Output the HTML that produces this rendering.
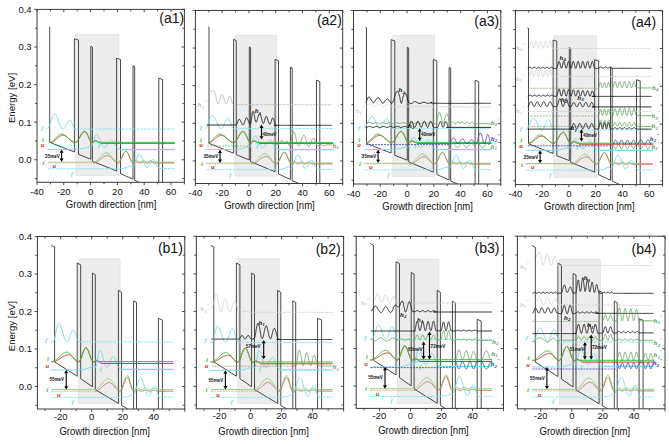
<!DOCTYPE html><html><head><meta charset="utf-8"><style>html,body{margin:0;padding:0;background:#fff;}svg{display:block;} .tk{}</style></head><body><svg width="669" height="446" viewBox="0 0 669 446" font-family='"Liberation Sans", sans-serif'>
<rect width="669" height="446" fill="#fff"/>
<clipPath id="ca1"><rect x="37.0" y="9.4" width="147.40" height="172.90"/></clipPath>
<rect x="75.80" y="34.60" width="43.10" height="140.90" fill="#ededed" stroke="#dcdcdc" stroke-width="0.6"/>
<g clip-path="url(#ca1)">
<g transform="translate(0.00,0.00)">
<path d="M49.2,26.7 49.7,27.2 49.7,142.3 74.4,152.0 74.4,38.7 78.5,40.2 78.5,154.4 90.8,159.2 90.8,46.2 92.4,47.0 92.4,161.2 116.6,171.0 116.6,58.2 120.5,59.5 120.5,173.6 133.0,179.2 133.0,65.8 134.7,66.5 134.7,180.4 158.8,191.0 158.8,78.1 162.6,79.5 162.6,196.0" fill="none" stroke="#363636" stroke-width="0.9" stroke-linejoin="miter"/>
</g>
<g transform="translate(0.00,0.00)">
<path d="M47.0,129.1 47.5,128.9 48.0,128.5 48.5,127.7 49.0,126.7 49.5,125.4 50.1,124.0 50.6,122.5 51.1,120.9 51.6,119.4 52.1,117.9 52.6,116.7 53.1,115.6 53.6,114.8 54.1,114.3 54.6,114.1 55.2,114.2 55.7,114.6 56.2,115.3 56.7,116.2 57.2,117.3 57.7,118.6 58.2,120.0 58.7,121.5 59.2,123.0 59.7,124.4 60.3,125.7 60.8,126.9 61.3,127.8 61.8,128.5 62.3,129.0 62.8,129.1 63.3,129.0 63.8,128.7 64.3,128.1 64.8,127.4 65.3,126.5 65.8,125.6 66.4,124.6 66.9,123.6 67.4,122.6 67.9,121.8 68.4,121.1 68.9,120.5 69.4,120.2 69.9,120.1 70.4,120.3 70.9,121.0 71.4,122.0 72.0,123.2 72.5,124.6 73.0,126.0 73.5,127.3 74.0,128.2 74.5,128.9 75.0,129.1 76.0,129.1" fill="none" stroke="#74dce8" stroke-width="0.9" stroke-linejoin="round"/>
<path d="M75.6,129.1 174.8,129.1" fill="none" stroke="#8fe3ea" stroke-width="0.9" stroke-dasharray="3,0.8" stroke-linejoin="round"/>
<path d="M48.0,149.4 75.0,149.4 80.0,149.0 85.0,148.2 89.5,146.8 90.5,147.6 91.0,147.4 91.5,146.7 92.0,145.7 92.5,144.4 93.0,142.9 93.5,141.2 94.1,139.5 94.6,137.9 95.1,136.5 95.6,135.4 96.1,134.7 96.6,134.4 97.1,134.5 97.6,134.9 98.1,135.5 98.6,136.4 99.1,137.5 99.6,138.8 100.1,140.1 100.6,141.5 101.2,142.9 101.7,144.2 102.2,145.4 102.7,146.3 103.2,147.0 103.7,147.5 104.2,147.6 104.7,147.5 105.2,147.3 105.7,146.9 106.2,146.3 106.7,145.7 107.2,144.9 107.7,144.1 108.2,143.3 108.7,142.5 109.2,141.8 109.7,141.2 110.2,140.7 110.7,140.3 111.2,140.1 111.7,140.0 112.2,140.2 112.7,140.7 113.2,141.4 113.7,142.3 114.2,143.4 114.7,144.4 115.2,145.4 115.7,146.3 116.2,147.0 116.7,147.5 117.2,147.6 119.0,149.1 121.0,149.5 121.5,149.5" fill="none" stroke="#74dce8" stroke-width="0.9" stroke-linejoin="round"/>
<path d="M121.0,149.5 174.8,149.5" fill="none" stroke="#74dce8" stroke-width="1.25" stroke-linejoin="round"/>
<path d="M49.8,142.6 50.3,142.6 50.8,142.5 51.3,142.4 51.8,142.2 52.3,141.9 52.8,141.7 53.4,141.4 53.9,141.0 54.4,140.6 54.9,140.2 55.4,139.8 55.9,139.3 56.4,138.9 56.9,138.5 57.4,138.0 57.9,137.6 58.4,137.2 58.9,136.8 59.5,136.4 60.0,136.1 60.5,135.9 61.0,135.6 61.5,135.4 62.0,135.3 62.5,135.2 63.0,135.2 63.5,135.2 64.0,135.3 64.5,135.5 65.0,135.7 65.5,136.0 66.1,136.3 66.6,136.7 67.1,137.1 67.6,137.5 68.1,137.9 68.6,138.4 69.1,138.9 69.6,139.4 70.1,139.9 70.6,140.3 71.1,140.8 71.6,141.2 72.2,141.5 72.7,141.8 73.2,142.1 73.7,142.3 74.2,142.5 74.7,142.6 75.2,142.6 75.7,142.5 76.2,142.3 76.7,141.9 77.2,141.4 77.7,140.8 78.2,140.0 78.7,139.2 79.2,138.3 79.7,137.4 80.2,136.5 80.7,135.6 81.2,134.7 81.7,133.9 82.2,133.2 82.7,132.5 83.2,132.0 83.8,131.7 84.3,131.5 84.8,131.4 85.3,131.5 85.8,131.9 86.3,132.5 86.8,133.3 87.3,134.3 87.8,135.3 88.3,136.5 88.8,137.6 89.3,138.8 89.8,139.8 90.3,140.8 90.8,141.5 91.3,142.1 91.8,142.5 92.3,142.6 92.8,142.5 93.3,142.3 93.8,141.9 94.4,141.5 94.9,141.2 95.4,141.1 95.9,141.1 96.4,141.2 96.9,141.4 97.4,141.7 97.9,142.0 98.5,142.2 99.0,142.4 99.5,142.6 100.0,142.6 101.0,143.3 174.8,143.3" fill="none" stroke="#cc3b2a" stroke-width="1.0" stroke-linejoin="round"/>
<path d="M49.8,142.3 50.3,142.3 50.8,142.1 51.3,142.0 51.8,141.7 52.3,141.4 52.8,141.0 53.4,140.5 53.9,140.1 54.4,139.5 54.9,139.0 55.4,138.4 55.9,137.9 56.4,137.3 56.9,136.8 57.4,136.3 57.9,135.8 58.4,135.3 58.9,134.9 59.5,134.6 60.0,134.3 60.5,134.2 61.0,134.0 61.5,134.0 62.0,134.0 62.5,134.1 63.0,134.2 63.5,134.4 64.0,134.7 64.5,135.0 65.0,135.3 65.5,135.7 66.1,136.1 66.6,136.5 67.1,137.0 67.6,137.4 68.1,137.9 68.6,138.4 69.1,138.9 69.6,139.3 70.1,139.8 70.6,140.2 71.1,140.6 71.6,141.0 72.2,141.3 72.7,141.6 73.2,141.9 73.7,142.0 74.2,142.2 74.7,142.3 75.2,142.3 75.7,142.2 76.2,142.0 76.7,141.6 77.2,141.1 77.7,140.5 78.2,139.8 78.7,139.0 79.2,138.2 79.7,137.3 80.2,136.4 80.7,135.5 81.2,134.7 81.7,133.9 82.2,133.2 82.7,132.6 83.2,132.1 83.8,131.8 84.3,131.6 84.8,131.5 85.3,131.6 85.8,132.0 86.3,132.6 86.8,133.4 87.3,134.3 87.8,135.3 88.3,136.4 88.8,137.5 89.3,138.6 89.8,139.6 90.3,140.5 90.8,141.3 91.3,141.8 91.8,142.2 92.3,142.3 92.8,142.2 93.3,141.8 93.8,141.4 94.4,140.9 94.9,140.5 95.4,140.3 95.9,140.3 96.4,140.5 96.9,140.8 97.4,141.1 97.9,141.4 98.5,141.8 99.0,142.1 99.5,142.2 100.0,142.3 174.8,142.3" fill="none" stroke="#3cc43c" stroke-width="1.0" stroke-linejoin="round"/>
<g transform="translate(0,0)">
<path d="M48.0,162.2 93.0,162.2" fill="none" stroke="#a9cf8f" stroke-width="1.0" stroke-linejoin="round"/>
<path d="M48.0,162.9 93.0,162.9" fill="none" stroke="#d99a88" stroke-width="0.6" stroke-dasharray="1.5,1.5" stroke-linejoin="round"/>
<path d="M93.0,162.1 93.5,162.1 94.0,162.1 94.5,162.0 95.0,161.8 95.5,161.6 96.0,161.3 96.5,160.9 97.0,160.6 97.5,160.1 98.0,159.6 98.5,159.1 99.0,158.6 99.5,158.1 100.0,157.5 100.5,156.9 101.0,156.4 101.5,155.9 102.0,155.4 102.5,154.9 103.0,154.4 103.5,154.1 104.0,153.7 104.5,153.4 105.0,153.2 105.5,153.0 106.0,152.9 106.5,152.9 107.0,152.9 107.5,153.1 108.0,153.3 108.5,153.6 109.0,153.9 109.5,154.4 110.0,154.8 110.5,155.4 111.0,156.0 111.5,156.6 112.0,157.2 112.5,157.8 113.0,158.4 113.5,159.0 114.0,159.6 114.5,160.2 115.0,160.6 115.5,161.1 116.0,161.4 116.5,161.7 117.0,161.9 117.5,162.1 118.0,162.1 118.5,162.0 119.0,161.7 119.5,161.2 120.0,160.5 120.5,159.7 121.0,158.7 121.5,157.7 122.0,156.7 122.5,155.6 123.0,154.6 123.5,153.6 124.0,152.8 124.5,152.1 125.0,151.6 125.5,151.3 126.0,151.2 126.5,151.3 127.0,151.7 127.5,152.4 128.0,153.3 128.5,154.3 129.0,155.4 129.5,156.7 130.0,157.9 130.5,159.0 131.0,160.0 131.5,160.9 132.0,161.6 132.5,162.0 133.0,162.1 133.5,162.0 134.0,161.9 134.5,161.6 135.0,161.3 135.5,161.0 136.0,160.9 136.5,160.8 137.0,160.9 137.5,161.0 138.0,161.3 138.5,161.6 139.0,161.9 139.5,162.0 140.0,162.1 140.5,162.0 141.0,161.9 141.5,161.6 142.0,161.3 142.5,161.0 143.0,160.9 143.5,160.8 144.0,160.9 144.5,161.0 145.0,161.3 145.5,161.6 146.0,161.9 146.5,162.0 147.0,162.1 147.5,162.0 148.0,161.9 148.5,161.6 149.0,161.3 149.5,161.0 150.0,160.9 150.5,160.8 151.0,160.9 151.5,161.0 152.0,161.3 152.5,161.6 153.0,161.9 153.5,162.0 154.0,162.1 174.3,162.1" fill="none" stroke="#7fcf7a" stroke-width="0.9" stroke-linejoin="round"/>
<path d="M93.0,163.0 93.5,163.0 94.0,163.0 94.5,162.9 95.0,162.8 95.5,162.6 96.0,162.4 96.5,162.2 97.0,161.9 97.5,161.6 98.0,161.3 98.5,160.9 99.0,160.5 99.5,160.1 100.0,159.7 100.5,159.3 101.0,158.9 101.5,158.5 102.0,158.1 102.5,157.7 103.0,157.3 103.5,157.0 104.0,156.7 104.5,156.4 105.0,156.2 105.5,156.0 106.0,155.8 106.5,155.7 107.0,155.6 107.5,155.6 108.0,155.6 108.5,155.8 109.0,156.0 109.5,156.2 110.0,156.6 110.5,157.0 111.0,157.4 111.5,157.9 112.0,158.5 112.5,159.0 113.0,159.6 113.5,160.1 114.0,160.7 114.5,161.2 115.0,161.6 115.5,162.0 116.0,162.4 116.5,162.6 117.0,162.8 117.5,163.0 118.0,163.0 118.5,162.9 119.0,162.6 119.5,162.0 120.0,161.3 120.5,160.4 121.0,159.4 121.5,158.3 122.0,157.2 122.5,156.1 123.0,155.0 123.5,154.0 124.0,153.1 124.5,152.4 125.0,151.8 125.5,151.5 126.0,151.4 126.5,151.5 127.0,152.0 127.5,152.7 128.0,153.6 128.5,154.7 129.0,155.9 129.5,157.2 130.0,158.5 130.5,159.7 131.0,160.8 131.5,161.7 132.0,162.4 132.5,162.9 133.0,163.0 133.5,163.0 134.0,162.8 134.5,162.6 135.0,162.4 135.5,162.2 136.0,162.0 136.5,162.0 137.0,162.0 137.5,162.2 138.0,162.4 138.5,162.6 139.0,162.8 139.5,163.0 140.0,163.0 140.5,163.0 141.0,162.8 141.5,162.6 142.0,162.4 142.5,162.2 143.0,162.0 143.5,162.0 144.0,162.0 144.5,162.2 145.0,162.4 145.5,162.6 146.0,162.8 146.5,163.0 147.0,163.0 147.5,163.0 148.0,162.8 148.5,162.6 149.0,162.4 149.5,162.2 150.0,162.0 150.5,162.0 151.0,162.0 151.5,162.2 152.0,162.4 152.5,162.6 153.0,162.8 153.5,163.0 154.0,163.0 174.3,163.0" fill="none" stroke="#c2704f" stroke-width="0.9" stroke-linejoin="round"/>
<path d="M48.0,168.8 121.3,168.8" fill="none" stroke="#8fe3ea" stroke-width="0.9" stroke-dasharray="3,0.8" stroke-linejoin="round"/>
<path d="M120.8,168.8 121.3,168.8 126.0,167.6 130.5,165.6 132.0,167.6 132.5,167.4 133.0,167.0 133.5,166.3 134.0,165.3 134.5,164.2 135.0,162.8 135.5,161.4 136.0,160.0 136.5,158.6 137.0,157.2 137.5,156.1 138.0,155.1 138.5,154.4 139.0,154.0 139.5,153.8 140.0,154.0 140.5,154.4 141.0,155.1 141.5,156.1 142.0,157.2 142.5,158.6 143.0,160.0 143.5,161.4 144.0,162.8 144.5,164.2 145.0,165.3 145.5,166.3 146.0,167.0 146.5,167.4 147.0,167.6 147.5,167.4 148.0,167.0 148.5,166.3 149.1,165.3 149.6,164.3 150.1,163.1 150.6,162.0 151.1,161.0 151.6,160.1 152.1,159.5 152.6,159.2 153.2,159.2 153.7,159.5 154.2,160.1 154.7,161.0 155.2,162.0 155.7,163.1 156.2,164.3 156.7,165.3 157.3,166.3 157.8,167.0 158.3,167.4 158.8,167.6 159.8,168.6 160.3,168.6" fill="none" stroke="#74dce8" stroke-width="0.9" stroke-linejoin="round"/>
<path d="M160.0,168.6 174.8,168.6" fill="none" stroke="#8fe3ea" stroke-width="0.9" stroke-dasharray="3,0.8" stroke-linejoin="round"/>
</g>
<text x="42.40" y="130.40" font-family='"Liberation Serif", serif' font-size="7" font-style="italic" font-weight="bold" fill="#74dce8" text-anchor="middle">f</text>
<text x="42.70" y="141.60" font-family='"Liberation Serif", serif' font-size="7" font-style="italic" font-weight="bold" fill="#3cc43c" text-anchor="middle">i</text>
<text x="42.60" y="147.20" font-family='"Liberation Serif", serif' font-size="6.5" font-style="italic" font-weight="bold" fill="#cc3b2a" text-anchor="middle">u</text>
<text x="44.20" y="165.40" font-family='"Liberation Serif", serif' font-size="7" font-style="italic" font-weight="bold" fill="#3cc43c" text-anchor="middle">i<tspan font-size='4.5' dy='-2.5'>'</tspan></text>
<text x="55.00" y="168.20" font-family='"Liberation Serif", serif' font-size="6.5" font-style="italic" font-weight="bold" fill="#cc3b2a" text-anchor="middle">u<tspan font-size='4.5' dy='-2.5'>'</tspan></text>
<text x="72.60" y="176.00" font-family='"Liberation Serif", serif' font-size="7" font-style="italic" font-weight="bold" fill="#74dce8" text-anchor="middle">f<tspan font-size='4.5' dy='-2.5'>'</tspan></text>
<text x="99.00" y="148.40" font-family='"Liberation Serif", serif' font-size="7" font-style="italic" font-weight="bold" fill="#74dce8" text-anchor="middle">f</text>
<text x="45.1" y="158.0" font-size="6.1" font-weight="bold" textLength="14.8" lengthAdjust="spacingAndGlyphs" fill="#111">35meV</text>
<path d="M61.60,152.30V159.10" stroke="#000" stroke-width="1.1"/><path d="M61.60,149.40L59.60,152.80L63.60,152.80Z M61.60,162.00L59.60,158.60L63.60,158.60Z" fill="#000"/>
</g>
</g>
<clipPath id="ca2"><rect x="195.4" y="10.45" width="147.30" height="173.05"/></clipPath>
<rect x="235.00" y="35.20" width="41.70" height="140.90" fill="#ededed" stroke="#dcdcdc" stroke-width="0.6"/>
<g clip-path="url(#ca2)">
<g transform="translate(158.40,0.70)">
<path d="M50.0,26.0 50.6,26.5 50.6,142.7 75.2,152.5 75.2,38.6 77.9,40.0 77.9,154.0 90.9,159.3 90.9,46.2 92.2,47.0 92.2,160.9 116.7,171.1 116.7,58.7 120.1,60.0 120.1,173.3 132.0,178.8 132.0,66.5 133.8,67.2 133.8,179.8 158.1,190.7 158.1,79.5 161.4,80.8 161.4,200.0" fill="none" stroke="#363636" stroke-width="0.9" stroke-linejoin="miter"/>
</g>
<g transform="translate(158.40,0.10)">
<path d="M47.0,128.5 47.5,128.3 48.0,127.8 48.5,126.9 49.0,125.8 49.5,124.4 50.0,122.9 50.5,121.4 51.0,119.9 51.5,118.5 52.0,117.3 52.5,116.4 53.0,115.8 53.5,115.5 54.0,115.6 54.5,115.8 55.0,116.2 55.5,116.8 56.0,117.5 56.5,118.3 57.0,119.3 57.5,120.3 58.0,121.3 58.5,122.4 59.0,123.5 59.5,124.5 60.0,125.5 60.5,126.4 61.0,127.1 61.5,127.7 62.0,128.1 62.5,128.4 63.0,128.5 63.5,128.3 64.0,127.9 64.5,127.2 65.0,126.2 65.5,125.1 66.0,123.9 66.5,122.6 67.0,121.3 67.5,120.2 68.0,119.2 68.5,118.4 69.0,117.9 69.5,117.7 70.0,117.8 70.5,118.4 71.0,119.4 71.5,120.7 72.0,122.2 72.5,123.7 73.0,125.2 73.5,126.6 74.0,127.6 74.5,128.3 75.0,128.5 76.0,128.5" fill="none" stroke="#74dce8" stroke-width="0.9" stroke-linejoin="round"/>
<path d="M75.6,128.5 174.8,128.5" fill="none" stroke="#8fe3ea" stroke-width="0.9" stroke-dasharray="3,0.8" stroke-linejoin="round"/>
<path d="M48.0,149.4 75.0,149.4 80.0,149.0 85.0,148.2 89.5,146.8 90.5,147.6 91.0,147.4 91.5,146.8 92.0,145.9 92.5,144.7 93.0,143.3 93.5,141.8 94.1,140.2 94.6,138.8 95.1,137.5 95.6,136.6 96.1,135.9 96.6,135.6 97.1,135.7 97.6,136.0 98.1,136.6 98.6,137.4 99.1,138.4 99.6,139.6 100.1,140.8 100.6,142.1 101.2,143.3 101.7,144.5 102.2,145.6 102.7,146.4 103.2,147.1 103.7,147.5 104.2,147.6 104.7,147.5 105.2,147.3 105.7,146.9 106.2,146.3 106.7,145.7 107.2,144.9 107.7,144.1 108.2,143.3 108.7,142.5 109.2,141.8 109.7,141.2 110.2,140.7 110.7,140.3 111.2,140.1 111.7,140.0 112.2,140.2 112.7,140.7 113.2,141.4 113.7,142.3 114.2,143.4 114.7,144.4 115.2,145.4 115.7,146.3 116.2,147.0 116.7,147.5 117.2,147.6 119.0,149.1 121.0,149.5 121.5,149.5" fill="none" stroke="#74dce8" stroke-width="0.9" stroke-linejoin="round"/>
<path d="M121.0,149.5 174.8,149.5" fill="none" stroke="#74dce8" stroke-width="1.25" stroke-linejoin="round"/>
<path d="M49.8,142.6 50.3,142.6 50.8,142.5 51.3,142.4 51.8,142.2 52.3,141.9 52.8,141.7 53.4,141.4 53.9,141.0 54.4,140.6 54.9,140.2 55.4,139.8 55.9,139.3 56.4,138.9 56.9,138.5 57.4,138.0 57.9,137.6 58.4,137.2 58.9,136.8 59.5,136.4 60.0,136.1 60.5,135.9 61.0,135.6 61.5,135.4 62.0,135.3 62.5,135.2 63.0,135.2 63.5,135.2 64.0,135.3 64.5,135.5 65.0,135.7 65.5,136.0 66.1,136.3 66.6,136.7 67.1,137.1 67.6,137.5 68.1,137.9 68.6,138.4 69.1,138.9 69.6,139.4 70.1,139.9 70.6,140.3 71.1,140.8 71.6,141.2 72.2,141.5 72.7,141.8 73.2,142.1 73.7,142.3 74.2,142.5 74.7,142.6 75.2,142.6 75.7,142.5 76.2,142.3 76.7,141.9 77.2,141.4 77.7,140.8 78.2,140.0 78.7,139.2 79.2,138.3 79.7,137.4 80.2,136.5 80.7,135.6 81.2,134.7 81.7,133.9 82.2,133.2 82.7,132.5 83.2,132.0 83.8,131.7 84.3,131.5 84.8,131.4 85.3,131.5 85.8,131.9 86.3,132.5 86.8,133.3 87.3,134.3 87.8,135.3 88.3,136.5 88.8,137.6 89.3,138.8 89.8,139.8 90.3,140.8 90.8,141.5 91.3,142.1 91.8,142.5 92.3,142.6 92.8,142.5 93.3,142.3 93.8,141.9 94.4,141.5 94.9,141.2 95.4,141.1 95.9,141.1 96.4,141.2 96.9,141.4 97.4,141.7 97.9,142.0 98.5,142.2 99.0,142.4 99.5,142.6 100.0,142.6 101.0,143.3 174.8,143.3" fill="none" stroke="#cc3b2a" stroke-width="1.0" stroke-linejoin="round"/>
<path d="M49.8,142.3 50.3,142.3 50.8,142.1 51.3,142.0 51.8,141.7 52.3,141.4 52.8,141.0 53.4,140.5 53.9,140.1 54.4,139.5 54.9,139.0 55.4,138.4 55.9,137.9 56.4,137.3 56.9,136.8 57.4,136.3 57.9,135.8 58.4,135.3 58.9,134.9 59.5,134.6 60.0,134.3 60.5,134.2 61.0,134.0 61.5,134.0 62.0,134.0 62.5,134.1 63.0,134.2 63.5,134.4 64.0,134.7 64.5,135.0 65.0,135.3 65.5,135.7 66.1,136.1 66.6,136.5 67.1,137.0 67.6,137.4 68.1,137.9 68.6,138.4 69.1,138.9 69.6,139.3 70.1,139.8 70.6,140.2 71.1,140.6 71.6,141.0 72.2,141.3 72.7,141.6 73.2,141.9 73.7,142.0 74.2,142.2 74.7,142.3 75.2,142.3 75.7,142.2 76.2,142.0 76.7,141.6 77.2,141.1 77.7,140.5 78.2,139.8 78.7,139.0 79.2,138.2 79.7,137.3 80.2,136.4 80.7,135.5 81.2,134.7 81.7,133.9 82.2,133.2 82.7,132.6 83.2,132.1 83.8,131.8 84.3,131.6 84.8,131.5 85.3,131.6 85.8,132.0 86.3,132.6 86.8,133.4 87.3,134.3 87.8,135.3 88.3,136.4 88.8,137.5 89.3,138.6 89.8,139.6 90.3,140.5 90.8,141.3 91.3,141.8 91.8,142.2 92.3,142.3 92.8,142.2 93.3,141.8 93.8,141.4 94.4,140.9 94.9,140.5 95.4,140.3 95.9,140.3 96.4,140.5 96.9,140.8 97.4,141.1 97.9,141.4 98.5,141.8 99.0,142.1 99.5,142.2 100.0,142.3 174.8,142.3" fill="none" stroke="#3cc43c" stroke-width="1.0" stroke-linejoin="round"/>
<g transform="translate(0,0.8)">
<path d="M48.0,162.2 93.0,162.2" fill="none" stroke="#a9cf8f" stroke-width="1.0" stroke-linejoin="round"/>
<path d="M48.0,162.9 93.0,162.9" fill="none" stroke="#d99a88" stroke-width="0.6" stroke-dasharray="1.5,1.5" stroke-linejoin="round"/>
<path d="M93.0,162.1 93.5,162.1 94.0,162.1 94.5,162.0 95.0,161.8 95.5,161.6 96.0,161.3 96.5,160.9 97.0,160.6 97.5,160.1 98.0,159.6 98.5,159.1 99.0,158.6 99.5,158.1 100.0,157.5 100.5,156.9 101.0,156.4 101.5,155.9 102.0,155.4 102.5,154.9 103.0,154.4 103.5,154.1 104.0,153.7 104.5,153.4 105.0,153.2 105.5,153.0 106.0,152.9 106.5,152.9 107.0,152.9 107.5,153.1 108.0,153.3 108.5,153.6 109.0,153.9 109.5,154.4 110.0,154.8 110.5,155.4 111.0,156.0 111.5,156.6 112.0,157.2 112.5,157.8 113.0,158.4 113.5,159.0 114.0,159.6 114.5,160.2 115.0,160.6 115.5,161.1 116.0,161.4 116.5,161.7 117.0,161.9 117.5,162.1 118.0,162.1 118.5,162.0 119.0,161.7 119.5,161.2 120.0,160.5 120.5,159.7 121.0,158.7 121.5,157.7 122.0,156.7 122.5,155.6 123.0,154.6 123.5,153.6 124.0,152.8 124.5,152.1 125.0,151.6 125.5,151.3 126.0,151.2 126.5,151.3 127.0,151.7 127.5,152.4 128.0,153.3 128.5,154.3 129.0,155.4 129.5,156.7 130.0,157.9 130.5,159.0 131.0,160.0 131.5,160.9 132.0,161.6 132.5,162.0 133.0,162.1 133.5,162.0 134.0,161.9 134.5,161.6 135.0,161.3 135.5,161.0 136.0,160.9 136.5,160.8 137.0,160.9 137.5,161.0 138.0,161.3 138.5,161.6 139.0,161.9 139.5,162.0 140.0,162.1 140.5,162.0 141.0,161.9 141.5,161.6 142.0,161.3 142.5,161.0 143.0,160.9 143.5,160.8 144.0,160.9 144.5,161.0 145.0,161.3 145.5,161.6 146.0,161.9 146.5,162.0 147.0,162.1 147.5,162.0 148.0,161.9 148.5,161.6 149.0,161.3 149.5,161.0 150.0,160.9 150.5,160.8 151.0,160.9 151.5,161.0 152.0,161.3 152.5,161.6 153.0,161.9 153.5,162.0 154.0,162.1 174.3,162.1" fill="none" stroke="#7fcf7a" stroke-width="0.9" stroke-linejoin="round"/>
<path d="M93.0,163.0 93.5,163.0 94.0,163.0 94.5,162.9 95.0,162.8 95.5,162.6 96.0,162.4 96.5,162.2 97.0,161.9 97.5,161.6 98.0,161.3 98.5,160.9 99.0,160.5 99.5,160.1 100.0,159.7 100.5,159.3 101.0,158.9 101.5,158.5 102.0,158.1 102.5,157.7 103.0,157.3 103.5,157.0 104.0,156.7 104.5,156.4 105.0,156.2 105.5,156.0 106.0,155.8 106.5,155.7 107.0,155.6 107.5,155.6 108.0,155.6 108.5,155.8 109.0,156.0 109.5,156.2 110.0,156.6 110.5,157.0 111.0,157.4 111.5,157.9 112.0,158.5 112.5,159.0 113.0,159.6 113.5,160.1 114.0,160.7 114.5,161.2 115.0,161.6 115.5,162.0 116.0,162.4 116.5,162.6 117.0,162.8 117.5,163.0 118.0,163.0 118.5,162.9 119.0,162.6 119.5,162.0 120.0,161.3 120.5,160.4 121.0,159.4 121.5,158.3 122.0,157.2 122.5,156.1 123.0,155.0 123.5,154.0 124.0,153.1 124.5,152.4 125.0,151.8 125.5,151.5 126.0,151.4 126.5,151.5 127.0,152.0 127.5,152.7 128.0,153.6 128.5,154.7 129.0,155.9 129.5,157.2 130.0,158.5 130.5,159.7 131.0,160.8 131.5,161.7 132.0,162.4 132.5,162.9 133.0,163.0 133.5,163.0 134.0,162.8 134.5,162.6 135.0,162.4 135.5,162.2 136.0,162.0 136.5,162.0 137.0,162.0 137.5,162.2 138.0,162.4 138.5,162.6 139.0,162.8 139.5,163.0 140.0,163.0 140.5,163.0 141.0,162.8 141.5,162.6 142.0,162.4 142.5,162.2 143.0,162.0 143.5,162.0 144.0,162.0 144.5,162.2 145.0,162.4 145.5,162.6 146.0,162.8 146.5,163.0 147.0,163.0 147.5,163.0 148.0,162.8 148.5,162.6 149.0,162.4 149.5,162.2 150.0,162.0 150.5,162.0 151.0,162.0 151.5,162.2 152.0,162.4 152.5,162.6 153.0,162.8 153.5,163.0 154.0,163.0 174.3,163.0" fill="none" stroke="#c2704f" stroke-width="0.9" stroke-linejoin="round"/>
<path d="M48.0,168.8 121.3,168.8" fill="none" stroke="#8fe3ea" stroke-width="0.9" stroke-dasharray="3,0.8" stroke-linejoin="round"/>
<path d="M120.8,168.8 121.3,168.8 126.0,167.6 130.5,165.6 132.0,167.6 132.5,167.4 133.0,167.0 133.5,166.3 134.0,165.3 134.5,164.2 135.0,162.8 135.5,161.4 136.0,160.0 136.5,158.6 137.0,157.2 137.5,156.1 138.0,155.1 138.5,154.4 139.0,154.0 139.5,153.8 140.0,154.0 140.5,154.4 141.0,155.1 141.5,156.1 142.0,157.2 142.5,158.6 143.0,160.0 143.5,161.4 144.0,162.8 144.5,164.2 145.0,165.3 145.5,166.3 146.0,167.0 146.5,167.4 147.0,167.6 147.5,167.4 148.0,167.0 148.5,166.3 149.1,165.3 149.6,164.3 150.1,163.1 150.6,162.0 151.1,161.0 151.6,160.1 152.1,159.5 152.6,159.2 153.2,159.2 153.7,159.5 154.2,160.1 154.7,161.0 155.2,162.0 155.7,163.1 156.2,164.3 156.7,165.3 157.3,166.3 157.8,167.0 158.3,167.4 158.8,167.6 159.8,168.6 160.3,168.6" fill="none" stroke="#74dce8" stroke-width="0.9" stroke-linejoin="round"/>
<path d="M160.0,168.6 174.8,168.6" fill="none" stroke="#8fe3ea" stroke-width="0.9" stroke-dasharray="3,0.8" stroke-linejoin="round"/>
</g>
<text x="42.40" y="130.40" font-family='"Liberation Serif", serif' font-size="7" font-style="italic" font-weight="bold" fill="#74dce8" text-anchor="middle">f</text>
<text x="42.70" y="141.60" font-family='"Liberation Serif", serif' font-size="7" font-style="italic" font-weight="bold" fill="#3cc43c" text-anchor="middle">i</text>
<text x="42.60" y="147.20" font-family='"Liberation Serif", serif' font-size="6.5" font-style="italic" font-weight="bold" fill="#cc3b2a" text-anchor="middle">u</text>
<text x="44.20" y="166.20" font-family='"Liberation Serif", serif' font-size="7" font-style="italic" font-weight="bold" fill="#3cc43c" text-anchor="middle">i<tspan font-size='4.5' dy='-2.5'>'</tspan></text>
<text x="55.00" y="169.00" font-family='"Liberation Serif", serif' font-size="6.5" font-style="italic" font-weight="bold" fill="#cc3b2a" text-anchor="middle">u<tspan font-size='4.5' dy='-2.5'>'</tspan></text>
<text x="72.60" y="176.80" font-family='"Liberation Serif", serif' font-size="7" font-style="italic" font-weight="bold" fill="#74dce8" text-anchor="middle">f<tspan font-size='4.5' dy='-2.5'>'</tspan></text>
<text x="99.00" y="148.40" font-family='"Liberation Serif", serif' font-size="7" font-style="italic" font-weight="bold" fill="#74dce8" text-anchor="middle">f</text>
<text x="45.1" y="158.0" font-size="6.1" font-weight="bold" textLength="14.8" lengthAdjust="spacingAndGlyphs" fill="#111">35meV</text>
<path d="M61.60,152.30V159.90" stroke="#000" stroke-width="1.1"/><path d="M61.60,149.40L59.60,152.80L63.60,152.80Z M61.60,162.80L59.60,159.40L63.60,159.40Z" fill="#000"/>
</g>
</g>
<g clip-path="url(#ca2)">
<path d="M209.5,92.5 210.0,91.9 210.5,91.3 210.9,91.3 211.3,91.2 211.7,91.1 212.2,91.1 212.6,91.0 213.0,90.9 213.4,90.8 213.8,90.8 214.2,91.1 214.5,91.5 214.7,92.1 214.9,92.7 215.1,93.5 215.3,94.1 215.4,94.7 215.6,95.3 215.7,96.0 215.9,96.7 216.0,97.3 216.1,98.0 216.3,98.7 216.4,99.4 216.6,100.0 216.7,100.6 216.9,101.2 217.1,102.0 217.3,102.6 217.5,103.2 217.8,103.6 218.2,103.9 218.6,103.6 218.8,103.3 219.0,102.8 219.2,102.2 219.4,101.6 219.6,100.8 219.8,100.0 219.9,99.5 220.1,98.9 220.2,98.4 220.4,97.6 220.6,96.9 220.8,96.2 221.0,95.6 221.2,95.1 221.4,94.8 221.8,94.5 222.2,94.7 222.5,95.0 222.7,95.4 222.9,95.9 223.1,96.5 223.3,97.1 223.6,97.8 223.8,98.5 224.0,99.2 224.2,100.0 224.4,100.7 224.7,101.4 224.9,102.0 225.1,102.6 225.3,103.1 225.5,103.5 225.8,103.8 226.2,104.0 226.6,103.8 226.8,103.5 227.0,103.1 227.2,102.6 227.4,102.0 227.6,101.3 227.8,100.7 228.0,100.0 228.2,99.2 228.4,98.6 228.6,97.9 228.8,97.3 229.0,96.8 229.2,96.4 229.4,96.1 229.8,95.9 230.2,96.2 230.4,96.6 230.7,97.1 230.9,97.8 231.1,98.5 231.2,99.0 231.4,99.6 231.5,100.2 231.6,100.7 231.8,101.3 231.9,101.8 232.1,102.5 232.4,103.2 232.6,103.7 232.8,104.1 233.2,104.4" fill="none" stroke="#bdbdbd" stroke-width="0.9" stroke-linejoin="round"/>
<path d="M233.2,104.6 332.0,104.8" fill="none" stroke="#bdbdbd" stroke-width="0.8" stroke-dasharray="3,0.8" stroke-linejoin="round"/>
<text x="202.60" y="107.00" font-family='"Liberation Serif", serif' font-size="7.0" font-style="italic" font-weight="bold" fill="#bdbdbd" text-anchor="middle">h<tspan font-size='5' dy='1.6'>1</tspan><tspan font-size='5.5' dy='-4.5'>''</tspan></text>
<path d="M206.9,125.0 236.0,125.0 236.0,125.0 236.4,124.8 236.8,124.2 237.0,123.7 237.2,123.2 237.4,122.7 237.7,122.1 237.9,121.5 238.1,121.0 238.3,120.5 238.5,120.0 238.9,119.4 239.3,119.2 239.7,119.4 240.1,119.9 240.3,120.2 240.5,120.7 240.7,121.1 240.9,121.6 241.2,122.1 241.4,122.6 241.6,123.1 241.8,123.5 242.0,124.0 242.2,124.3 242.6,124.8 243.0,125.0 243.5,124.7 243.7,124.4 243.9,123.9 244.1,123.4 244.4,122.8 244.6,122.1 244.8,121.4 245.0,120.7 245.3,120.0 245.5,119.4 245.7,118.9 245.9,118.4 246.1,118.1 246.6,117.8 247.0,118.0 247.3,118.3 247.5,118.7 247.7,119.2 247.9,119.8 248.2,120.4 248.4,121.0 248.6,121.6 248.8,122.2 249.1,122.8 249.3,123.3 249.5,123.7 249.8,124.0 250.2,124.2 250.6,123.6 250.8,123.1 250.9,122.5 251.0,121.8 251.1,121.2 251.2,120.5 251.3,119.8 251.4,119.1 251.5,118.4 251.7,117.7 251.8,117.0 251.9,116.3 252.0,115.6 252.1,114.9 252.2,114.2 252.3,113.6 252.4,112.9 252.5,112.3 252.7,111.8 253.1,111.2 253.5,111.7 253.7,112.4 253.9,113.3 254.1,113.9 254.2,114.7 254.3,115.4 254.4,116.0 254.6,116.6 254.7,117.3 254.8,117.9 254.9,118.6 255.0,119.4 255.2,120.0 255.4,120.9 255.6,121.6 256.0,122.1 256.4,121.8 256.6,121.5 256.8,121.1 257.0,120.5 257.2,119.9 257.4,119.2 257.6,118.5 257.9,117.8 258.1,117.0 258.3,116.3 258.5,115.6 258.7,115.0 258.9,114.4 259.1,114.0 259.3,113.7 259.7,113.4 260.1,113.7 260.3,114.1 260.5,114.6 260.7,115.2 260.9,115.9 261.0,116.5 261.2,117.0 261.3,117.6 261.4,118.2 261.6,118.8 261.7,119.4 261.8,120.0 262.0,120.5 262.1,121.1 262.3,121.8 262.5,122.4 262.7,122.9 262.9,123.3 263.3,123.6 263.7,123.2 263.9,122.8 264.1,122.2 264.3,121.5 264.5,120.8 264.7,120.2 264.8,119.7 265.0,119.1 265.2,118.4 265.4,117.7 265.6,117.1 265.8,116.7 266.2,116.3 266.6,116.5 266.8,116.8 267.0,117.2 267.2,117.7 267.4,118.3 267.6,118.9 267.8,119.6 268.0,120.3 268.3,121.0 268.5,121.7 268.7,122.3 268.9,122.9 269.1,123.4 269.3,123.8 269.5,124.1 269.9,124.3 270.3,124.0 270.5,123.6 270.7,123.1 270.9,122.5 271.1,121.8 271.3,121.0 271.6,120.3 271.8,119.6 272.0,119.0 272.2,118.5 272.4,118.1 272.8,117.8 273.2,118.2 273.5,118.6 273.7,119.2 273.9,119.9 274.1,120.7 274.3,121.2 274.4,121.8 274.6,122.3 274.8,123.1 275.0,123.8 275.2,124.4 275.5,124.8 275.9,125.2 275.2,125.2 273.9,125.3 274.2,125.3 278.5,125.3 278.9,125.3 279.4,125.3 279.9,125.3 280.4,125.3 281.0,125.3 281.6,125.3 282.2,125.3 282.9,125.3 283.5,125.3 284.2,125.3 285.0,125.3 285.7,125.3 286.5,125.3 287.3,125.3 288.1,125.3 288.9,125.3 289.7,125.3 290.6,125.3 291.5,125.3 292.4,125.3 293.3,125.3 294.2,125.3 295.1,125.3 296.1,125.3 297.0,125.3 298.0,125.3 299.0,125.3 299.9,125.3 300.9,125.3 301.9,125.3 302.9,125.3 303.9,125.3 304.9,125.3 305.9,125.3 306.8,125.3 307.8,125.3 308.8,125.3 309.8,125.3 310.8,125.3 311.8,125.3 312.7,125.3 313.7,125.3 314.6,125.3 315.6,125.3 316.5,125.3 317.4,125.3 318.3,125.3 319.2,125.3 320.0,125.3 320.9,125.3 321.7,125.3 322.6,125.3 323.4,125.3 324.1,125.3 324.9,125.3 325.6,125.3 326.3,125.3 327.0,125.3 327.7,125.3 328.3,125.3 328.9,125.3 329.5,125.3 330.0,125.3 330.6,125.3 331.0,125.3 331.5,125.3 331.9,125.3" fill="none" stroke="#1a1a1a" stroke-width="0.9" stroke-linejoin="round"/>
<text x="258.00" y="113.00" font-family='"Liberation Serif", serif' font-size="7.0" font-style="italic" font-weight="bold" fill="#1a1a1a" text-anchor="middle">h<tspan font-size='5' dy='1.6'>1</tspan></text>
<path d="M261.50,127.50V136.70" stroke="#000" stroke-width="1.1"/><path d="M261.50,124.60L259.50,128.00L263.50,128.00Z M261.50,139.60L259.50,136.20L263.50,136.20Z" fill="#000"/>
<text x="262.60" y="135.60" font-size="6.0" font-weight="bold" textLength="13.8" lengthAdjust="spacingAndGlyphs" fill="#111">40meV</text>
<path d="M207.0,146.0 250.0,146.0" fill="none" stroke="#8a9a50" stroke-width="0.7" stroke-dasharray="2,1" stroke-linejoin="round"/>
<path d="M276.5,144.6 277.1,144.6 277.9,144.6 278.6,144.6 279.0,144.4 279.4,144.0 279.7,143.6 279.9,143.2 280.1,142.8 280.3,142.4 280.5,142.0 280.7,141.6 280.9,141.2 281.1,140.8 281.6,140.4 282.0,140.2 282.5,140.5 282.7,140.9 282.9,141.4 283.1,142.0 283.4,142.6 283.6,143.1 283.8,143.5 284.3,143.8 284.8,143.5 285.0,143.2 285.3,142.8 285.5,142.4 285.7,142.0 286.0,141.6 286.2,141.3 286.7,141.0 287.1,141.2 287.3,141.5 287.5,141.9 287.7,142.4 287.9,142.9 288.1,143.5 288.3,144.1 288.5,144.6 288.7,145.1 288.9,145.5 289.1,145.8 289.5,146.0 289.9,145.6 290.1,145.2 290.3,144.6 290.5,144.2 290.6,143.6 290.8,143.0 290.9,142.4 291.0,141.7 291.2,141.0 291.3,140.3 291.5,139.5 291.6,138.8 291.7,138.1 291.9,137.3 292.0,136.6 292.2,135.9 292.3,135.2 292.4,134.6 292.6,134.0 292.7,133.4 292.9,133.0 293.1,132.4 293.3,132.0 293.7,131.6 294.1,131.9 294.3,132.3 294.6,132.8 294.8,133.4 295.0,134.1 295.1,134.7 295.3,135.3 295.4,135.9 295.6,136.5 295.7,137.2 295.8,137.9 296.0,138.6 296.1,139.2 296.3,139.9 296.4,140.6 296.5,141.3 296.7,141.9 296.8,142.5 297.0,143.1 297.1,143.7 297.3,144.4 297.5,145.0 297.8,145.5 298.0,145.9 298.4,146.2 298.8,146.0 299.2,145.6 299.5,145.2 299.7,144.8 299.9,144.4 300.1,143.8 300.3,143.3 300.5,142.7 300.7,142.1 300.9,141.4 301.1,140.7 301.4,140.1 301.6,139.4 301.8,138.8 302.0,138.2 302.2,137.7 302.4,137.1 302.6,136.7 302.8,136.3 303.1,135.9 303.5,135.5 303.9,135.3 304.3,135.5 304.7,136.1 304.9,136.5 305.1,137.0 305.3,137.5 305.5,138.1 305.7,138.8 305.9,139.5 306.1,140.2 306.4,140.9 306.6,141.7 306.8,142.4 307.0,143.1 307.2,143.8 307.4,144.4 307.6,144.9 307.8,145.4 308.0,145.8 308.4,146.4 308.8,146.6 309.2,146.4 309.6,145.9 309.8,145.5 310.1,145.1 310.3,144.6 310.5,144.1 310.7,143.5 310.9,142.9 311.1,142.2 311.3,141.6 311.5,141.0 311.7,140.4 311.9,139.9 312.1,139.4 312.4,139.0 312.6,138.6 313.0,138.1 313.4,137.9 313.8,138.1 314.2,138.7 314.4,139.1 314.7,139.6 314.9,140.1 315.1,140.7 315.3,141.3 315.5,141.9 315.7,142.6 315.9,143.2 316.1,143.8 316.3,144.3 316.5,144.8 316.8,145.2 317.2,145.8 317.6,146.0 318.0,145.9 318.4,145.7 318.8,145.4 319.3,145.1 319.7,144.8 320.1,144.6 320.5,144.5 320.9,144.6 321.4,144.7 321.8,144.9 322.2,145.2 322.6,145.4 323.1,145.5 323.5,145.6 323.9,145.6 324.4,145.5 324.8,145.4 325.2,145.2 325.7,145.1 326.1,145.0 326.6,144.9 327.0,144.9 327.5,144.9 328.2,144.9 329.1,144.9 330.0,144.9 330.8,144.9 331.5,144.9 332.0,144.9" fill="none" stroke="#5aa25a" stroke-width="0.8" stroke-linejoin="round"/>
<text x="336.50" y="147.60" font-family='"Liberation Serif", serif' font-size="7.0" font-style="italic" font-weight="bold" fill="#5aa25a" text-anchor="middle">h<tspan font-size='5' dy='1.6'>1</tspan><tspan font-size='5.5' dy='-4.5'>'</tspan></text>
</g>
<clipPath id="ca3"><rect x="353.5" y="10.5" width="147.30" height="173.50"/></clipPath>
<rect x="392.80" y="35.20" width="41.80" height="141.50" fill="#ededed" stroke="#dcdcdc" stroke-width="0.6"/>
<g clip-path="url(#ca3)">
<g transform="translate(316.50,1.00)">
<path d="M49.0,26.3 50.0,26.8 50.0,142.4 74.6,152.1 74.6,38.6 78.3,40.0 78.3,154.3 90.8,159.2 90.8,46.2 92.2,47.0 92.2,160.9 116.8,171.1 116.8,58.5 120.3,59.8 120.3,173.5 132.6,179.0 132.6,66.5 134.2,67.2 134.2,180.0 158.6,190.9 158.6,79.3 162.2,80.6 162.2,200.0" fill="none" stroke="#363636" stroke-width="0.9" stroke-linejoin="miter"/>
</g>
<g transform="translate(316.50,0.10)">
<path d="M47.0,128.3 47.5,128.2 48.0,127.9 48.5,127.4 49.0,126.7 49.5,125.9 50.0,124.9 50.5,123.9 51.0,122.8 51.5,121.6 52.0,120.5 52.5,119.5 53.0,118.5 53.5,117.6 54.0,116.9 54.5,116.4 55.0,116.0 55.5,115.9 56.0,116.0 56.5,116.3 57.0,117.0 57.5,117.8 58.0,118.8 58.5,120.0 59.0,121.3 59.5,122.6 60.0,123.9 60.5,125.1 61.0,126.2 61.5,127.1 62.0,127.7 62.5,128.2 63.0,128.3 63.5,128.2 64.0,127.8 64.5,127.3 65.0,126.5 65.5,125.6 66.0,124.6 66.5,123.5 67.0,122.4 67.5,121.4 68.0,120.4 68.5,119.5 69.0,118.8 69.5,118.3 70.0,118.0 70.5,117.9 71.0,118.3 71.5,119.3 72.0,120.7 72.5,122.4 73.0,124.2 73.5,125.8 74.0,127.1 74.5,128.0 75.0,128.3 76.0,128.3" fill="none" stroke="#74dce8" stroke-width="0.9" stroke-linejoin="round"/>
<path d="M75.6,128.3 174.8,128.3" fill="none" stroke="#8fe3ea" stroke-width="0.9" stroke-dasharray="3,0.8" stroke-linejoin="round"/>
<path d="M48.0,149.4 75.0,149.4 80.0,149.0 85.0,148.2 89.5,146.8 90.5,147.6 91.0,147.4 91.5,146.9 92.0,146.1 92.5,145.1 93.0,143.8 93.5,142.5 94.1,141.2 94.6,139.9 95.1,138.8 95.6,137.9 96.1,137.4 96.6,137.1 97.1,137.2 97.6,137.5 98.1,138.0 98.6,138.7 99.1,139.6 99.6,140.6 100.1,141.7 100.6,142.8 101.2,143.9 101.7,144.9 102.2,145.8 102.7,146.6 103.2,147.1 103.7,147.5 104.2,147.6 104.7,147.5 105.2,147.3 105.7,146.9 106.2,146.3 106.7,145.7 107.2,144.9 107.7,144.1 108.2,143.3 108.7,142.5 109.2,141.8 109.7,141.2 110.2,140.7 110.7,140.3 111.2,140.1 111.7,140.0 112.2,140.2 112.7,140.7 113.2,141.4 113.7,142.3 114.2,143.4 114.7,144.4 115.2,145.4 115.7,146.3 116.2,147.0 116.7,147.5 117.2,147.6 119.0,149.1 121.0,149.5 121.5,149.5" fill="none" stroke="#74dce8" stroke-width="0.9" stroke-linejoin="round"/>
<path d="M121.0,149.5 174.8,149.5" fill="none" stroke="#74dce8" stroke-width="1.25" stroke-linejoin="round"/>
<path d="M49.8,142.6 50.3,142.6 50.8,142.5 51.3,142.4 51.8,142.2 52.3,141.9 52.8,141.7 53.4,141.4 53.9,141.0 54.4,140.6 54.9,140.2 55.4,139.8 55.9,139.3 56.4,138.9 56.9,138.5 57.4,138.0 57.9,137.6 58.4,137.2 58.9,136.8 59.5,136.4 60.0,136.1 60.5,135.9 61.0,135.6 61.5,135.4 62.0,135.3 62.5,135.2 63.0,135.2 63.5,135.2 64.0,135.3 64.5,135.5 65.0,135.7 65.5,136.0 66.1,136.3 66.6,136.7 67.1,137.1 67.6,137.5 68.1,137.9 68.6,138.4 69.1,138.9 69.6,139.4 70.1,139.9 70.6,140.3 71.1,140.8 71.6,141.2 72.2,141.5 72.7,141.8 73.2,142.1 73.7,142.3 74.2,142.5 74.7,142.6 75.2,142.6 75.7,142.5 76.2,142.3 76.7,141.9 77.2,141.4 77.7,140.8 78.2,140.0 78.7,139.2 79.2,138.3 79.7,137.4 80.2,136.5 80.7,135.6 81.2,134.7 81.7,133.9 82.2,133.2 82.7,132.5 83.2,132.0 83.8,131.7 84.3,131.5 84.8,131.4 85.3,131.5 85.8,131.9 86.3,132.5 86.8,133.3 87.3,134.3 87.8,135.3 88.3,136.5 88.8,137.6 89.3,138.8 89.8,139.8 90.3,140.8 90.8,141.5 91.3,142.1 91.8,142.5 92.3,142.6 92.8,142.5 93.3,142.3 93.8,141.9 94.4,141.5 94.9,141.2 95.4,141.1 95.9,141.1 96.4,141.2 96.9,141.4 97.4,141.7 97.9,142.0 98.5,142.2 99.0,142.4 99.5,142.6 100.0,142.6 101.0,143.3 174.8,143.3" fill="none" stroke="#cc3b2a" stroke-width="1.0" stroke-linejoin="round"/>
<path d="M49.8,142.3 50.3,142.3 50.8,142.1 51.3,142.0 51.8,141.7 52.3,141.4 52.8,141.0 53.4,140.5 53.9,140.1 54.4,139.5 54.9,139.0 55.4,138.4 55.9,137.9 56.4,137.3 56.9,136.8 57.4,136.3 57.9,135.8 58.4,135.3 58.9,134.9 59.5,134.6 60.0,134.3 60.5,134.2 61.0,134.0 61.5,134.0 62.0,134.0 62.5,134.1 63.0,134.2 63.5,134.4 64.0,134.7 64.5,135.0 65.0,135.3 65.5,135.7 66.1,136.1 66.6,136.5 67.1,137.0 67.6,137.4 68.1,137.9 68.6,138.4 69.1,138.9 69.6,139.3 70.1,139.8 70.6,140.2 71.1,140.6 71.6,141.0 72.2,141.3 72.7,141.6 73.2,141.9 73.7,142.0 74.2,142.2 74.7,142.3 75.2,142.3 75.7,142.2 76.2,142.0 76.7,141.6 77.2,141.1 77.7,140.5 78.2,139.8 78.7,139.0 79.2,138.2 79.7,137.3 80.2,136.4 80.7,135.5 81.2,134.7 81.7,133.9 82.2,133.2 82.7,132.6 83.2,132.1 83.8,131.8 84.3,131.6 84.8,131.5 85.3,131.6 85.8,132.0 86.3,132.6 86.8,133.4 87.3,134.3 87.8,135.3 88.3,136.4 88.8,137.5 89.3,138.6 89.8,139.6 90.3,140.5 90.8,141.3 91.3,141.8 91.8,142.2 92.3,142.3 92.8,142.2 93.3,141.8 93.8,141.4 94.4,140.9 94.9,140.5 95.4,140.3 95.9,140.3 96.4,140.5 96.9,140.8 97.4,141.1 97.9,141.4 98.5,141.8 99.0,142.1 99.5,142.2 100.0,142.3 174.8,142.3" fill="none" stroke="#3cc43c" stroke-width="1.0" stroke-linejoin="round"/>
<g transform="translate(0,1.0)">
<path d="M48.0,162.2 93.0,162.2" fill="none" stroke="#a9cf8f" stroke-width="1.0" stroke-linejoin="round"/>
<path d="M48.0,162.9 93.0,162.9" fill="none" stroke="#d99a88" stroke-width="0.6" stroke-dasharray="1.5,1.5" stroke-linejoin="round"/>
<path d="M93.0,162.1 93.5,162.1 94.0,162.1 94.5,162.0 95.0,161.8 95.5,161.6 96.0,161.3 96.5,160.9 97.0,160.6 97.5,160.1 98.0,159.6 98.5,159.1 99.0,158.6 99.5,158.1 100.0,157.5 100.5,156.9 101.0,156.4 101.5,155.9 102.0,155.4 102.5,154.9 103.0,154.4 103.5,154.1 104.0,153.7 104.5,153.4 105.0,153.2 105.5,153.0 106.0,152.9 106.5,152.9 107.0,152.9 107.5,153.1 108.0,153.3 108.5,153.6 109.0,153.9 109.5,154.4 110.0,154.8 110.5,155.4 111.0,156.0 111.5,156.6 112.0,157.2 112.5,157.8 113.0,158.4 113.5,159.0 114.0,159.6 114.5,160.2 115.0,160.6 115.5,161.1 116.0,161.4 116.5,161.7 117.0,161.9 117.5,162.1 118.0,162.1 118.5,162.0 119.0,161.7 119.5,161.2 120.0,160.5 120.5,159.7 121.0,158.7 121.5,157.7 122.0,156.7 122.5,155.6 123.0,154.6 123.5,153.6 124.0,152.8 124.5,152.1 125.0,151.6 125.5,151.3 126.0,151.2 126.5,151.3 127.0,151.7 127.5,152.4 128.0,153.3 128.5,154.3 129.0,155.4 129.5,156.7 130.0,157.9 130.5,159.0 131.0,160.0 131.5,160.9 132.0,161.6 132.5,162.0 133.0,162.1 133.5,162.0 134.0,161.9 134.5,161.6 135.0,161.3 135.5,161.0 136.0,160.9 136.5,160.8 137.0,160.9 137.5,161.0 138.0,161.3 138.5,161.6 139.0,161.9 139.5,162.0 140.0,162.1 140.5,162.0 141.0,161.9 141.5,161.6 142.0,161.3 142.5,161.0 143.0,160.9 143.5,160.8 144.0,160.9 144.5,161.0 145.0,161.3 145.5,161.6 146.0,161.9 146.5,162.0 147.0,162.1 147.5,162.0 148.0,161.9 148.5,161.6 149.0,161.3 149.5,161.0 150.0,160.9 150.5,160.8 151.0,160.9 151.5,161.0 152.0,161.3 152.5,161.6 153.0,161.9 153.5,162.0 154.0,162.1 174.3,162.1" fill="none" stroke="#7fcf7a" stroke-width="0.9" stroke-linejoin="round"/>
<path d="M93.0,163.0 93.5,163.0 94.0,163.0 94.5,162.9 95.0,162.8 95.5,162.6 96.0,162.4 96.5,162.2 97.0,161.9 97.5,161.6 98.0,161.3 98.5,160.9 99.0,160.5 99.5,160.1 100.0,159.7 100.5,159.3 101.0,158.9 101.5,158.5 102.0,158.1 102.5,157.7 103.0,157.3 103.5,157.0 104.0,156.7 104.5,156.4 105.0,156.2 105.5,156.0 106.0,155.8 106.5,155.7 107.0,155.6 107.5,155.6 108.0,155.6 108.5,155.8 109.0,156.0 109.5,156.2 110.0,156.6 110.5,157.0 111.0,157.4 111.5,157.9 112.0,158.5 112.5,159.0 113.0,159.6 113.5,160.1 114.0,160.7 114.5,161.2 115.0,161.6 115.5,162.0 116.0,162.4 116.5,162.6 117.0,162.8 117.5,163.0 118.0,163.0 118.5,162.9 119.0,162.6 119.5,162.0 120.0,161.3 120.5,160.4 121.0,159.4 121.5,158.3 122.0,157.2 122.5,156.1 123.0,155.0 123.5,154.0 124.0,153.1 124.5,152.4 125.0,151.8 125.5,151.5 126.0,151.4 126.5,151.5 127.0,152.0 127.5,152.7 128.0,153.6 128.5,154.7 129.0,155.9 129.5,157.2 130.0,158.5 130.5,159.7 131.0,160.8 131.5,161.7 132.0,162.4 132.5,162.9 133.0,163.0 133.5,163.0 134.0,162.8 134.5,162.6 135.0,162.4 135.5,162.2 136.0,162.0 136.5,162.0 137.0,162.0 137.5,162.2 138.0,162.4 138.5,162.6 139.0,162.8 139.5,163.0 140.0,163.0 140.5,163.0 141.0,162.8 141.5,162.6 142.0,162.4 142.5,162.2 143.0,162.0 143.5,162.0 144.0,162.0 144.5,162.2 145.0,162.4 145.5,162.6 146.0,162.8 146.5,163.0 147.0,163.0 147.5,163.0 148.0,162.8 148.5,162.6 149.0,162.4 149.5,162.2 150.0,162.0 150.5,162.0 151.0,162.0 151.5,162.2 152.0,162.4 152.5,162.6 153.0,162.8 153.5,163.0 154.0,163.0 174.3,163.0" fill="none" stroke="#c2704f" stroke-width="0.9" stroke-linejoin="round"/>
<path d="M48.0,168.8 121.3,168.8" fill="none" stroke="#8fe3ea" stroke-width="0.9" stroke-dasharray="3,0.8" stroke-linejoin="round"/>
<path d="M120.8,168.8 121.3,168.8 126.0,167.6 130.5,165.6 132.0,167.6 132.5,167.4 133.0,167.0 133.5,166.3 134.0,165.3 134.5,164.2 135.0,162.8 135.5,161.4 136.0,160.0 136.5,158.6 137.0,157.2 137.5,156.1 138.0,155.1 138.5,154.4 139.0,154.0 139.5,153.8 140.0,154.0 140.5,154.4 141.0,155.1 141.5,156.1 142.0,157.2 142.5,158.6 143.0,160.0 143.5,161.4 144.0,162.8 144.5,164.2 145.0,165.3 145.5,166.3 146.0,167.0 146.5,167.4 147.0,167.6 147.5,167.4 148.0,167.0 148.5,166.3 149.1,165.3 149.6,164.3 150.1,163.1 150.6,162.0 151.1,161.0 151.6,160.1 152.1,159.5 152.6,159.2 153.2,159.2 153.7,159.5 154.2,160.1 154.7,161.0 155.2,162.0 155.7,163.1 156.2,164.3 156.7,165.3 157.3,166.3 157.8,167.0 158.3,167.4 158.8,167.6 159.8,168.6 160.3,168.6" fill="none" stroke="#74dce8" stroke-width="0.9" stroke-linejoin="round"/>
<path d="M160.0,168.6 174.8,168.6" fill="none" stroke="#8fe3ea" stroke-width="0.9" stroke-dasharray="3,0.8" stroke-linejoin="round"/>
</g>
<text x="42.40" y="130.40" font-family='"Liberation Serif", serif' font-size="7" font-style="italic" font-weight="bold" fill="#74dce8" text-anchor="middle">f</text>
<text x="42.70" y="141.60" font-family='"Liberation Serif", serif' font-size="7" font-style="italic" font-weight="bold" fill="#3cc43c" text-anchor="middle">i</text>
<text x="42.60" y="147.20" font-family='"Liberation Serif", serif' font-size="6.5" font-style="italic" font-weight="bold" fill="#cc3b2a" text-anchor="middle">u</text>
<text x="44.20" y="166.40" font-family='"Liberation Serif", serif' font-size="7" font-style="italic" font-weight="bold" fill="#3cc43c" text-anchor="middle">i<tspan font-size='4.5' dy='-2.5'>'</tspan></text>
<text x="55.00" y="169.20" font-family='"Liberation Serif", serif' font-size="6.5" font-style="italic" font-weight="bold" fill="#cc3b2a" text-anchor="middle">u<tspan font-size='4.5' dy='-2.5'>'</tspan></text>
<text x="72.60" y="177.00" font-family='"Liberation Serif", serif' font-size="7" font-style="italic" font-weight="bold" fill="#74dce8" text-anchor="middle">f<tspan font-size='4.5' dy='-2.5'>'</tspan></text>
<text x="99.00" y="148.40" font-family='"Liberation Serif", serif' font-size="7" font-style="italic" font-weight="bold" fill="#74dce8" text-anchor="middle">f</text>
<text x="45.1" y="158.0" font-size="6.1" font-weight="bold" textLength="14.8" lengthAdjust="spacingAndGlyphs" fill="#111">35meV</text>
<path d="M61.60,152.30V160.10" stroke="#000" stroke-width="1.1"/><path d="M61.60,149.40L59.60,152.80L63.60,152.80Z M61.60,163.00L59.60,159.60L63.60,159.60Z" fill="#000"/>
</g>
</g>
<g clip-path="url(#ca3)">
<path d="M365.8,106.8 366.3,106.7 366.8,106.5 367.3,106.1 367.8,105.7 368.3,105.3 368.8,104.8 369.3,104.5 369.8,104.3 370.3,104.3 370.8,104.4 371.3,104.7 371.8,105.1 372.4,105.6 372.9,106.0 373.4,106.4 373.9,106.7 374.4,106.8 374.9,106.8 375.4,106.6 375.9,106.3 376.4,105.8 376.9,105.4 377.4,105.0 377.9,104.6 378.4,104.4 378.9,104.3 379.4,104.4 379.9,104.6 380.4,105.0 380.9,105.4 381.4,105.8 381.9,106.3 382.4,106.6 382.9,106.8 383.4,106.8 383.9,106.7 384.4,106.4 384.9,106.0 385.5,105.6 386.0,105.1 386.5,104.7 387.0,104.4 387.5,104.3 388.0,104.3 388.5,104.5 389.0,104.8 389.5,105.3 390.0,105.7 390.5,106.1 391.0,106.5 391.5,106.7 392.0,106.8" fill="none" stroke="#dcdcdc" stroke-width="0.8" stroke-linejoin="round"/>
<path d="M392.0,106.6 491.0,107.0" fill="none" stroke="#d4d4d4" stroke-width="0.8" stroke-linejoin="round"/>
<text x="360.30" y="113.20" font-family='"Liberation Serif", serif' font-size="7.0" font-style="italic" font-weight="bold" fill="#d0d0d0" text-anchor="middle">h<tspan font-size='5' dy='1.6'>1</tspan><tspan font-size='5.5' dy='-4.5'>''</tspan></text>
<path d="M365.8,102.5 366.0,102.0 366.3,101.3 366.7,100.5 367.1,99.7 367.4,99.0 367.8,98.2 368.2,97.4 368.6,96.9 369.0,96.7 369.4,97.0 369.8,97.6 370.3,98.4 370.7,99.3 371.2,100.0 371.7,100.7 372.1,101.5 372.6,102.2 373.0,102.7 373.5,102.9 373.9,102.7 374.3,102.2 374.7,101.5 375.2,100.8 375.6,100.1 376.0,99.5 376.6,98.8 377.2,98.2 377.8,97.7 378.4,97.6 378.9,97.9 379.3,98.4 379.7,99.1 380.2,99.8 380.6,100.5 381.1,101.2 381.5,101.9 382.0,102.7 382.4,103.2 382.9,103.4 383.4,103.2 383.8,102.6 384.3,101.8 384.8,101.1 385.3,100.5 385.9,99.9 386.6,99.4 387.2,99.0 387.8,98.9 388.2,99.2 388.6,99.7 389.0,100.3 389.4,101.0 389.8,101.5 390.3,102.2 390.8,102.9 391.3,103.4 391.8,103.4 392.1,103.1 392.4,102.6 392.7,102.0 393.1,101.3 393.4,100.6 393.7,99.8 394.0,99.0 394.2,98.3 394.5,97.5 394.7,96.7 394.9,95.8 395.1,95.0 395.4,94.2 395.6,93.6 395.8,93.0 396.3,92.1 396.8,91.5 397.2,91.2 397.7,91.3 398.0,91.6 398.2,92.1 398.5,92.7 398.7,93.5 399.0,94.3 399.2,95.1 399.5,96.0 399.7,96.7 399.9,97.5 400.0,98.5 400.2,99.4 400.4,100.4 400.6,101.3 400.8,102.1 400.9,102.8 401.1,103.2 401.3,103.4 401.5,103.3 401.7,102.9 401.9,102.2 402.1,101.4 402.2,100.4 402.4,99.5 402.6,98.5 402.8,97.7 403.0,97.0 403.3,96.1 403.6,95.3 403.9,94.5 404.2,93.8 404.5,93.3 404.8,93.1 405.2,93.2 405.5,93.6 405.9,94.3 406.2,95.1 406.6,96.0 406.8,96.6 407.1,97.3 407.3,98.1 407.5,98.9 407.7,99.7 407.9,100.4 408.2,101.1 408.4,101.6 408.8,102.3 409.3,102.7 409.7,103.0 410.2,103.2 410.8,103.4 411.4,103.5 412.0,103.4 412.6,103.0 413.2,102.5 413.8,102.0 414.4,101.7 415.0,101.6 415.6,101.6 416.1,101.8 416.7,102.2 417.2,102.7 417.8,103.0 418.5,103.3 419.1,103.4 420.0,103.4 420.6,103.3 421.2,103.0 421.9,102.8 422.6,102.5 423.3,102.3 424.0,102.2 424.7,102.3 425.3,102.5 426.0,102.8 426.7,103.1 427.3,103.3 428.0,103.4 428.7,103.3 429.3,103.2 430.0,102.9 430.7,102.7 431.3,102.5 432.0,102.4 432.1,102.5 431.4,102.6 430.8,102.8 430.9,103.0 432.4,103.2 436.0,103.3 436.4,103.3 436.9,103.3 437.4,103.3 438.0,103.3 438.5,103.3 439.1,103.3 439.7,103.3 440.4,103.3 441.1,103.3 441.8,103.3 442.5,103.4 443.2,103.4 444.0,103.4 444.8,103.4 445.6,103.4 446.4,103.4 447.2,103.4 448.1,103.4 449.0,103.4 449.9,103.4 450.8,103.4 451.7,103.4 452.6,103.4 453.5,103.4 454.5,103.4 455.4,103.4 456.4,103.4 457.4,103.4 458.3,103.4 459.3,103.4 460.3,103.4 461.3,103.4 462.3,103.4 463.3,103.4 464.2,103.4 465.2,103.4 466.2,103.4 467.2,103.4 468.2,103.3 469.2,103.3 470.1,103.3 471.1,103.3 472.0,103.3 473.0,103.3 473.9,103.3 474.9,103.3 475.8,103.3 476.7,103.3 477.6,103.3 478.4,103.3 479.3,103.3 480.1,103.3 481.0,103.3 481.8,103.3 482.5,103.3 483.3,103.3 484.1,103.3 484.8,103.3 485.5,103.3 486.2,103.3 486.8,103.3 487.4,103.3 488.0,103.3 488.6,103.3 489.1,103.3 489.7,103.3 490.1,103.3 490.6,103.3 491.0,103.3" fill="none" stroke="#1a1a1a" stroke-width="0.9" stroke-linejoin="round"/>
<text x="401.80" y="92.20" font-family='"Liberation Serif", serif' font-size="7.0" font-style="italic" font-weight="bold" fill="#1a1a1a" text-anchor="middle">h<tspan font-size='5' dy='1.6'>2</tspan></text>
<path d="M365.8,123.7 366.0,123.7 366.5,123.6 367.0,123.5 367.5,123.2 368.0,122.9 368.5,122.7 369.0,122.5 369.5,122.5 370.0,122.6 370.5,122.8 371.0,123.0 371.5,123.3 372.0,123.5 372.5,123.7 373.0,123.7 373.5,123.6 374.0,123.4 374.5,123.1 375.0,122.8 375.5,122.6 376.0,122.5 376.5,122.5 377.0,122.7 377.5,122.9 378.0,123.2 378.5,123.4 379.0,123.6 379.5,123.7 380.0,123.7 380.5,123.5 381.0,123.3 381.5,123.0 382.0,122.7 382.5,122.6 383.0,122.5 383.5,122.6 384.0,122.7 384.5,123.0 385.0,123.3 385.5,123.5 386.0,123.7 386.5,123.7 387.0,123.6 387.5,123.4 388.0,123.2 388.5,122.9 389.0,122.7 389.5,122.5 390.0,122.5 390.5,122.6 391.0,122.8 391.5,123.1 392.0,123.4 392.5,123.6 393.0,123.7 393.5,123.7 394.0,123.5 394.5,123.3 395.0,123.0 395.5,122.8 396.0,122.6 396.5,122.5 397.0,122.5 397.5,122.7 398.0,122.9 398.5,123.2 399.0,123.5 399.5,123.6 400.0,123.7 400.5,123.6 401.0,123.5 401.5,123.2 402.0,122.9 402.5,122.7 403.0,122.5 403.5,122.5 404.0,122.6 404.5,122.8 405.0,123.0 405.5,123.3 406.0,123.5 406.5,123.7 407.0,123.7 407.5,123.6 408.0,123.4 408.5,123.1 409.0,122.8 409.5,122.6 410.0,122.5 410.5,122.5 411.0,122.7 411.5,122.9 412.0,123.2 412.5,123.4 413.0,123.6 413.5,123.7 414.0,123.7 414.5,123.5 415.0,123.3 415.5,123.0 416.0,122.7 416.5,122.6 417.0,122.5 417.5,122.6 418.0,122.7 418.5,123.0 419.0,123.3 419.5,123.5 420.0,123.7 420.5,123.7 421.0,123.6 421.5,123.4 422.0,123.2 422.5,122.9 423.0,122.7 423.5,122.5 424.0,122.5 424.5,122.6 425.0,122.8 425.5,123.1 426.0,123.4 426.5,123.6 427.0,123.7 427.5,123.7 428.0,123.5 428.5,123.3 429.0,123.0 429.5,122.8 430.0,122.6 430.5,122.5 431.0,122.5 431.5,122.7 432.0,122.9 432.5,123.2 433.0,123.5 433.5,123.6 434.0,123.7 434.6,123.9 435.3,124.0 436.0,123.5 436.2,123.0 436.4,122.4 436.6,121.7 436.7,120.9 436.9,120.1 437.1,119.3 437.2,118.4 437.4,117.7 437.6,117.0 437.8,116.2 438.1,115.3 438.3,114.4 438.6,113.6 438.8,112.9 439.0,112.5 439.3,112.3 439.6,112.5 439.8,112.9 440.1,113.5 440.4,114.3 440.6,115.2 440.9,116.1 441.2,117.0 441.4,117.7 441.6,118.5 441.8,119.4 442.0,120.3 442.2,121.3 442.4,122.2 442.6,122.9 442.8,123.6 443.0,124.0 443.2,124.1 443.4,123.9 443.6,123.5 443.8,122.9 444.0,122.1 444.2,121.2 444.4,120.2 444.6,119.3 444.8,118.4 445.0,117.6 445.2,117.0 445.6,116.0 446.0,115.2 446.4,114.5 446.7,114.1 447.1,114.0 447.4,114.2 447.6,114.8 447.9,115.5 448.1,116.3 448.3,117.2 448.6,118.0 448.8,118.7 449.0,119.4 449.3,120.2 449.5,121.0 449.8,121.8 450.0,122.5 450.2,123.1 450.3,123.5 450.5,123.7 451.0,123.5 451.5,123.0 452.0,122.5 452.5,122.0 453.0,121.9 453.5,122.2 454.0,122.7 454.5,123.3 455.0,123.6 455.5,123.7 456.0,123.3 456.5,122.8 457.0,122.3 457.5,121.9 458.0,122.0 458.5,122.3 459.0,122.9 459.5,123.4 460.0,123.7 460.5,123.6 461.0,123.1 461.5,122.6 462.0,122.1 462.5,121.9 463.0,122.1 463.5,122.6 464.0,123.1 464.5,123.6 465.0,123.7 465.5,123.4 466.0,122.9 466.5,122.3 467.0,122.0 467.5,121.9 468.0,122.3 468.5,122.8 469.0,123.3 469.5,123.7 470.0,123.6 470.5,123.2 471.0,122.7 471.5,122.2 472.0,121.9 472.5,122.0 473.0,122.5 473.5,123.0 474.0,123.5 474.5,123.7 475.0,123.7 475.5,123.7 476.2,123.7 476.9,123.7 477.7,123.7 478.5,123.7 479.4,123.7 480.4,123.7 481.3,123.7 482.3,123.7 483.3,123.7 484.2,123.7 485.2,123.7 486.1,123.7 487.0,123.7 487.9,123.7 488.7,123.7 489.4,123.7 490.0,123.7 490.6,123.7 491.0,123.7" fill="none" stroke="#5aa25a" stroke-width="0.8" stroke-linejoin="round"/>
<text x="494.80" y="124.60" font-family='"Liberation Serif", serif' font-size="7.0" font-style="italic" font-weight="bold" fill="#5aa25a" text-anchor="middle">h<tspan font-size='5' dy='1.6'>2</tspan><tspan font-size='5.5' dy='-4.5'>'</tspan></text>
<path d="M365.8,127.3 366.0,127.4 366.5,127.4 367.0,127.2 367.5,127.0 368.0,126.8 368.5,126.6 369.0,126.4 369.5,126.4 370.0,126.4 370.5,126.6 371.0,126.8 371.5,127.0 372.0,127.2 372.5,127.4 373.0,127.4 373.5,127.4 374.0,127.2 374.5,127.0 375.0,126.8 375.5,126.6 376.0,126.4 376.5,126.4 377.0,126.4 377.5,126.6 378.0,126.8 378.5,127.0 379.0,127.2 379.5,127.4 380.0,127.4 380.5,127.4 381.0,127.2 381.5,127.0 382.0,126.8 382.5,126.6 383.0,126.4 383.5,126.4 384.0,126.4 384.5,126.6 385.0,126.8 385.5,127.0 386.0,127.2 386.5,127.4 387.0,127.4 387.5,127.4 388.0,127.2 388.5,127.0 389.0,126.8 389.5,126.6 390.0,126.4 390.5,126.4 391.0,126.4 391.5,126.6 392.0,126.8 392.5,127.0 393.0,127.2 393.5,127.4 394.0,127.4 394.5,127.4 395.0,127.2 395.5,127.0 396.0,126.8 396.5,126.6 397.0,126.4 397.5,126.4 398.0,126.4 398.5,126.6 399.0,126.8 399.5,127.0 400.0,127.2 400.5,127.4 401.0,127.4 401.5,127.4 402.0,127.2 402.5,127.0 403.0,126.8 403.5,126.6 404.0,126.4 404.5,126.4 405.0,126.4 405.5,126.6 406.0,126.8 406.5,127.0 407.0,127.2 407.5,127.4 408.0,127.4 408.3,127.4 408.8,127.0 409.1,126.6 409.3,126.0 409.6,125.3 409.8,124.5 410.1,123.8 410.3,123.0 410.6,122.4 410.8,121.8 411.1,121.4 411.3,121.2 411.8,121.2 412.1,121.6 412.3,122.1 412.6,122.7 412.8,123.4 413.0,123.9 413.2,124.4 413.3,124.9 413.6,125.7 413.8,126.3 414.1,126.8 414.3,127.2 414.9,127.4 415.4,126.8 415.6,126.3 415.9,125.7 416.1,124.9 416.4,124.2 416.6,123.4 416.9,122.7 417.1,122.1 417.4,121.6 417.9,121.1 418.4,121.4 418.6,121.8 418.9,122.4 419.1,123.0 419.4,123.8 419.6,124.3 419.7,124.8 419.9,125.3 420.1,126.0 420.4,126.6 420.6,127.0 420.9,127.3 421.4,127.3 421.7,127.0 421.9,126.6 422.2,126.0 422.4,125.3 422.6,124.8 422.7,124.3 422.9,123.8 423.2,123.0 423.4,122.4 423.7,121.8 423.9,121.4 424.4,121.1 424.9,121.6 425.2,122.1 425.4,122.7 425.7,123.4 425.9,124.2 426.2,124.9 426.4,125.7 426.7,126.3 426.9,126.8 427.4,127.4 428.0,127.2 428.2,126.8 428.5,126.3 428.7,125.7 429.0,124.9 429.1,124.4 429.3,123.9 429.5,123.4 429.7,122.7 430.0,122.1 430.2,121.6 430.5,121.2 431.0,121.2 431.2,121.4 431.5,121.8 431.7,122.4 432.0,123.0 432.2,123.8 432.5,124.5 432.7,125.3 433.0,126.0 433.2,126.6 433.5,127.0 434.0,127.4 434.6,127.4 435.4,127.4 436.2,127.5 437.0,127.4 437.6,127.4 438.1,126.9 438.4,126.4 438.6,125.6 438.8,125.1 438.9,124.5 439.1,124.0 439.3,123.4 439.4,122.9 439.6,122.4 439.9,121.9 440.1,121.5 440.6,121.5 440.9,121.9 441.1,122.4 441.3,122.9 441.4,123.4 441.6,124.0 441.8,124.5 441.9,125.1 442.1,125.6 442.4,126.4 442.6,126.9 443.1,127.4 443.6,126.9 443.9,126.4 444.1,125.6 444.3,125.1 444.4,124.5 444.6,124.0 444.8,123.4 444.9,122.9 445.1,122.4 445.4,121.9 445.6,121.5 446.1,121.5 446.4,121.9 446.6,122.4 446.8,122.9 446.9,123.4 447.1,124.0 447.3,124.5 447.4,125.1 447.6,125.6 447.9,126.4 448.1,126.9 448.6,127.4 446.5,127.4 449.5,127.4 491.0,127.4" fill="none" stroke="#1a1a1a" stroke-width="0.9" stroke-linejoin="round"/>
<text x="411.20" y="127.60" font-family='"Liberation Serif", serif' font-size="7.0" font-style="italic" font-weight="bold" fill="#1a1a1a" text-anchor="middle">h<tspan font-size='5' dy='1.6'>1</tspan></text>
<path d="M419.70,131.10V138.30" stroke="#000" stroke-width="1.1"/><path d="M419.70,128.20L417.70,131.60L421.70,131.60Z M419.70,141.20L417.70,137.80L421.70,137.80Z" fill="#000"/>
<text x="421.00" y="135.60" font-size="6.0" font-weight="bold" textLength="14.2" lengthAdjust="spacingAndGlyphs" fill="#111">40meV</text>
<path d="M366.0,144.6 449.0,144.6" fill="none" stroke="#3a3ab8" stroke-width="0.8" stroke-dasharray="2,1" stroke-linejoin="round"/>
<path d="M449.0,143.6 449.5,143.4 450.0,142.9 450.2,142.6 450.5,142.2 450.8,141.8 451.0,141.3 451.2,140.8 451.5,140.3 451.8,139.8 452.0,139.4 452.2,139.0 452.5,138.7 453.0,138.2 453.5,138.0 454.0,138.2 454.5,138.7 454.8,139.0 455.0,139.4 455.2,139.8 455.5,140.3 455.8,140.8 456.0,141.3 456.2,141.8 456.5,142.2 456.8,142.6 457.0,142.9 457.5,143.4 458.0,143.6 458.5,143.5 459.0,143.1 459.2,142.8 459.5,142.4 459.8,142.1 460.0,141.7 460.2,141.2 460.5,140.8 460.8,140.4 461.0,140.1 461.2,139.7 461.5,139.4 462.0,139.0 462.5,138.9 463.0,139.0 463.5,139.4 463.8,139.7 464.0,140.1 464.2,140.4 464.5,140.8 464.8,141.2 465.0,141.7 465.2,142.1 465.5,142.4 465.8,142.8 466.0,143.1 466.5,143.5 467.0,143.6 467.5,143.5 468.0,143.2 468.5,142.6 469.0,142.0 469.2,141.7 469.5,141.4 470.0,140.7 470.5,140.2 471.0,139.9 471.5,139.8 472.0,139.9 472.5,140.2 473.0,140.8 473.5,141.4 473.8,141.7 474.0,142.0 474.5,142.7 475.0,143.2 475.5,143.5 476.0,143.6 476.5,143.2 476.8,142.8 477.0,142.2 477.2,141.7 477.3,141.2 477.5,140.6 477.7,140.0 477.8,139.4 478.0,138.7 478.2,138.1 478.3,137.4 478.5,136.8 478.7,136.2 478.8,135.6 479.0,135.0 479.2,134.3 479.5,133.7 479.8,133.3 480.0,133.0 480.5,133.0 480.8,133.3 481.0,133.7 481.2,134.3 481.5,135.0 481.7,135.6 481.8,136.2 482.0,136.8 482.2,137.4 482.3,138.1 482.5,138.7 482.7,139.4 482.8,140.0 483.0,140.6 483.2,141.2 483.3,141.7 483.5,142.2 483.8,142.8 484.0,143.2 484.5,143.6 485.0,143.1 485.2,142.4 485.5,141.6 485.7,140.9 485.8,140.2 486.0,139.5 486.2,138.8 486.3,138.0 486.5,137.3 486.7,136.6 486.8,136.0 487.0,135.5 487.2,134.8 487.5,134.4 488.0,134.4 488.2,134.8 488.5,135.5 488.7,136.0 488.8,136.6 489.0,137.3 489.2,138.0 489.3,138.8 489.5,139.5 489.7,140.2 489.8,140.9 490.0,141.6 490.2,142.4 490.5,143.1 491.0,143.6" fill="none" stroke="#3a3ab8" stroke-width="0.8" stroke-linejoin="round"/>
<text x="495.50" y="140.80" font-family='"Liberation Serif", serif' font-size="7.0" font-style="italic" font-weight="bold" fill="#3a3ab8" text-anchor="middle">h<tspan font-size='5' dy='1.6'>2</tspan><tspan font-size='5.5' dy='-4.5'>''</tspan></text>
<path d="M449.0,143.2 449.5,143.4 450.0,144.0 450.5,144.5 451.0,144.7 451.5,144.5 452.0,143.9 452.5,143.4 453.0,143.2 453.5,143.3 454.0,143.7 454.5,144.3 454.8,144.6 455.0,145.0 455.2,145.3 455.5,145.7 455.8,146.1 456.0,146.4 456.5,147.0 457.0,147.4 457.5,147.5 458.0,147.4 458.5,147.0 459.0,146.4 459.2,146.1 459.5,145.7 459.8,145.3 460.0,145.0 460.2,144.6 460.5,144.3 461.0,143.7 461.5,143.3 462.0,143.2 462.5,143.3 463.0,143.7 463.5,144.3 463.8,144.7 464.0,145.1 464.2,145.4 464.5,145.8 464.8,146.2 465.0,146.6 465.5,147.2 466.0,147.6 466.5,147.7 467.0,147.6 467.5,147.2 468.0,146.6 468.2,146.2 468.5,145.8 468.8,145.4 469.0,145.1 469.2,144.7 469.5,144.3 470.0,143.7 470.5,143.3 471.0,143.2 471.5,143.3 472.0,143.6 472.5,144.0 473.0,144.4 473.5,144.8 474.0,145.1 474.5,145.2 475.0,145.1 475.5,144.8 476.0,144.4 476.5,144.0 477.0,143.6 477.5,143.3 478.0,143.2 478.5,143.3 479.0,143.7 479.5,144.3 479.8,144.7 480.0,145.1 480.2,145.4 480.5,145.8 480.8,146.2 481.0,146.6 481.5,147.2 482.0,147.6 482.5,147.7 483.0,147.6 483.5,147.2 484.0,146.6 484.2,146.2 484.5,145.8 484.8,145.4 485.0,145.1 485.2,144.7 485.5,144.3 486.0,143.7 486.5,143.3 487.0,143.2 487.5,143.4 488.0,144.0 488.5,144.5 489.0,144.7 489.5,144.5 490.0,143.9 490.5,143.4 491.0,143.2" fill="none" stroke="#5aa25a" stroke-width="0.8" stroke-linejoin="round"/>
<text x="494.50" y="148.80" font-family='"Liberation Serif", serif' font-size="7.0" font-style="italic" font-weight="bold" fill="#5aa25a" text-anchor="middle">h<tspan font-size='5' dy='1.6'>1</tspan><tspan font-size='5.5' dy='-4.5'>'</tspan></text>
</g>
<clipPath id="ca4"><rect x="515.4" y="10.6" width="147.20" height="174.00"/></clipPath>
<rect x="554.00" y="35.90" width="42.80" height="141.70" fill="#ededed" stroke="#dcdcdc" stroke-width="0.6"/>
<g clip-path="url(#ca4)">
<g transform="translate(478.50,1.40)">
<path d="M49.0,26.3 50.0,26.8 50.0,142.4 74.6,152.1 74.6,38.6 78.3,40.0 78.3,154.3 90.8,159.2 90.8,46.2 92.2,47.0 92.2,160.9 116.2,170.8 116.2,58.3 120.2,59.6 120.2,173.4 132.0,178.8 132.0,66.3 133.7,67.0 133.7,179.7 158.0,190.6 158.0,78.3 161.7,79.6 161.7,200.0" fill="none" stroke="#363636" stroke-width="0.9" stroke-linejoin="miter"/>
</g>
<g transform="translate(478.50,0.90)">
<path d="M47.0,129.1 47.5,129.0 48.0,128.7 48.5,128.1 49.0,127.4 49.5,126.5 50.0,125.5 50.5,124.4 51.0,123.2 51.5,122.1 52.0,121.0 52.5,120.0 53.0,119.1 53.5,118.4 54.0,117.9 54.5,117.6 55.0,117.5 55.6,117.6 56.1,118.0 56.6,118.5 57.1,119.3 57.6,120.1 58.1,121.1 58.6,122.2 59.1,123.4 59.6,124.5 60.1,125.6 60.6,126.6 61.1,127.4 61.6,128.1 62.1,128.7 62.6,129.0 63.1,129.1 63.6,129.0 64.1,128.6 64.7,127.9 65.2,127.0 65.7,126.0 66.2,124.9 66.7,123.7 67.2,122.5 67.8,121.4 68.3,120.4 68.8,119.6 69.3,119.0 69.8,118.7 70.3,118.6 70.9,119.1 71.4,120.1 71.9,121.5 72.4,123.2 72.9,125.0 73.4,126.6 74.0,127.9 74.5,128.8 75.0,129.1 76.0,129.1" fill="none" stroke="#74dce8" stroke-width="0.9" stroke-linejoin="round"/>
<path d="M75.6,129.1 174.8,129.1" fill="none" stroke="#8fe3ea" stroke-width="0.9" stroke-dasharray="3,0.8" stroke-linejoin="round"/>
<path d="M48.0,149.4 75.0,149.4 80.0,149.0 85.0,148.2 89.5,146.8 90.5,147.6 91.0,147.4 91.5,147.0 92.0,146.2 92.5,145.2 93.0,144.0 93.5,142.7 94.1,141.5 94.6,140.3 95.1,139.2 95.6,138.4 96.1,137.8 96.6,137.6 97.1,137.7 97.6,138.0 98.1,138.4 98.6,139.1 99.1,140.0 99.6,140.9 100.1,142.0 100.6,143.0 101.2,144.1 101.7,145.0 102.2,145.9 102.7,146.6 103.2,147.2 103.7,147.5 104.2,147.6 104.7,147.5 105.2,147.3 105.7,146.9 106.2,146.3 106.7,145.7 107.2,144.9 107.7,144.1 108.2,143.3 108.7,142.5 109.2,141.8 109.7,141.2 110.2,140.7 110.7,140.3 111.2,140.1 111.7,140.0 112.2,140.2 112.7,140.7 113.2,141.4 113.7,142.3 114.2,143.4 114.7,144.4 115.2,145.4 115.7,146.3 116.2,147.0 116.7,147.5 117.2,147.6 119.0,149.1 121.0,149.5 121.5,149.5" fill="none" stroke="#74dce8" stroke-width="0.9" stroke-linejoin="round"/>
<path d="M121.0,149.5 174.8,149.5" fill="none" stroke="#74dce8" stroke-width="1.25" stroke-linejoin="round"/>
<path d="M49.8,142.6 50.3,142.6 50.8,142.5 51.3,142.4 51.8,142.2 52.3,141.9 52.8,141.7 53.4,141.4 53.9,141.0 54.4,140.6 54.9,140.2 55.4,139.8 55.9,139.3 56.4,138.9 56.9,138.5 57.4,138.0 57.9,137.6 58.4,137.2 58.9,136.8 59.5,136.4 60.0,136.1 60.5,135.9 61.0,135.6 61.5,135.4 62.0,135.3 62.5,135.2 63.0,135.2 63.5,135.2 64.0,135.3 64.5,135.5 65.0,135.7 65.5,136.0 66.1,136.3 66.6,136.7 67.1,137.1 67.6,137.5 68.1,137.9 68.6,138.4 69.1,138.9 69.6,139.4 70.1,139.9 70.6,140.3 71.1,140.8 71.6,141.2 72.2,141.5 72.7,141.8 73.2,142.1 73.7,142.3 74.2,142.5 74.7,142.6 75.2,142.6 75.7,142.5 76.2,142.3 76.7,141.9 77.2,141.4 77.7,140.8 78.2,140.0 78.7,139.2 79.2,138.3 79.7,137.4 80.2,136.5 80.7,135.6 81.2,134.7 81.7,133.9 82.2,133.2 82.7,132.5 83.2,132.0 83.8,131.7 84.3,131.5 84.8,131.4 85.3,131.5 85.8,131.9 86.3,132.5 86.8,133.3 87.3,134.3 87.8,135.3 88.3,136.5 88.8,137.6 89.3,138.8 89.8,139.8 90.3,140.8 90.8,141.5 91.3,142.1 91.8,142.5 92.3,142.6 92.8,142.5 93.3,142.3 93.8,141.9 94.4,141.5 94.9,141.2 95.4,141.1 95.9,141.1 96.4,141.2 96.9,141.4 97.4,141.7 97.9,142.0 98.5,142.2 99.0,142.4 99.5,142.6 100.0,142.6 101.0,143.3 174.8,143.3" fill="none" stroke="#cc3b2a" stroke-width="1.0" stroke-linejoin="round"/>
<path d="M49.8,142.3 50.3,142.3 50.8,142.1 51.3,142.0 51.8,141.7 52.3,141.4 52.8,141.0 53.4,140.5 53.9,140.1 54.4,139.5 54.9,139.0 55.4,138.4 55.9,137.9 56.4,137.3 56.9,136.8 57.4,136.3 57.9,135.8 58.4,135.3 58.9,134.9 59.5,134.6 60.0,134.3 60.5,134.2 61.0,134.0 61.5,134.0 62.0,134.0 62.5,134.1 63.0,134.2 63.5,134.4 64.0,134.7 64.5,135.0 65.0,135.3 65.5,135.7 66.1,136.1 66.6,136.5 67.1,137.0 67.6,137.4 68.1,137.9 68.6,138.4 69.1,138.9 69.6,139.3 70.1,139.8 70.6,140.2 71.1,140.6 71.6,141.0 72.2,141.3 72.7,141.6 73.2,141.9 73.7,142.0 74.2,142.2 74.7,142.3 75.2,142.3 75.7,142.2 76.2,142.0 76.7,141.6 77.2,141.1 77.7,140.5 78.2,139.8 78.7,139.0 79.2,138.2 79.7,137.3 80.2,136.4 80.7,135.5 81.2,134.7 81.7,133.9 82.2,133.2 82.7,132.6 83.2,132.1 83.8,131.8 84.3,131.6 84.8,131.5 85.3,131.6 85.8,132.0 86.3,132.6 86.8,133.4 87.3,134.3 87.8,135.3 88.3,136.4 88.8,137.5 89.3,138.6 89.8,139.6 90.3,140.5 90.8,141.3 91.3,141.8 91.8,142.2 92.3,142.3 92.8,142.2 93.3,141.8 93.8,141.4 94.4,140.9 94.9,140.5 95.4,140.3 95.9,140.3 96.4,140.5 96.9,140.8 97.4,141.1 97.9,141.4 98.5,141.8 99.0,142.1 99.5,142.2 100.0,142.3 174.8,142.3" fill="none" stroke="#3cc43c" stroke-width="1.0" stroke-linejoin="round"/>
<g transform="translate(0,0.4)">
<path d="M48.0,162.2 93.0,162.2" fill="none" stroke="#a9cf8f" stroke-width="1.0" stroke-linejoin="round"/>
<path d="M48.0,162.9 93.0,162.9" fill="none" stroke="#d99a88" stroke-width="0.6" stroke-dasharray="1.5,1.5" stroke-linejoin="round"/>
<path d="M93.0,162.1 93.5,162.1 94.0,162.1 94.5,162.0 95.0,161.8 95.5,161.6 96.0,161.3 96.5,160.9 97.0,160.6 97.5,160.1 98.0,159.6 98.5,159.1 99.0,158.6 99.5,158.1 100.0,157.5 100.5,156.9 101.0,156.4 101.5,155.9 102.0,155.4 102.5,154.9 103.0,154.4 103.5,154.1 104.0,153.7 104.5,153.4 105.0,153.2 105.5,153.0 106.0,152.9 106.5,152.9 107.0,152.9 107.5,153.1 108.0,153.3 108.5,153.6 109.0,153.9 109.5,154.4 110.0,154.8 110.5,155.4 111.0,156.0 111.5,156.6 112.0,157.2 112.5,157.8 113.0,158.4 113.5,159.0 114.0,159.6 114.5,160.2 115.0,160.6 115.5,161.1 116.0,161.4 116.5,161.7 117.0,161.9 117.5,162.1 118.0,162.1 118.5,162.0 119.0,161.7 119.5,161.2 120.0,160.5 120.5,159.7 121.0,158.7 121.5,157.7 122.0,156.7 122.5,155.6 123.0,154.6 123.5,153.6 124.0,152.8 124.5,152.1 125.0,151.6 125.5,151.3 126.0,151.2 126.5,151.3 127.0,151.7 127.5,152.4 128.0,153.3 128.5,154.3 129.0,155.4 129.5,156.7 130.0,157.9 130.5,159.0 131.0,160.0 131.5,160.9 132.0,161.6 132.5,162.0 133.0,162.1 133.5,162.0 134.0,161.9 134.5,161.6 135.0,161.3 135.5,161.0 136.0,160.9 136.5,160.8 137.0,160.9 137.5,161.0 138.0,161.3 138.5,161.6 139.0,161.9 139.5,162.0 140.0,162.1 140.5,162.0 141.0,161.9 141.5,161.6 142.0,161.3 142.5,161.0 143.0,160.9 143.5,160.8 144.0,160.9 144.5,161.0 145.0,161.3 145.5,161.6 146.0,161.9 146.5,162.0 147.0,162.1 147.5,162.0 148.0,161.9 148.5,161.6 149.0,161.3 149.5,161.0 150.0,160.9 150.5,160.8 151.0,160.9 151.5,161.0 152.0,161.3 152.5,161.6 153.0,161.9 153.5,162.0 154.0,162.1 174.3,162.1" fill="none" stroke="#7fcf7a" stroke-width="0.9" stroke-linejoin="round"/>
<path d="M93.0,163.0 93.5,163.0 94.0,163.0 94.5,162.9 95.0,162.8 95.5,162.6 96.0,162.4 96.5,162.2 97.0,161.9 97.5,161.6 98.0,161.3 98.5,160.9 99.0,160.5 99.5,160.1 100.0,159.7 100.5,159.3 101.0,158.9 101.5,158.5 102.0,158.1 102.5,157.7 103.0,157.3 103.5,157.0 104.0,156.7 104.5,156.4 105.0,156.2 105.5,156.0 106.0,155.8 106.5,155.7 107.0,155.6 107.5,155.6 108.0,155.6 108.5,155.8 109.0,156.0 109.5,156.2 110.0,156.6 110.5,157.0 111.0,157.4 111.5,157.9 112.0,158.5 112.5,159.0 113.0,159.6 113.5,160.1 114.0,160.7 114.5,161.2 115.0,161.6 115.5,162.0 116.0,162.4 116.5,162.6 117.0,162.8 117.5,163.0 118.0,163.0 118.5,162.9 119.0,162.6 119.5,162.0 120.0,161.3 120.5,160.4 121.0,159.4 121.5,158.3 122.0,157.2 122.5,156.1 123.0,155.0 123.5,154.0 124.0,153.1 124.5,152.4 125.0,151.8 125.5,151.5 126.0,151.4 126.5,151.5 127.0,152.0 127.5,152.7 128.0,153.6 128.5,154.7 129.0,155.9 129.5,157.2 130.0,158.5 130.5,159.7 131.0,160.8 131.5,161.7 132.0,162.4 132.5,162.9 133.0,163.0 133.5,163.0 134.0,162.8 134.5,162.6 135.0,162.4 135.5,162.2 136.0,162.0 136.5,162.0 137.0,162.0 137.5,162.2 138.0,162.4 138.5,162.6 139.0,162.8 139.5,163.0 140.0,163.0 140.5,163.0 141.0,162.8 141.5,162.6 142.0,162.4 142.5,162.2 143.0,162.0 143.5,162.0 144.0,162.0 144.5,162.2 145.0,162.4 145.5,162.6 146.0,162.8 146.5,163.0 147.0,163.0 147.5,163.0 148.0,162.8 148.5,162.6 149.0,162.4 149.5,162.2 150.0,162.0 150.5,162.0 151.0,162.0 151.5,162.2 152.0,162.4 152.5,162.6 153.0,162.8 153.5,163.0 154.0,163.0 174.3,163.0" fill="none" stroke="#c2704f" stroke-width="0.9" stroke-linejoin="round"/>
<path d="M48.0,168.8 121.3,168.8" fill="none" stroke="#8fe3ea" stroke-width="0.9" stroke-dasharray="3,0.8" stroke-linejoin="round"/>
<path d="M120.8,168.8 121.3,168.8 126.0,167.6 130.5,165.6 132.0,167.6 132.5,167.4 133.0,167.0 133.5,166.3 134.0,165.3 134.5,164.2 135.0,162.8 135.5,161.4 136.0,160.0 136.5,158.6 137.0,157.2 137.5,156.1 138.0,155.1 138.5,154.4 139.0,154.0 139.5,153.8 140.0,154.0 140.5,154.4 141.0,155.1 141.5,156.1 142.0,157.2 142.5,158.6 143.0,160.0 143.5,161.4 144.0,162.8 144.5,164.2 145.0,165.3 145.5,166.3 146.0,167.0 146.5,167.4 147.0,167.6 147.5,167.4 148.0,167.0 148.5,166.3 149.1,165.3 149.6,164.3 150.1,163.1 150.6,162.0 151.1,161.0 151.6,160.1 152.1,159.5 152.6,159.2 153.2,159.2 153.7,159.5 154.2,160.1 154.7,161.0 155.2,162.0 155.7,163.1 156.2,164.3 156.7,165.3 157.3,166.3 157.8,167.0 158.3,167.4 158.8,167.6 159.8,168.6 160.3,168.6" fill="none" stroke="#74dce8" stroke-width="0.9" stroke-linejoin="round"/>
<path d="M160.0,168.6 174.8,168.6" fill="none" stroke="#8fe3ea" stroke-width="0.9" stroke-dasharray="3,0.8" stroke-linejoin="round"/>
</g>
<text x="42.40" y="130.40" font-family='"Liberation Serif", serif' font-size="7" font-style="italic" font-weight="bold" fill="#74dce8" text-anchor="middle">f</text>
<text x="42.70" y="141.60" font-family='"Liberation Serif", serif' font-size="7" font-style="italic" font-weight="bold" fill="#3cc43c" text-anchor="middle">i</text>
<text x="42.60" y="147.20" font-family='"Liberation Serif", serif' font-size="6.5" font-style="italic" font-weight="bold" fill="#cc3b2a" text-anchor="middle">u</text>
<text x="44.20" y="165.80" font-family='"Liberation Serif", serif' font-size="7" font-style="italic" font-weight="bold" fill="#3cc43c" text-anchor="middle">i<tspan font-size='4.5' dy='-2.5'>'</tspan></text>
<text x="55.00" y="168.60" font-family='"Liberation Serif", serif' font-size="6.5" font-style="italic" font-weight="bold" fill="#cc3b2a" text-anchor="middle">u<tspan font-size='4.5' dy='-2.5'>'</tspan></text>
<text x="72.60" y="176.40" font-family='"Liberation Serif", serif' font-size="7" font-style="italic" font-weight="bold" fill="#74dce8" text-anchor="middle">f<tspan font-size='4.5' dy='-2.5'>'</tspan></text>
<text x="99.00" y="148.40" font-family='"Liberation Serif", serif' font-size="7" font-style="italic" font-weight="bold" fill="#74dce8" text-anchor="middle">f</text>
<text x="45.1" y="158.0" font-size="6.1" font-weight="bold" textLength="14.8" lengthAdjust="spacingAndGlyphs" fill="#111">35meV</text>
<path d="M61.60,152.30V159.50" stroke="#000" stroke-width="1.1"/><path d="M61.60,149.40L59.60,152.80L63.60,152.80Z M61.60,162.40L59.60,159.00L63.60,159.00Z" fill="#000"/>
</g>
</g>
<g clip-path="url(#ca4)">
<path d="M529.0,48.3 529.2,48.0 529.5,47.5 529.7,47.0 529.8,46.3 530.0,45.5 530.1,45.0 530.2,44.3 530.4,43.7 530.5,43.2 530.7,42.5 530.8,41.9 531.0,41.5 531.5,41.2 531.8,41.6 532.0,42.4 532.2,43.0 532.3,43.8 532.5,44.6 532.7,45.4 532.8,46.1 533.0,46.8 533.2,47.7 533.5,48.2 534.0,48.0 534.2,47.6 534.3,47.1 534.5,46.4 534.7,45.7 534.8,44.9 535.0,44.1 535.2,43.3 535.3,42.6 535.5,42.0 535.8,41.4 536.0,41.1 536.5,41.7 536.7,42.3 536.8,42.9 537.0,43.6 537.1,44.2 537.2,44.8 537.4,45.4 537.5,46.0 537.7,46.7 537.8,47.3 538.0,47.8 538.5,48.3 538.8,47.9 539.0,47.2 539.2,46.6 539.3,45.8 539.5,45.1 539.7,44.3 539.8,43.5 540.0,42.8 540.2,41.9 540.5,41.3 541.0,41.3 541.2,41.9 541.5,42.8 541.7,43.5 541.8,44.3 542.0,45.1 542.2,45.8 542.3,46.6 542.5,47.2 542.8,47.9 543.0,48.3 543.5,47.8 543.7,47.3 543.8,46.7 544.0,46.0 544.1,45.4 544.2,44.8 544.4,44.2 544.5,43.6 544.7,42.9 544.8,42.3 545.0,41.7 545.5,41.1 545.8,41.4 546.0,42.0 546.2,42.6 546.3,43.3 546.5,44.1 546.7,44.9 546.8,45.7 547.0,46.4 547.2,47.1 547.3,47.6 547.5,48.0 548.0,48.2 548.2,47.7 548.5,46.8 548.7,46.1 548.8,45.4 549.0,44.6 549.2,43.8 549.3,43.0 549.5,42.4 549.8,41.6 550.0,41.2 550.5,41.5 550.7,41.9 550.8,42.5 551.0,43.2 551.1,43.7 551.2,44.3 551.4,45.0 551.5,45.5 551.7,46.3 551.8,47.0 552.0,47.5 552.3,48.0 552.5,48.3" fill="none" stroke="#d0d0d0" stroke-width="0.8" stroke-linejoin="round"/>
<path d="M552.5,48.5 651.6,48.7" fill="none" stroke="#d0d0d0" stroke-width="0.8" stroke-dasharray="3,0.8" stroke-linejoin="round"/>
<text x="520.40" y="49.80" font-family='"Liberation Serif", serif' font-size="7.0" font-style="italic" font-weight="bold" fill="#d0d0d0" text-anchor="middle">h<tspan font-size='5' dy='1.6'>4</tspan><tspan font-size='5.5' dy='-4.5'>''</tspan></text>
<path d="M529.0,76.6 529.2,76.4 529.5,75.9 529.7,75.4 529.8,74.8 530.0,74.1 530.2,73.4 530.3,72.7 530.5,72.0 530.7,71.4 530.8,70.8 531.0,70.4 531.5,70.2 531.8,70.6 532.0,71.3 532.2,71.8 532.3,72.5 532.5,73.2 532.7,73.9 532.8,74.7 533.0,75.3 533.2,76.0 533.5,76.5 534.0,76.3 534.2,75.7 534.5,74.9 534.7,74.3 534.8,73.5 535.0,72.8 535.2,72.1 535.3,71.5 535.5,70.9 535.8,70.4 536.0,70.1 536.5,70.7 536.7,71.1 536.8,71.7 537.0,72.4 537.2,73.1 537.3,73.8 537.5,74.5 537.7,75.1 537.8,75.7 538.0,76.1 538.5,76.6 538.8,76.2 539.0,75.6 539.2,75.0 539.3,74.4 539.5,73.7 539.7,73.0 539.8,72.2 540.0,71.6 540.2,70.8 540.5,70.3 541.0,70.3 541.2,70.8 541.5,71.6 541.7,72.2 541.8,73.0 542.0,73.7 542.2,74.4 542.3,75.0 542.5,75.6 542.8,76.2 543.0,76.6 543.5,76.1 543.7,75.7 543.8,75.1 544.0,74.5 544.2,73.8 544.3,73.1 544.5,72.4 544.7,71.7 544.8,71.1 545.0,70.7 545.5,70.1 545.8,70.4 546.0,70.9 546.2,71.5 546.3,72.1 546.5,72.8 546.7,73.5 546.8,74.3 547.0,74.9 547.2,75.7 547.5,76.3 548.0,76.5 548.2,76.0 548.5,75.3 548.7,74.7 548.8,73.9 549.0,73.2 549.2,72.5 549.3,71.8 549.5,71.3 549.8,70.6 550.0,70.2 550.5,70.4 550.7,70.8 550.8,71.4 551.0,72.0 551.2,72.7 551.3,73.4 551.5,74.1 551.7,74.8 551.8,75.4 552.0,75.9 552.3,76.4 552.5,76.6" fill="none" stroke="#d0d0d0" stroke-width="0.8" stroke-linejoin="round"/>
<path d="M552.5,76.6 651.6,76.6" fill="none" stroke="#d0d0d0" stroke-width="0.8" stroke-dasharray="3,0.8" stroke-linejoin="round"/>
<text x="520.40" y="80.80" font-family='"Liberation Serif", serif' font-size="7.0" font-style="italic" font-weight="bold" fill="#d0d0d0" text-anchor="middle">h<tspan font-size='5' dy='1.6'>3</tspan><tspan font-size='5.5' dy='-4.5'>''</tspan></text>
<path d="M527.8,111.5 651.6,111.5" fill="none" stroke="#d0d0d0" stroke-width="0.7" stroke-dasharray="3,0.8" stroke-linejoin="round"/>
<text x="520.40" y="113.00" font-family='"Liberation Serif", serif' font-size="7.0" font-style="italic" font-weight="bold" fill="#d0d0d0" text-anchor="middle">h<tspan font-size='5' dy='1.6'>1</tspan><tspan font-size='5.5' dy='-4.5'>''</tspan></text>
<path d="M527.8,68.3 528.0,68.4 528.5,68.2 529.0,67.8 529.5,67.4 530.0,67.2 530.5,67.3 531.0,67.7 531.5,68.1 532.0,68.4 532.6,68.3 533.1,68.0 533.6,67.5 534.1,67.2 534.6,67.2 535.1,67.5 535.6,68.0 536.1,68.3 536.6,68.4 537.1,68.1 537.6,67.7 538.1,67.3 538.6,67.2 539.1,67.4 539.6,67.8 540.1,68.2 540.6,68.4 541.2,68.2 541.7,67.8 542.2,67.4 542.7,67.2 543.2,67.3 543.7,67.7 544.2,68.1 544.7,68.4 545.2,68.3 545.7,68.0 546.2,67.5 546.7,67.2 547.2,67.2 547.7,67.5 548.2,68.0 548.7,68.3 549.3,68.4 549.8,68.1 550.3,67.7 550.8,67.3 551.3,67.2 551.8,67.4 552.3,67.8 552.8,68.2 553.3,68.4 553.8,68.4 554.6,68.4 555.4,68.4 556.2,68.4 556.7,68.3 557.1,68.0 557.2,67.6 557.4,67.0 557.5,66.4 557.7,65.7 557.9,64.9 558.0,64.1 558.2,63.4 558.4,62.7 558.5,62.2 558.7,61.7 559.2,61.3 559.5,61.7 559.7,62.4 559.9,63.0 560.0,63.8 560.2,64.5 560.4,65.3 560.5,66.0 560.7,66.7 561.0,67.6 561.2,68.1 561.7,68.1 562.0,67.6 562.2,66.7 562.4,66.0 562.5,65.3 562.7,64.5 562.9,63.8 563.0,63.0 563.2,62.4 563.5,61.7 563.7,61.3 564.2,61.7 564.4,62.2 564.5,62.7 564.7,63.4 564.9,64.1 565.0,64.9 565.2,65.7 565.4,66.4 565.5,67.0 565.7,67.6 566.0,68.1 566.2,68.3 566.5,68.1 566.7,67.6 566.9,67.0 567.0,66.4 567.2,65.7 567.4,64.9 567.5,64.1 567.7,63.4 567.9,62.7 568.0,62.2 568.2,61.7 568.7,61.3 569.0,61.7 569.2,62.4 569.4,63.0 569.5,63.8 569.7,64.5 569.9,65.3 570.0,66.0 570.2,66.7 570.5,67.6 570.7,68.1 571.2,68.1 571.5,67.6 571.7,66.7 571.9,66.0 572.0,65.3 572.2,64.5 572.4,63.8 572.5,63.0 572.7,62.4 573.0,61.7 573.2,61.3 573.7,61.7 573.9,62.2 574.0,62.7 574.2,63.4 574.4,64.1 574.5,64.9 574.7,65.7 574.9,66.4 575.0,67.0 575.2,67.6 575.5,68.1 575.7,68.3 576.0,68.1 576.2,67.6 576.4,67.0 576.5,66.4 576.7,65.7 576.9,64.9 577.0,64.1 577.2,63.4 577.4,62.7 577.5,62.2 577.7,61.7 578.2,61.3 578.5,61.7 578.7,62.4 578.9,63.0 579.0,63.8 579.2,64.5 579.4,65.3 579.5,66.0 579.7,66.7 580.0,67.6 580.2,68.1 580.7,68.1 581.0,67.6 581.2,66.7 581.4,66.0 581.5,65.3 581.7,64.5 581.9,63.8 582.0,63.0 582.2,62.4 582.5,61.7 582.7,61.3 583.2,61.7 583.4,62.2 583.5,62.7 583.7,63.4 583.9,64.1 584.0,64.9 584.2,65.7 584.4,66.4 584.5,67.0 584.7,67.6 585.0,68.1 585.2,68.3 585.5,68.1 585.7,67.6 585.9,67.0 586.0,66.4 586.2,65.7 586.4,64.9 586.5,64.1 586.7,63.4 586.9,62.7 587.0,62.2 587.2,61.7 587.7,61.3 588.0,61.7 588.2,62.4 588.4,63.0 588.5,63.8 588.7,64.5 588.9,65.3 589.0,66.0 589.2,66.7 589.5,67.6 589.7,68.1 590.2,68.1 590.5,67.6 590.7,66.7 590.9,66.0 591.0,65.3 591.2,64.5 591.4,63.8 591.5,63.0 591.7,62.4 592.0,61.7 592.2,61.3 592.7,61.7 592.9,62.2 593.0,62.7 593.2,63.4 593.4,64.1 593.5,64.9 593.7,65.7 593.9,66.4 594.0,67.0 594.2,67.6 594.4,68.0 594.7,68.3 595.2,68.4 595.8,68.4 596.5,68.4 597.2,68.4 597.9,68.3 598.4,68.3 598.9,68.1 599.4,67.8 599.9,67.3 600.4,67.0 600.9,66.9 601.4,67.2 602.0,67.6 602.5,68.0 603.0,68.3 603.5,68.2 604.0,67.9 604.5,67.4 605.0,67.1 605.5,66.9 606.0,67.1 606.5,67.4 607.0,67.9 607.5,68.2 608.0,68.3 608.5,68.0 609.0,67.6 609.6,67.2 610.1,66.9 610.6,67.0 611.1,67.3 611.6,67.8 612.1,68.1 612.6,68.3 613.0,68.3 613.5,68.3 614.0,68.3 614.6,68.3 615.2,68.3 615.8,68.3 616.5,68.3 617.2,68.3 617.9,68.3 618.7,68.3 619.5,68.3 620.3,68.3 621.2,68.3 622.1,68.3 623.0,68.3 623.9,68.3 624.8,68.3 625.8,68.3 626.7,68.3 627.7,68.3 628.7,68.3 629.7,68.3 630.6,68.3 631.6,68.3 632.6,68.3 633.6,68.3 634.6,68.3 635.6,68.3 636.6,68.3 637.5,68.3 638.5,68.3 639.4,68.3 640.4,68.3 641.3,68.3 642.2,68.3 643.1,68.3 643.9,68.3 644.7,68.3 645.5,68.3 646.3,68.3 647.0,68.3 647.7,68.3 648.4,68.3 649.0,68.3 649.6,68.3 650.2,68.3 650.7,68.3 651.2,68.3 651.6,68.3" fill="none" stroke="#1a1a1a" stroke-width="0.9" stroke-linejoin="round"/>
<text x="562.70" y="59.50" font-family='"Liberation Serif", serif' font-size="7.0" font-style="italic" font-weight="bold" fill="#1a1a1a" text-anchor="middle">h<tspan font-size='5' dy='1.6'>4</tspan></text>
<path d="M527.8,96.2 528.0,96.2 528.5,96.1 529.0,95.7 529.5,95.3 530.0,95.1 530.5,95.2 531.0,95.5 531.5,95.8 532.0,96.1 532.5,96.2 533.0,96.0 533.5,95.6 534.0,95.2 534.5,95.1 535.0,95.2 535.5,95.6 536.0,96.0 536.5,96.2 537.0,96.1 537.5,95.8 538.0,95.5 538.5,95.2 539.0,95.1 539.5,95.3 540.0,95.7 540.5,96.1 541.0,96.2 541.5,96.1 542.0,95.7 542.5,95.3 543.0,95.1 543.5,95.2 544.0,95.5 544.5,95.8 545.0,96.1 545.5,96.2 546.0,96.0 546.5,95.6 547.0,95.2 547.5,95.1 548.0,95.2 548.5,95.6 549.0,96.0 549.5,96.2 550.0,96.1 550.5,95.8 551.0,95.5 551.5,95.2 552.0,95.1 552.5,95.3 553.0,95.7 553.5,96.1 554.0,96.2 554.6,96.2 555.4,96.3 556.1,96.3 556.7,96.2 557.1,95.9 557.2,95.4 557.4,94.9 557.5,94.2 557.7,93.4 557.8,92.9 558.0,92.2 558.1,91.6 558.2,91.1 558.4,90.4 558.5,89.8 558.7,89.4 559.2,89.0 559.5,89.4 559.7,90.1 559.9,90.8 560.0,91.5 560.2,92.3 560.4,93.1 560.5,93.9 560.7,94.6 561.0,95.4 561.2,96.0 561.7,96.0 562.0,95.4 562.2,94.6 562.4,93.9 562.5,93.1 562.7,92.4 562.9,91.7 563.0,90.9 563.2,90.3 563.5,89.6 563.7,89.3 564.2,89.7 564.4,90.1 564.5,90.7 564.7,91.4 564.9,92.1 565.0,92.9 565.2,93.6 565.4,94.3 565.5,95.0 565.7,95.5 566.0,96.0 566.2,96.2 566.5,96.0 566.7,95.5 566.9,95.0 567.0,94.3 567.2,93.6 567.4,92.9 567.5,92.2 567.7,91.5 567.9,90.9 568.0,90.3 568.2,89.9 568.7,89.6 569.0,89.9 569.2,90.6 569.4,91.2 569.5,91.9 569.7,92.6 569.9,93.3 570.0,94.1 570.2,94.7 570.5,95.5 570.7,96.0 571.2,96.0 571.5,95.5 571.7,94.7 571.9,94.1 572.0,93.4 572.2,92.7 572.4,92.0 572.5,91.4 572.7,90.8 573.0,90.2 573.2,89.8 573.7,90.2 573.9,90.6 574.0,91.2 574.2,91.7 574.4,92.4 574.5,93.1 574.7,93.8 574.9,94.5 575.0,95.1 575.2,95.5 575.5,96.0 575.7,96.2 576.0,96.0 576.2,95.5 576.4,95.1 576.5,94.5 576.7,93.9 576.9,93.2 577.0,92.5 577.2,91.9 577.5,91.0 577.7,90.4 578.2,90.1 578.5,90.5 578.7,91.1 578.9,91.6 579.0,92.3 579.2,92.9 579.4,93.6 579.5,94.2 579.7,94.8 580.0,95.6 580.2,96.0 580.7,96.0 581.0,95.6 581.2,94.9 581.4,94.3 581.5,93.6 581.7,93.0 581.9,92.4 582.0,91.8 582.2,91.3 582.5,90.7 582.7,90.4 583.2,90.7 583.5,91.3 583.7,92.1 583.9,92.8 584.0,93.4 584.2,94.0 584.4,94.6 584.5,95.2 584.7,95.6 585.2,96.2 585.7,95.6 585.9,95.2 586.0,94.6 586.2,94.1 586.4,93.5 586.5,92.8 586.7,92.3 587.0,91.5 587.2,91.0 587.7,90.7 588.0,91.0 588.2,91.6 588.4,92.1 588.5,92.6 588.7,93.2 588.9,93.8 589.0,94.4 589.2,95.0 589.5,95.6 589.7,96.1 590.2,96.1 590.5,95.6 590.7,95.0 590.9,94.5 591.0,93.9 591.2,93.3 591.4,92.8 591.5,92.2 591.7,91.8 592.0,91.2 592.2,91.0 592.7,91.3 593.0,91.8 593.2,92.5 593.4,93.1 593.5,93.7 593.7,94.2 594.0,95.0 594.2,95.7 594.7,96.2 593.2,96.3 591.9,96.4 596.5,96.4 596.9,96.4 597.4,96.4 597.9,96.4 598.4,96.4 599.0,96.4 599.5,96.4 600.2,96.4 600.8,96.4 601.5,96.4 602.2,96.4 602.9,96.4 603.6,96.4 604.4,96.4 605.1,96.4 605.9,96.4 606.8,96.4 607.6,96.4 608.5,96.4 609.3,96.4 610.2,96.4 611.1,96.4 612.0,96.4 613.0,96.4 613.9,96.4 614.8,96.4 615.8,96.4 616.8,96.4 617.7,96.4 618.7,96.4 619.7,96.4 620.7,96.4 621.7,96.4 622.7,96.4 623.7,96.4 624.7,96.4 625.7,96.4 626.6,96.4 627.6,96.4 628.6,96.4 629.6,96.4 630.6,96.4 631.5,96.4 632.5,96.4 633.5,96.4 634.4,96.4 635.3,96.4 636.3,96.4 637.2,96.4 638.1,96.4 638.9,96.4 639.8,96.4 640.7,96.4 641.5,96.4 642.3,96.4 643.1,96.4 643.9,96.4 644.6,96.4 645.3,96.4 646.1,96.4 646.7,96.4 647.4,96.4 648.0,96.4 648.6,96.4 649.2,96.4 649.7,96.4 650.3,96.4 650.7,96.4 651.2,96.4 651.6,96.4" fill="none" stroke="#1a1a1a" stroke-width="0.9" stroke-linejoin="round"/>
<text x="580.50" y="99.50" font-family='"Liberation Serif", serif' font-size="7.0" font-style="italic" font-weight="bold" fill="#1a1a1a" text-anchor="middle">h<tspan font-size='5' dy='1.6'>3</tspan></text>
<path d="M527.8,106.6 528.3,106.3 528.5,105.9 528.8,105.5 529.0,104.9 529.3,104.3 529.5,103.7 529.8,103.1 530.0,102.6 530.3,102.2 530.8,101.6 531.3,101.7 531.5,102.0 531.8,102.4 532.0,102.9 532.3,103.4 532.5,104.0 532.8,104.6 533.0,105.2 533.3,105.7 533.5,106.1 533.8,106.4 534.3,106.6 534.8,106.1 535.0,105.7 535.3,105.2 535.5,104.6 535.8,104.0 536.0,103.4 536.3,102.8 536.5,102.4 536.8,102.0 537.3,101.6 537.8,101.8 538.0,102.2 538.3,102.6 538.5,103.1 538.8,103.7 539.0,104.3 539.3,104.9 539.5,105.5 539.8,105.9 540.3,106.5 540.8,106.5 541.3,105.9 541.5,105.5 541.8,104.9 542.0,104.3 542.3,103.7 542.5,103.1 542.8,102.6 543.0,102.2 543.3,101.8 543.8,101.6 544.3,102.0 544.5,102.4 544.8,102.8 545.0,103.4 545.3,104.0 545.5,104.6 545.8,105.2 546.0,105.7 546.3,106.1 546.8,106.6 547.3,106.4 547.5,106.1 547.8,105.7 548.0,105.2 548.3,104.6 548.5,104.0 548.8,103.4 549.0,102.9 549.3,102.4 549.5,102.0 549.8,101.7 550.3,101.6 550.8,102.2 551.0,102.6 551.3,103.1 551.5,103.7 551.8,104.3 552.0,104.9 552.3,105.5 552.5,105.9 552.8,106.3 553.3,106.6 553.8,106.6 554.6,106.6 555.4,106.6 556.2,106.6 556.7,106.6 557.2,106.1 557.5,105.5 557.7,104.7 557.9,104.2 558.1,103.5 558.2,102.9 558.4,102.2 558.6,101.5 558.7,100.9 558.9,100.3 559.1,99.8 559.2,99.4 559.5,98.9 559.7,98.6 560.3,98.9 560.5,99.4 560.8,100.1 560.9,100.6 561.1,101.2 561.3,101.9 561.4,102.5 561.6,103.2 561.8,103.8 561.9,104.4 562.1,105.0 562.3,105.5 562.5,106.1 562.8,106.5 563.3,106.5 563.6,106.1 563.8,105.5 564.0,105.0 564.2,104.4 564.3,103.8 564.5,103.2 564.7,102.5 564.8,101.9 565.0,101.2 565.2,100.6 565.3,100.1 565.6,99.4 565.8,98.9 566.4,98.6 566.6,98.9 566.9,99.4 567.0,99.8 567.2,100.3 567.4,100.9 567.5,101.5 567.7,102.2 567.9,102.9 568.0,103.5 568.2,104.2 568.4,104.7 568.6,105.5 568.9,106.1 569.4,106.6 570.1,106.8 570.8,106.9 571.3,106.6 571.6,106.2 571.8,105.7 572.1,105.2 572.3,104.6 572.6,104.0 572.8,103.4 573.1,103.0 573.3,102.6 573.9,102.4 574.4,102.8 574.6,103.2 574.9,103.7 575.1,104.3 575.4,104.9 575.6,105.5 575.9,106.0 576.1,106.4 576.4,106.7 576.9,106.9 577.4,106.4 577.7,106.0 577.9,105.5 578.2,104.9 578.4,104.3 578.7,103.7 578.9,103.2 579.2,102.8 579.4,102.5 580.0,102.4 580.5,103.0 580.7,103.4 581.0,104.0 581.2,104.6 581.5,105.2 581.7,105.7 582.0,106.2 582.5,106.8 583.0,106.8 583.5,106.2 583.8,105.7 584.0,105.2 584.3,104.6 584.5,104.0 584.8,103.4 585.0,103.0 585.5,102.4 586.1,102.5 586.3,102.8 586.6,103.2 586.8,103.7 587.1,104.3 587.3,104.9 587.6,105.5 587.8,106.0 588.1,106.4 588.6,106.9 589.1,106.7 589.4,106.4 589.6,106.0 589.9,105.5 590.1,104.9 590.4,104.3 590.6,103.7 590.9,103.2 591.1,102.8 591.6,102.4 592.2,102.6 592.4,103.0 592.7,103.4 592.9,104.0 593.2,104.6 593.4,105.2 593.7,105.7 593.9,106.2 594.2,106.6 594.7,106.9 593.2,106.9 591.9,106.9 596.5,106.9 651.6,106.9" fill="none" stroke="#1a1a1a" stroke-width="0.9" stroke-linejoin="round"/>
<text x="564.00" y="101.50" font-family='"Liberation Serif", serif' font-size="7.0" font-style="italic" font-weight="bold" fill="#1a1a1a" text-anchor="middle">h<tspan font-size='5' dy='1.6'>2</tspan></text>
<path d="M527.8,88.3 598.4,88.3" fill="none" stroke="#7aa070" stroke-width="0.7" stroke-dasharray="2,1" stroke-linejoin="round"/>
<path d="M598.4,87.9 598.6,87.6 598.9,87.1 599.1,86.5 599.2,85.8 599.4,85.2 599.6,84.5 599.7,83.8 599.9,83.2 600.2,82.6 600.4,82.4 600.7,82.6 600.9,83.2 601.1,83.8 601.3,84.5 601.4,85.1 601.6,85.8 601.8,86.5 601.9,87.1 602.2,87.7 602.4,87.9 602.7,87.7 602.9,87.1 603.1,86.5 603.3,85.8 603.4,85.2 603.6,84.5 603.8,83.8 603.9,83.2 604.2,82.6 604.5,82.4 604.7,82.6 605.0,83.2 605.1,83.8 605.3,84.5 605.5,85.2 605.6,85.8 605.8,86.5 606.0,87.1 606.2,87.7 606.5,87.9 606.7,87.7 607.0,87.1 607.1,86.5 607.3,85.8 607.5,85.1 607.6,84.5 607.8,83.8 608.0,83.2 608.2,82.6 608.5,82.4 608.7,82.6 609.0,83.2 609.2,83.8 609.3,84.5 609.5,85.2 609.7,85.8 609.8,86.5 610.0,87.1 610.1,87.6 610.5,87.9 611.1,88.0 612.0,88.0 612.6,87.9 613.0,87.7 613.1,87.2 613.3,86.7 613.4,86.0 613.6,85.4 613.8,84.6 614.0,83.9 614.1,83.2 614.3,82.6 614.5,82.1 614.6,81.7 615.1,81.4 615.4,81.8 615.6,82.5 615.8,83.1 616.0,83.8 616.1,84.5 616.3,85.2 616.5,85.9 616.7,86.6 616.9,87.3 617.2,87.8 617.7,87.6 617.9,87.0 618.2,86.2 618.3,85.5 618.5,84.8 618.7,84.1 618.8,83.4 619.0,82.7 619.2,82.2 619.4,81.6 619.7,81.3 620.2,81.9 620.4,82.4 620.5,83.0 620.7,83.6 620.9,84.3 621.0,85.1 621.2,85.8 621.4,86.4 621.5,87.0 621.7,87.4 622.2,87.9 622.5,87.5 622.7,86.9 622.9,86.3 623.1,85.6 623.2,84.9 623.4,84.2 623.6,83.5 623.7,82.8 624.0,82.0 624.2,81.5 624.8,81.5 625.0,82.0 625.3,82.8 625.4,83.5 625.6,84.2 625.8,84.9 625.9,85.6 626.1,86.3 626.3,86.9 626.5,87.5 626.8,87.9 627.3,87.4 627.5,87.0 627.6,86.4 627.8,85.8 628.0,85.1 628.1,84.3 628.3,83.6 628.5,83.0 628.6,82.4 628.8,81.9 629.3,81.3 629.6,81.6 629.8,82.2 630.0,82.7 630.2,83.4 630.3,84.1 630.5,84.8 630.7,85.5 630.8,86.2 631.1,87.0 631.3,87.6 631.8,87.8 632.1,87.3 632.3,86.6 632.5,85.9 632.7,85.2 632.9,84.5 633.0,83.8 633.2,83.1 633.4,82.5 633.6,81.8 633.9,81.4 634.4,81.7 634.5,82.1 634.7,82.6 634.9,83.2 635.0,83.9 635.2,84.6 635.4,85.4 635.6,86.0 635.7,86.7 635.9,87.2 636.1,87.7 636.4,87.9 636.4,88.0 636.5,87.9 638.0,87.9 651.6,87.9" fill="none" stroke="#5aa25a" stroke-width="0.8" stroke-linejoin="round"/>
<text x="656.00" y="89.80" font-family='"Liberation Serif", serif' font-size="7.0" font-style="italic" font-weight="bold" fill="#5aa25a" text-anchor="middle">h<tspan font-size='5' dy='1.6'>4</tspan><tspan font-size='5.5' dy='-4.5'>'</tspan></text>
<path d="M527.8,116.0 598.4,116.0" fill="none" stroke="#7aa070" stroke-width="0.7" stroke-dasharray="2,1" stroke-linejoin="round"/>
<path d="M598.4,115.7 598.6,115.4 598.9,114.7 599.1,114.1 599.2,113.3 599.4,112.5 599.6,111.6 599.7,110.8 599.9,110.2 600.2,109.5 600.4,109.2 600.7,109.5 600.9,110.2 601.1,110.8 601.3,111.6 601.4,112.4 601.6,113.3 601.8,114.1 601.9,114.7 602.2,115.4 602.4,115.7 602.7,115.4 602.9,114.7 603.1,114.1 603.3,113.3 603.4,112.5 603.6,111.6 603.8,110.8 603.9,110.2 604.2,109.5 604.5,109.2 604.7,109.5 605.0,110.2 605.1,110.8 605.3,111.6 605.5,112.5 605.6,113.3 605.8,114.1 606.0,114.7 606.2,115.4 606.5,115.7 606.7,115.4 607.0,114.7 607.1,114.1 607.3,113.3 607.5,112.4 607.6,111.6 607.8,110.8 608.0,110.2 608.2,109.5 608.5,109.2 608.7,109.5 609.0,110.2 609.2,110.8 609.3,111.6 609.5,112.5 609.7,113.3 609.8,114.1 610.0,114.7 610.1,115.4 610.5,115.7 611.1,115.8 612.0,115.8 612.6,115.7 613.0,115.4 613.1,114.9 613.3,114.3 613.4,113.6 613.6,112.9 613.7,112.3 613.9,111.6 614.0,111.0 614.1,110.4 614.3,109.8 614.5,109.1 614.6,108.7 615.1,108.4 615.4,108.8 615.6,109.6 615.8,110.3 616.0,111.1 616.1,111.9 616.3,112.7 616.5,113.5 616.7,114.2 616.9,115.0 617.2,115.6 617.7,115.4 617.8,115.0 618.0,114.4 618.2,113.8 618.3,113.2 618.4,112.6 618.5,112.0 618.7,111.4 618.8,110.6 619.0,109.9 619.2,109.3 619.4,108.6 619.7,108.3 619.9,108.4 620.2,108.9 620.4,109.5 620.5,110.2 620.7,110.9 620.8,111.5 621.0,112.1 621.1,112.8 621.2,113.3 621.4,114.0 621.5,114.7 621.7,115.2 622.2,115.7 622.5,115.3 622.7,114.6 622.9,113.9 623.1,113.2 623.2,112.4 623.4,111.8 623.5,111.1 623.6,110.5 623.7,110.0 624.0,109.1 624.2,108.5 624.8,108.5 625.0,109.1 625.3,110.0 625.4,110.5 625.5,111.1 625.6,111.8 625.8,112.4 625.9,113.2 626.1,113.9 626.3,114.6 626.5,115.3 626.8,115.7 627.3,115.2 627.5,114.7 627.6,114.0 627.8,113.3 627.9,112.8 628.0,112.1 628.2,111.5 628.3,110.9 628.5,110.2 628.6,109.5 628.8,108.9 629.1,108.4 629.3,108.3 629.6,108.6 629.8,109.3 630.0,109.9 630.2,110.6 630.3,111.4 630.5,112.0 630.6,112.6 630.7,113.2 630.8,113.8 631.0,114.4 631.2,115.0 631.3,115.4 631.8,115.6 632.1,115.0 632.3,114.2 632.5,113.5 632.7,112.7 632.9,111.9 633.0,111.1 633.2,110.3 633.4,109.6 633.6,108.8 633.9,108.4 634.4,108.7 634.5,109.1 634.7,109.8 634.9,110.4 635.0,111.0 635.1,111.6 635.3,112.3 635.4,112.9 635.6,113.6 635.7,114.3 635.9,114.9 636.1,115.4 636.4,115.7 636.4,115.8 636.5,115.7 638.0,115.7 651.6,115.7" fill="none" stroke="#5aa25a" stroke-width="0.8" stroke-linejoin="round"/>
<text x="655.50" y="118.00" font-family='"Liberation Serif", serif' font-size="7.0" font-style="italic" font-weight="bold" fill="#5aa25a" text-anchor="middle">h<tspan font-size='5' dy='1.6'>3</tspan><tspan font-size='5.5' dy='-4.5'>'</tspan></text>
<path d="M527.8,126.4 598.4,126.4" fill="none" stroke="#7aa070" stroke-width="0.7" stroke-dasharray="2,1" stroke-linejoin="round"/>
<path d="M598.4,126.4 598.6,126.1 598.9,125.4 599.1,124.8 599.2,124.0 599.4,123.2 599.6,122.3 599.7,121.5 599.9,120.9 600.2,120.2 600.4,119.9 600.7,120.2 600.9,120.9 601.1,121.5 601.3,122.3 601.4,123.1 601.6,124.0 601.8,124.8 601.9,125.4 602.2,126.1 602.4,126.4 602.7,126.1 602.9,125.4 603.1,124.8 603.3,124.0 603.4,123.2 603.6,122.3 603.8,121.5 603.9,120.9 604.2,120.2 604.5,119.9 604.7,120.2 605.0,120.9 605.1,121.5 605.3,122.3 605.5,123.2 605.6,124.0 605.8,124.8 606.0,125.4 606.2,126.1 606.5,126.4 606.7,126.1 607.0,125.4 607.1,124.8 607.3,124.0 607.5,123.1 607.6,122.3 607.8,121.5 608.0,120.9 608.2,120.2 608.5,119.9 608.7,120.2 609.0,120.9 609.2,121.5 609.3,122.3 609.5,123.2 609.7,124.0 609.8,124.8 610.0,125.4 610.1,126.1 610.5,126.4 611.1,126.5 612.0,126.5 612.6,126.4 613.1,126.0 613.4,125.5 613.6,124.9 613.9,124.2 614.1,123.6 614.4,123.0 614.6,122.6 615.1,122.4 615.4,122.7 615.6,123.1 615.9,123.7 616.1,124.3 616.4,125.0 616.7,125.6 616.9,126.0 617.2,126.3 617.7,126.2 617.9,125.9 618.2,125.4 618.4,124.7 618.7,124.1 618.9,123.4 619.2,122.9 619.7,122.4 620.2,122.8 620.4,123.2 620.7,123.8 621.0,124.5 621.2,125.1 621.5,125.7 621.7,126.1 622.2,126.4 622.7,125.8 623.0,125.2 623.2,124.6 623.5,123.9 623.7,123.3 624.0,122.8 624.2,122.5 624.8,122.5 625.0,122.8 625.3,123.3 625.5,123.9 625.8,124.6 626.0,125.2 626.3,125.8 626.8,126.4 627.3,126.1 627.5,125.7 627.8,125.1 628.0,124.5 628.3,123.8 628.6,123.2 628.8,122.8 629.3,122.4 629.8,122.9 630.1,123.4 630.3,124.1 630.6,124.7 630.8,125.4 631.1,125.9 631.3,126.2 631.8,126.3 632.1,126.0 632.3,125.6 632.6,125.0 632.9,124.3 633.1,123.7 633.4,123.1 633.6,122.7 633.9,122.4 634.4,122.6 634.6,123.0 634.9,123.6 635.1,124.2 635.4,124.9 635.6,125.5 635.9,126.0 636.4,126.4 636.4,126.4 636.5,126.4 638.0,126.4 651.6,126.4" fill="none" stroke="#5aa25a" stroke-width="0.8" stroke-linejoin="round"/>
<text x="655.50" y="128.00" font-family='"Liberation Serif", serif' font-size="7.0" font-style="italic" font-weight="bold" fill="#5aa25a" text-anchor="middle">h<tspan font-size='5' dy='1.6'>2</tspan><tspan font-size='5.5' dy='-4.5'>'</tspan></text>
<path d="M527.8,129.1 528.2,129.1 528.7,129.1 529.2,129.1 529.7,129.1 530.3,129.1 530.9,129.1 531.6,129.1 532.2,129.1 533.0,129.1 533.7,129.1 534.5,129.1 535.3,129.1 536.1,129.1 536.9,129.1 537.8,129.1 538.7,129.1 539.6,129.1 540.5,129.1 541.4,129.1 542.4,129.1 543.3,129.1 544.3,129.1 545.2,129.1 546.2,129.1 547.2,129.1 548.2,129.1 549.2,129.1 550.1,129.1 551.1,129.1 552.1,129.1 553.0,129.1 554.0,129.1 555.0,129.1 555.9,129.1 556.8,129.1 557.7,129.1 558.6,129.1 559.5,129.1 560.3,129.1 561.2,129.1 562.0,129.1 562.7,129.1 563.5,129.1 564.2,129.1 564.9,129.1 565.6,129.1 566.2,129.1 566.8,129.1 567.4,129.1 567.9,129.1 568.4,129.1 568.8,129.1 572.4,129.1 571.7,129.0 570.8,128.9 571.3,128.5 571.6,128.0 571.8,127.4 572.1,126.7 572.3,126.0 572.6,125.3 572.8,124.6 573.1,124.0 573.3,123.6 573.9,123.3 574.4,123.8 574.6,124.3 574.9,124.9 575.1,125.6 575.4,126.4 575.6,127.1 575.9,127.8 576.1,128.3 576.4,128.7 576.9,128.9 577.4,128.3 577.7,127.8 577.9,127.1 578.2,126.4 578.4,125.6 578.7,124.9 578.9,124.3 579.2,123.8 579.4,123.5 580.0,123.4 580.2,123.6 580.5,124.0 580.7,124.6 581.0,125.3 581.2,126.0 581.5,126.7 581.7,127.4 582.0,128.0 582.2,128.5 582.5,128.8 583.0,128.8 583.3,128.5 583.5,128.0 583.8,127.4 584.0,126.7 584.3,126.0 584.5,125.3 584.8,124.6 585.0,124.0 585.3,123.6 585.5,123.4 586.1,123.5 586.3,123.8 586.6,124.3 586.8,124.9 587.1,125.6 587.3,126.4 587.6,127.1 587.8,127.8 588.1,128.3 588.6,128.9 589.1,128.7 589.4,128.3 589.6,127.8 589.9,127.1 590.1,126.4 590.4,125.6 590.6,124.9 590.9,124.3 591.1,123.8 591.6,123.3 592.2,123.6 592.4,124.0 592.7,124.6 592.9,125.3 593.2,126.0 593.4,126.7 593.7,127.4 593.9,128.0 594.2,128.5 594.7,128.9 595.3,129.0 596.1,129.0 597.0,129.1 597.8,129.1 598.4,129.1 598.9,128.8 598.9,128.1 599.1,127.5 599.2,126.7 599.4,125.8 599.6,125.0 599.7,124.2 599.9,123.6 600.2,122.9 600.4,122.6 600.7,122.9 600.9,123.6 601.1,124.2 601.3,125.0 601.4,125.8 601.6,126.7 601.8,127.5 601.9,128.1 602.2,128.8 602.4,129.1 602.7,128.8 602.9,128.1 603.1,127.5 603.3,126.7 603.4,125.9 603.6,125.0 603.8,124.2 603.9,123.6 604.2,122.9 604.5,122.6 604.7,122.9 605.0,123.6 605.1,124.2 605.3,125.0 605.5,125.9 605.6,126.7 605.8,127.5 606.0,128.1 606.2,128.8 606.5,129.1 606.7,128.8 607.0,128.1 607.1,127.5 607.3,126.7 607.5,125.8 607.6,125.0 607.8,124.2 608.0,123.6 608.2,122.9 608.5,122.6 608.7,122.9 609.0,123.6 609.2,124.2 609.3,125.0 609.5,125.9 609.7,126.7 609.8,127.5 610.0,128.1 610.1,128.8 610.5,129.1 611.1,129.2 612.0,129.1 612.6,129.1 613.1,128.9 613.6,128.5 614.1,128.0 614.6,127.7 615.1,127.6 615.6,127.9 616.1,128.3 616.7,128.8 617.2,129.1 617.7,129.0 618.2,128.7 618.7,128.2 619.2,127.8 619.7,127.6 620.2,127.7 620.7,128.1 621.2,128.6 621.7,129.0 622.2,129.1 622.7,128.9 623.2,128.4 623.7,127.9 624.2,127.6 624.8,127.6 625.3,127.9 625.8,128.4 626.3,128.9 626.8,129.1 627.3,129.0 627.8,128.6 628.3,128.1 628.8,127.7 629.3,127.6 629.8,127.8 630.3,128.2 630.8,128.7 631.3,129.0 631.8,129.1 632.3,128.8 632.9,128.3 633.4,127.9 633.9,127.6 634.4,127.7 634.9,128.0 635.4,128.5 635.9,128.9 636.4,129.1 636.8,129.1 637.4,129.1 638.0,129.1 638.7,129.1 639.5,129.1 640.4,129.1 641.2,129.1 642.2,129.1 643.1,129.1 644.0,129.1 645.0,129.1 645.9,129.1 646.8,129.1 647.7,129.1 648.5,129.1 649.3,129.1 650.0,129.1 650.6,129.1 651.2,129.1 651.6,129.1" fill="none" stroke="#1a1a1a" stroke-width="0.9" stroke-linejoin="round"/>
<text x="573.80" y="130.20" font-family='"Liberation Serif", serif' font-size="7.0" font-style="italic" font-weight="bold" fill="#1a1a1a" text-anchor="middle">h<tspan font-size='5' dy='1.6'>1</tspan></text>
<path d="M581.40,132.20V138.70" stroke="#000" stroke-width="1.1"/><path d="M581.40,129.30L579.40,132.70L583.40,132.70Z M581.40,141.60L579.40,138.20L583.40,138.20Z" fill="#000"/>
<text x="583.00" y="136.50" font-size="6.0" font-weight="bold" textLength="14.0" lengthAdjust="spacingAndGlyphs" fill="#111">40meV</text>
<path d="M527.8,145.8 612.0,145.8" fill="none" stroke="#3a3ab8" stroke-width="0.8" stroke-dasharray="2,1" stroke-linejoin="round"/>
<path d="M612.6,144.6 613.1,144.3 613.4,143.9 613.6,143.4 613.9,142.8 614.1,142.2 614.4,141.6 614.6,141.1 614.9,140.6 615.1,140.2 615.6,140.0 616.1,140.4 616.4,140.8 616.7,141.3 616.9,141.9 617.2,142.5 617.4,143.1 617.7,143.7 617.9,144.1 618.2,144.4 618.7,144.6 619.2,144.1 619.4,143.7 619.7,143.1 619.9,142.5 620.2,141.9 620.4,141.3 620.7,140.8 621.0,140.4 621.2,140.1 621.7,140.0 622.2,140.6 622.5,141.1 622.7,141.6 623.0,142.2 623.2,142.8 623.5,143.4 623.7,143.9 624.0,144.3 624.2,144.5 624.8,144.5 625.0,144.3 625.3,143.9 625.5,143.4 625.8,142.8 626.0,142.2 626.3,141.6 626.5,141.1 626.8,140.6 627.3,140.0 627.8,140.1 628.0,140.4 628.3,140.8 628.6,141.3 628.8,141.9 629.1,142.5 629.3,143.1 629.6,143.7 629.8,144.1 630.3,144.6 630.8,144.4 631.1,144.1 631.3,143.7 631.6,143.1 631.8,142.5 632.1,141.9 632.3,141.3 632.6,140.8 632.9,140.4 633.4,140.0 633.9,140.2 634.1,140.6 634.4,141.1 634.6,141.6 634.9,142.2 635.1,142.8 635.4,143.4 635.6,143.9 635.9,144.3 636.4,144.6 636.8,144.6 637.2,144.6 637.7,144.4 638.0,144.1 638.2,143.7 638.5,143.2 638.7,142.7 639.0,142.2 639.3,141.7 639.5,141.2 639.8,140.7 640.0,140.3 640.3,140.0 640.8,139.8 641.3,140.0 641.6,140.3 641.8,140.7 642.1,141.2 642.3,141.7 642.6,142.2 642.9,142.7 643.1,143.2 643.4,143.7 643.6,144.1 643.9,144.4 644.4,144.6 644.9,144.4 645.2,144.1 645.4,143.7 645.7,143.2 645.9,142.7 646.2,142.2 646.5,141.7 646.7,141.2 647.0,140.7 647.2,140.3 647.5,140.0 648.0,139.8 648.5,140.0 648.8,140.3 649.0,140.7 649.3,141.2 649.5,141.7 649.8,142.2 650.1,142.7 650.3,143.2 650.6,143.7 650.8,144.1 651.1,144.4 651.6,144.6" fill="none" stroke="#3a3ab8" stroke-width="0.8" stroke-linejoin="round"/>
<text x="654.60" y="140.80" font-family='"Liberation Serif", serif' font-size="7.0" font-style="italic" font-weight="bold" fill="#3a3ab8" text-anchor="middle">h<tspan font-size='5' dy='1.6'>2</tspan><tspan font-size='5.5' dy='-4.5'>''</tspan></text>
<path d="M612.6,144.2 613.1,144.5 613.4,144.9 613.6,145.4 613.9,146.0 614.1,146.6 614.4,147.2 614.6,147.7 614.9,148.2 615.1,148.6 615.6,148.8 616.1,148.4 616.4,148.0 616.7,147.5 616.9,146.9 617.2,146.3 617.4,145.7 617.7,145.1 617.9,144.7 618.2,144.4 618.7,144.2 619.2,144.7 619.4,145.1 619.7,145.7 619.9,146.3 620.2,146.9 620.4,147.5 620.7,148.0 621.0,148.4 621.2,148.7 621.7,148.8 622.2,148.2 622.5,147.7 622.7,147.2 623.0,146.6 623.2,146.0 623.5,145.4 623.7,144.9 624.0,144.5 624.2,144.3 624.8,144.3 625.0,144.5 625.3,144.9 625.5,145.4 625.8,146.0 626.0,146.6 626.3,147.2 626.5,147.7 626.8,148.2 627.3,148.8 627.8,148.7 628.0,148.4 628.3,148.0 628.6,147.5 628.8,146.9 629.1,146.3 629.3,145.7 629.6,145.1 629.8,144.7 630.3,144.2 630.8,144.4 631.1,144.7 631.3,145.1 631.6,145.7 631.8,146.3 632.1,146.9 632.3,147.5 632.6,148.0 632.9,148.4 633.4,148.8 633.9,148.6 634.1,148.2 634.4,147.7 634.6,147.2 634.9,146.6 635.1,146.0 635.4,145.4 635.6,144.9 635.9,144.5 636.4,144.2 636.8,144.2 637.2,144.2 637.7,144.4 638.0,144.7 638.2,145.1 638.5,145.5 638.7,146.0 639.0,146.5 639.3,147.0 639.5,147.5 639.8,147.9 640.0,148.3 640.3,148.6 640.8,148.8 641.3,148.6 641.6,148.3 641.8,147.9 642.1,147.5 642.3,147.0 642.6,146.5 642.9,146.0 643.1,145.5 643.4,145.1 643.6,144.7 643.9,144.4 644.4,144.2 644.9,144.4 645.2,144.7 645.4,145.1 645.7,145.5 645.9,146.0 646.2,146.5 646.5,147.0 646.7,147.5 647.0,147.9 647.2,148.3 647.5,148.6 648.0,148.8 648.5,148.6 648.8,148.3 649.0,147.9 649.3,147.5 649.5,147.0 649.8,146.5 650.1,146.0 650.3,145.5 650.6,145.1 650.8,144.7 651.1,144.4 651.6,144.2" fill="none" stroke="#5aa25a" stroke-width="0.8" stroke-linejoin="round"/>
<text x="655.40" y="148.60" font-family='"Liberation Serif", serif' font-size="7.0" font-style="italic" font-weight="bold" fill="#5aa25a" text-anchor="middle">h<tspan font-size='5' dy='1.6'>1</tspan><tspan font-size='5.5' dy='-4.5'>'</tspan></text>
</g>
<clipPath id="cb1"><rect x="37.4" y="236.5" width="147.40" height="172.50"/></clipPath>
<rect x="78.30" y="258.90" width="41.80" height="144.70" fill="#ededed" stroke="#dcdcdc" stroke-width="0.6"/>
<g clip-path="url(#cb1)">
<g transform="translate(0.00,0.00)">
<path d="M51.4,245.3 54.6,247.0 54.6,361.9 77.2,376.2 77.2,263.0 80.7,264.8 80.7,378.7 92.4,386.7 92.4,273.2 95.3,274.7 95.3,389.6 118.4,403.4 118.4,290.4 121.6,292.4 121.6,405.4 133.6,412.6 133.6,300.9 136.5,302.5 136.5,415.0 158.4,430.0 158.4,318.3 162.4,320.0 162.4,440.0" fill="none" stroke="#363636" stroke-width="0.9" stroke-linejoin="miter"/>
</g>
<g transform="translate(0.00,0.00)">
<path d="M51.0,341.6 53.0,341.6 53.5,341.2 54.0,340.1 54.5,338.4 55.1,336.1 55.6,333.6 56.1,331.0 56.6,328.5 57.1,326.3 57.6,324.6 58.1,323.6 58.7,323.3 59.2,323.5 59.7,324.1 60.2,324.9 60.7,326.1 61.2,327.5 61.8,329.1 62.3,330.8 62.8,332.6 63.3,334.3 63.8,336.0 64.3,337.6 64.8,339.0 65.4,340.1 65.9,340.9 66.4,341.4 66.9,341.6 67.4,341.4 67.9,340.9 68.4,340.0 68.9,338.9 69.4,337.6 70.0,336.1 70.5,334.7 71.0,333.3 71.5,332.1 72.0,331.1 72.5,330.5 73.0,330.1 73.5,330.2 74.0,330.7 74.5,331.7 75.0,333.1 75.5,334.7 76.1,336.4 76.6,338.0 77.1,339.5 77.6,340.6 78.1,341.4 78.6,341.6 79.2,341.6" fill="none" stroke="#74dce8" stroke-width="0.9" stroke-linejoin="round"/>
<path d="M78.8,341.8 173.3,342.0" fill="none" stroke="#8fe3ea" stroke-width="0.9" stroke-dasharray="3,0.8" stroke-linejoin="round"/>
<g transform="translate(0,0)">
<path d="M50.8,369.9 80.0,369.9 85.0,369.2 90.0,367.6 94.0,365.5 95.3,367.6 95.8,367.1 96.3,365.6 96.8,363.2 97.3,360.4 97.8,357.3 98.3,354.5 98.8,352.1 99.3,350.6 99.8,350.1 100.3,350.3 100.8,351.0 101.3,352.0 101.8,353.4 102.3,355.1 102.8,356.9 103.3,358.9 103.8,360.8 104.3,362.6 104.8,364.3 105.3,365.7 105.8,366.7 106.3,367.4 106.8,367.6 107.3,367.4 107.8,366.9 108.3,366.0 108.9,364.9 109.4,363.6 109.9,362.2 110.4,360.8 110.9,359.5 111.5,358.4 112.0,357.5 112.5,356.9 113.0,356.6 113.5,356.7 114.0,357.2 114.5,358.1 115.1,359.2 115.6,360.5 116.1,362.0 116.6,363.4 117.1,364.8 117.7,365.9 118.2,366.8 118.7,367.4 119.2,367.6 120.3,369.4 120.8,369.4" fill="none" stroke="#74dce8" stroke-width="0.9" stroke-linejoin="round"/>
<path d="M120.3,369.4 173.3,369.4" fill="none" stroke="#74dce8" stroke-width="1.25" stroke-linejoin="round"/>
</g>
<path d="M51.6,362.0 52.1,362.0 52.6,361.9 53.1,361.9 53.6,361.8 54.1,361.6 54.7,361.5 55.2,361.3 55.7,361.1 56.2,360.8 56.7,360.6 57.2,360.3 57.7,360.0 58.2,359.7 58.7,359.4 59.2,359.1 59.8,358.8 60.3,358.4 60.8,358.1 61.3,357.8 61.8,357.4 62.3,357.1 62.8,356.8 63.3,356.5 63.8,356.3 64.3,356.0 64.8,355.8 65.4,355.6 65.9,355.4 66.4,355.2 66.9,355.1 67.4,355.0 67.9,354.9 68.4,354.8 68.9,354.8 69.4,354.8 69.9,355.0 70.4,355.2 71.0,355.5 71.5,355.9 72.0,356.4 72.5,356.9 73.0,357.5 73.5,358.1 74.0,358.7 74.5,359.2 75.0,359.8 75.5,360.3 76.1,360.8 76.6,361.2 77.1,361.6 77.6,361.8 78.1,362.0 78.6,362.0 79.1,361.8 79.6,361.3 80.1,360.5 80.7,359.5 81.2,358.2 81.7,356.7 82.2,355.2 82.7,353.7 83.2,352.2 83.7,350.8 84.3,349.7 84.8,348.8 85.3,348.1 85.8,347.8 86.3,347.9 86.8,348.2 87.3,348.9 87.8,349.8 88.4,351.0 88.9,352.4 89.4,353.8 89.9,355.4 90.4,356.9 90.9,358.3 91.4,359.5 92.0,360.6 92.5,361.4 93.0,361.8 93.5,362.0 94.0,361.9 94.5,361.6 95.0,361.2 95.5,360.9 96.0,360.8 96.5,360.8 97.0,361.0 97.5,361.2 98.0,361.4 98.5,361.6 99.0,361.8 99.5,362.0 100.0,362.0 101.0,363.4 173.3,363.4" fill="none" stroke="#cc3b2a" stroke-width="1.0" stroke-linejoin="round"/>
<path d="M51.6,361.6 52.1,361.6 52.6,361.5 53.1,361.4 53.6,361.2 54.1,361.0 54.7,360.7 55.2,360.4 55.7,360.1 56.2,359.7 56.7,359.3 57.2,358.8 57.7,358.4 58.2,357.9 58.7,357.4 59.2,357.0 59.8,356.5 60.3,356.0 60.8,355.5 61.3,355.1 61.8,354.6 62.3,354.2 62.8,353.8 63.3,353.5 63.8,353.2 64.3,352.9 64.8,352.6 65.4,352.5 65.9,352.3 66.4,352.2 66.9,352.2 67.4,352.2 67.9,352.3 68.4,352.5 68.9,352.8 69.4,353.2 69.9,353.6 70.4,354.1 71.0,354.7 71.5,355.2 72.0,355.9 72.5,356.5 73.0,357.1 73.5,357.8 74.0,358.4 74.5,359.0 75.0,359.6 75.5,360.1 76.1,360.5 76.6,360.9 77.1,361.2 77.6,361.4 78.1,361.6 78.6,361.6 79.1,361.4 79.6,361.0 80.1,360.2 80.7,359.1 81.2,357.9 81.7,356.5 82.2,355.0 82.7,353.5 83.2,352.1 83.7,350.7 84.3,349.6 84.8,348.7 85.3,348.1 85.8,347.8 86.3,347.9 86.8,348.2 87.3,348.9 87.8,349.8 88.4,350.9 88.9,352.2 89.4,353.7 89.9,355.1 90.4,356.6 90.9,358.0 91.4,359.2 92.0,360.2 92.5,361.0 93.0,361.4 93.5,361.6 94.0,361.5 94.5,361.1 95.0,360.6 95.5,360.2 96.0,360.1 96.5,360.2 97.0,360.3 97.5,360.6 98.0,360.9 98.5,361.1 99.0,361.4 99.5,361.5 100.0,361.6 173.3,361.6" fill="none" stroke="#3cc43c" stroke-width="1.0" stroke-linejoin="round"/>
<g transform="translate(0,0)">
<path d="M51.6,389.6 95.0,389.6" fill="none" stroke="#9ad58a" stroke-width="1.0" stroke-linejoin="round"/>
<path d="M51.6,391.2 95.0,391.2" fill="none" stroke="#d99a88" stroke-width="0.8" stroke-dasharray="2,1" stroke-linejoin="round"/>
<path d="M95.0,389.6 95.5,389.6 96.0,389.4 96.5,389.2 97.0,389.0 97.5,388.6 98.0,388.2 98.5,387.8 99.0,387.2 99.6,386.7 100.1,386.1 100.6,385.4 101.1,384.8 101.6,384.1 102.1,383.5 102.6,382.8 103.1,382.2 103.6,381.6 104.1,381.0 104.6,380.5 105.1,380.0 105.6,379.6 106.1,379.3 106.6,379.0 107.1,378.8 107.7,378.6 108.2,378.6 108.7,378.6 109.2,378.8 109.7,379.0 110.2,379.3 110.7,379.7 111.2,380.2 111.7,380.7 112.2,381.3 112.7,382.0 113.2,382.6 113.7,383.3 114.2,384.1 114.7,384.8 115.2,385.5 115.7,386.2 116.3,386.8 116.8,387.4 117.3,388.0 117.8,388.5 118.3,388.9 118.8,389.2 119.3,389.4 119.8,389.6 120.3,389.6 120.8,389.4 121.3,388.9 121.8,388.1 122.3,386.9 122.8,385.6 123.3,384.1 123.8,382.5 124.3,380.9 124.8,379.5 125.3,378.1 125.8,377.0 126.3,376.2 126.9,375.7 127.4,375.6 127.9,375.9 128.4,376.6 128.9,377.8 129.4,379.2 129.9,380.9 130.4,382.7 130.9,384.5 131.4,386.2 131.9,387.6 132.4,388.7 132.9,389.4 133.4,389.6 133.9,389.6 134.4,389.4 134.9,389.2 135.4,389.0 135.9,388.7 136.4,388.5 136.9,388.4 137.4,388.3 137.9,388.3 138.4,388.5 138.9,388.6 139.4,388.9 139.9,389.1 140.4,389.4 140.9,389.5 141.4,389.6 141.9,389.6 142.4,389.5 142.9,389.3 143.4,389.1 143.9,388.8 144.4,388.6 144.9,388.4 145.4,388.3 146.0,388.3 146.5,388.4 147.0,388.6 147.5,388.8 148.0,389.1 148.5,389.3 149.0,389.5 149.5,389.6 150.0,389.6 150.5,389.5 151.0,389.4 151.5,389.1 152.0,388.9 152.5,388.6 153.0,388.5 153.5,388.3 154.0,388.3 154.5,388.4 155.0,388.5 155.5,388.7 156.0,389.0 156.5,389.2 157.0,389.4 157.5,389.6 158.0,389.6 173.3,389.6" fill="none" stroke="#7fcf7a" stroke-width="0.9" stroke-linejoin="round"/>
<path d="M95.0,391.2 95.5,391.2 96.0,391.1 96.5,391.0 97.0,390.8 97.5,390.5 98.0,390.3 98.5,389.9 99.0,389.6 99.6,389.2 100.1,388.8 100.6,388.3 101.1,387.9 101.6,387.4 102.1,386.9 102.6,386.4 103.1,386.0 103.6,385.5 104.1,385.1 104.6,384.6 105.1,384.2 105.6,383.9 106.1,383.6 106.6,383.3 107.1,383.0 107.7,382.9 108.2,382.7 108.7,382.6 109.2,382.6 109.7,382.6 110.2,382.8 110.7,383.0 111.2,383.3 111.7,383.6 112.2,384.1 112.7,384.6 113.2,385.1 113.7,385.7 114.2,386.3 114.7,386.9 115.2,387.5 115.7,388.1 116.3,388.7 116.8,389.2 117.3,389.7 117.8,390.1 118.3,390.5 118.8,390.8 119.3,391.0 119.8,391.2 120.3,391.2 120.8,391.0 121.3,390.5 121.8,389.7 122.3,388.6 122.8,387.3 123.3,385.8 123.8,384.3 124.3,382.8 124.8,381.4 125.3,380.1 125.8,379.0 126.3,378.2 126.9,377.7 127.4,377.6 127.9,377.9 128.4,378.6 128.9,379.7 129.4,381.1 129.9,382.7 130.4,384.5 130.9,386.2 131.4,387.9 131.9,389.2 132.4,390.3 132.9,391.0 133.4,391.2 133.9,391.2 134.4,391.1 134.9,390.9 135.4,390.7 135.9,390.5 136.4,390.4 136.9,390.2 137.4,390.2 137.9,390.2 138.4,390.3 138.9,390.5 139.4,390.7 139.9,390.8 140.4,391.0 140.9,391.1 141.4,391.2 141.9,391.2 142.4,391.1 142.9,391.0 143.4,390.8 143.9,390.6 144.4,390.4 144.9,390.3 145.4,390.2 146.0,390.2 146.5,390.3 147.0,390.4 147.5,390.6 148.0,390.8 148.5,391.0 149.0,391.1 149.5,391.2 150.0,391.2 150.5,391.1 151.0,391.0 151.5,390.8 152.0,390.7 152.5,390.5 153.0,390.3 153.5,390.2 154.0,390.2 154.5,390.2 155.0,390.4 155.5,390.5 156.0,390.7 156.5,390.9 157.0,391.1 157.5,391.2 158.0,391.2 173.3,391.2" fill="none" stroke="#c2704f" stroke-width="0.9" stroke-linejoin="round"/>
<path d="M51.6,397.4 120.0,397.4" fill="none" stroke="#8fe3ea" stroke-width="0.9" stroke-dasharray="3,0.8" stroke-linejoin="round"/>
<path d="M119.5,397.4 119.9,397.4 120.3,397.4 120.8,397.4 121.2,397.3 121.6,397.3 122.0,397.2 122.4,397.2 122.8,397.2 123.2,397.1 123.7,397.0 124.1,397.0 124.5,396.9 124.9,396.9 125.3,396.9 125.8,396.8 126.2,396.8 126.6,396.8 127.0,396.8 127.4,396.8 127.8,396.7 128.2,396.6 128.6,396.5 129.0,396.3 129.4,396.1 129.8,395.9 130.2,395.7 130.6,395.5 131.0,395.3 131.4,395.1 131.8,394.9 132.2,394.8 132.6,394.7 133.0,394.6 133.4,394.6 133.8,394.5 134.2,394.0 134.7,393.3 135.1,392.4 135.5,391.2 135.9,389.9 136.4,388.5 136.8,386.9 137.2,385.4 137.6,383.8 138.1,382.4 138.5,381.1 138.9,379.9 139.3,379.0 139.8,378.3 140.2,377.8 140.6,377.7 141.0,377.8 141.4,378.2 141.8,378.8 142.3,379.7 142.7,380.7 143.1,382.0 143.5,383.4 143.9,384.8 144.3,386.4 144.8,387.9 145.2,389.5 145.6,390.9 146.0,392.3 146.4,393.6 146.8,394.6 147.3,395.5 147.7,396.1 148.1,396.5 148.5,396.6 148.9,396.5 149.3,396.1 149.7,395.5 150.2,394.8 150.6,393.8 151.0,392.8 151.4,391.6 151.8,390.5 152.2,389.3 152.6,388.3 153.0,387.3 153.5,386.6 153.9,386.0 154.3,385.6 154.7,385.5 155.1,385.7 155.5,386.3 155.9,387.2 156.3,388.4 156.7,389.8 157.1,391.3 157.5,392.9 157.9,394.3 158.3,395.5 158.7,396.4 159.1,397.0 159.5,397.2 159.8,397.2 160.0,397.2" fill="none" stroke="#74dce8" stroke-width="0.9" stroke-linejoin="round"/>
<path d="M159.7,397.2 173.3,397.2" fill="none" stroke="#8fe3ea" stroke-width="0.9" stroke-dasharray="3,0.8" stroke-linejoin="round"/>
</g>
<text x="46.30" y="341.60" font-family='"Liberation Serif", serif' font-size="7" font-style="italic" font-weight="bold" fill="#74dce8" text-anchor="middle">f</text>
<text x="47.90" y="361.40" font-family='"Liberation Serif", serif' font-size="7" font-style="italic" font-weight="bold" fill="#3cc43c" text-anchor="middle">i</text>
<text x="47.30" y="368.00" font-family='"Liberation Serif", serif' font-size="6.5" font-style="italic" font-weight="bold" fill="#cc3b2a" text-anchor="middle">u</text>
<text x="47.90" y="392.20" font-family='"Liberation Serif", serif' font-size="7" font-style="italic" font-weight="bold" fill="#3cc43c" text-anchor="middle">i<tspan font-size='4.5' dy='-2.5'>'</tspan></text>
<text x="59.50" y="397.00" font-family='"Liberation Serif", serif' font-size="6.5" font-style="italic" font-weight="bold" fill="#cc3b2a" text-anchor="middle">u<tspan font-size='4.5' dy='-2.5'>'</tspan></text>
<text x="73.20" y="403.80" font-family='"Liberation Serif", serif' font-size="7" font-style="italic" font-weight="bold" fill="#74dce8" text-anchor="middle">f<tspan font-size='4.5' dy='-2.5'>'</tspan></text>
<text x="101.00" y="370.80" font-family='"Liberation Serif", serif' font-size="7" font-style="italic" font-weight="bold" fill="#74dce8" text-anchor="middle">f</text>
<text x="49.4" y="381.3" font-size="6.1" font-weight="bold" textLength="14.6" lengthAdjust="spacingAndGlyphs" fill="#111">55meV</text>
<path d="M66.20,372.80V386.70" stroke="#000" stroke-width="1.1"/><path d="M66.20,369.90L64.20,373.30L68.20,373.30Z M66.20,389.60L64.20,386.20L68.20,386.20Z" fill="#000"/>
</g>
</g>
<clipPath id="cb2"><rect x="196.3" y="236.4" width="147.30" height="172.40"/></clipPath>
<rect x="237.80" y="258.80" width="41.30" height="144.90" fill="#ededed" stroke="#dcdcdc" stroke-width="0.6"/>
<g clip-path="url(#cb2)">
<g transform="translate(159.20,0.00)">
<path d="M51.4,245.3 54.6,247.0 54.6,361.9 77.2,376.2 77.2,263.0 80.7,264.8 80.7,378.7 92.4,386.7 92.4,273.2 95.3,274.7 95.3,389.6 118.4,403.4 118.4,290.4 121.6,292.4 121.6,405.4 133.6,412.6 133.6,300.9 136.5,302.5 136.5,415.0 158.4,430.0 158.4,318.3 162.4,320.0 162.4,440.0" fill="none" stroke="#363636" stroke-width="0.9" stroke-linejoin="miter"/>
</g>
<g transform="translate(159.20,0.40)">
<path d="M51.0,341.8 53.0,341.8 53.5,341.4 54.0,340.4 54.5,338.8 55.0,336.7 55.5,334.4 56.0,332.0 56.6,329.8 57.1,327.8 57.6,326.4 58.1,325.6 58.6,325.5 59.1,325.8 59.6,326.4 60.1,327.4 60.6,328.5 61.1,329.9 61.6,331.5 62.1,333.1 62.6,334.8 63.2,336.4 63.7,337.9 64.2,339.2 64.7,340.3 65.2,341.1 65.7,341.6 66.2,341.8 66.7,341.6 67.2,341.1 67.8,340.4 68.3,339.3 68.8,338.0 69.3,336.6 69.8,335.1 70.3,333.6 70.8,332.2 71.4,330.9 71.9,329.8 72.4,328.9 72.9,328.3 73.4,328.0 74.0,328.2 74.5,329.0 75.0,330.4 75.5,332.4 76.0,334.5 76.5,336.8 77.0,338.8 77.6,340.4 78.1,341.4 78.6,341.8 79.2,341.8" fill="none" stroke="#74dce8" stroke-width="0.9" stroke-linejoin="round"/>
<path d="M78.8,342.0 173.3,342.2" fill="none" stroke="#8fe3ea" stroke-width="0.9" stroke-dasharray="3,0.8" stroke-linejoin="round"/>
<g transform="translate(0,0)">
<path d="M50.8,369.9 80.0,369.9 85.0,369.2 90.0,367.6 94.0,365.5 95.3,367.6 95.8,367.1 96.3,365.6 96.8,363.2 97.3,360.4 97.8,357.3 98.3,354.5 98.8,352.1 99.3,350.6 99.8,350.1 100.3,350.3 100.8,351.0 101.3,352.0 101.8,353.4 102.3,355.1 102.8,356.9 103.3,358.9 103.8,360.8 104.3,362.6 104.8,364.3 105.3,365.7 105.8,366.7 106.3,367.4 106.8,367.6 107.3,367.4 107.8,366.9 108.3,366.0 108.9,364.9 109.4,363.6 109.9,362.2 110.4,360.8 110.9,359.5 111.5,358.4 112.0,357.5 112.5,356.9 113.0,356.6 113.5,356.7 114.0,357.2 114.5,358.1 115.1,359.2 115.6,360.5 116.1,362.0 116.6,363.4 117.1,364.8 117.7,365.9 118.2,366.8 118.7,367.4 119.2,367.6 120.3,369.4 120.8,369.4" fill="none" stroke="#74dce8" stroke-width="0.9" stroke-linejoin="round"/>
<path d="M120.3,369.4 173.3,369.4" fill="none" stroke="#74dce8" stroke-width="1.25" stroke-linejoin="round"/>
</g>
<path d="M51.6,362.0 52.1,362.0 52.6,361.9 53.1,361.9 53.6,361.8 54.1,361.6 54.7,361.5 55.2,361.3 55.7,361.1 56.2,360.8 56.7,360.6 57.2,360.3 57.7,360.0 58.2,359.7 58.7,359.4 59.2,359.1 59.8,358.8 60.3,358.4 60.8,358.1 61.3,357.8 61.8,357.4 62.3,357.1 62.8,356.8 63.3,356.5 63.8,356.3 64.3,356.0 64.8,355.8 65.4,355.6 65.9,355.4 66.4,355.2 66.9,355.1 67.4,355.0 67.9,354.9 68.4,354.8 68.9,354.8 69.4,354.8 69.9,355.0 70.4,355.2 71.0,355.5 71.5,355.9 72.0,356.4 72.5,356.9 73.0,357.5 73.5,358.1 74.0,358.7 74.5,359.2 75.0,359.8 75.5,360.3 76.1,360.8 76.6,361.2 77.1,361.6 77.6,361.8 78.1,362.0 78.6,362.0 79.1,361.8 79.6,361.3 80.1,360.5 80.7,359.5 81.2,358.2 81.7,356.7 82.2,355.2 82.7,353.7 83.2,352.2 83.7,350.8 84.3,349.7 84.8,348.8 85.3,348.1 85.8,347.8 86.3,347.9 86.8,348.2 87.3,348.9 87.8,349.8 88.4,351.0 88.9,352.4 89.4,353.8 89.9,355.4 90.4,356.9 90.9,358.3 91.4,359.5 92.0,360.6 92.5,361.4 93.0,361.8 93.5,362.0 94.0,361.9 94.5,361.6 95.0,361.2 95.5,360.9 96.0,360.8 96.5,360.8 97.0,361.0 97.5,361.2 98.0,361.4 98.5,361.6 99.0,361.8 99.5,362.0 100.0,362.0 101.0,363.4 173.3,363.4" fill="none" stroke="#cc3b2a" stroke-width="1.0" stroke-linejoin="round"/>
<path d="M51.6,361.6 52.1,361.6 52.6,361.5 53.1,361.4 53.6,361.2 54.1,361.0 54.7,360.7 55.2,360.4 55.7,360.1 56.2,359.7 56.7,359.3 57.2,358.8 57.7,358.4 58.2,357.9 58.7,357.4 59.2,357.0 59.8,356.5 60.3,356.0 60.8,355.5 61.3,355.1 61.8,354.6 62.3,354.2 62.8,353.8 63.3,353.5 63.8,353.2 64.3,352.9 64.8,352.6 65.4,352.5 65.9,352.3 66.4,352.2 66.9,352.2 67.4,352.2 67.9,352.3 68.4,352.5 68.9,352.8 69.4,353.2 69.9,353.6 70.4,354.1 71.0,354.7 71.5,355.2 72.0,355.9 72.5,356.5 73.0,357.1 73.5,357.8 74.0,358.4 74.5,359.0 75.0,359.6 75.5,360.1 76.1,360.5 76.6,360.9 77.1,361.2 77.6,361.4 78.1,361.6 78.6,361.6 79.1,361.4 79.6,361.0 80.1,360.2 80.7,359.1 81.2,357.9 81.7,356.5 82.2,355.0 82.7,353.5 83.2,352.1 83.7,350.7 84.3,349.6 84.8,348.7 85.3,348.1 85.8,347.8 86.3,347.9 86.8,348.2 87.3,348.9 87.8,349.8 88.4,350.9 88.9,352.2 89.4,353.7 89.9,355.1 90.4,356.6 90.9,358.0 91.4,359.2 92.0,360.2 92.5,361.0 93.0,361.4 93.5,361.6 94.0,361.5 94.5,361.1 95.0,360.6 95.5,360.2 96.0,360.1 96.5,360.2 97.0,360.3 97.5,360.6 98.0,360.9 98.5,361.1 99.0,361.4 99.5,361.5 100.0,361.6 173.3,361.6" fill="none" stroke="#3cc43c" stroke-width="1.0" stroke-linejoin="round"/>
<g transform="translate(0,-0.5)">
<path d="M51.6,389.6 95.0,389.6" fill="none" stroke="#9ad58a" stroke-width="1.0" stroke-linejoin="round"/>
<path d="M51.6,391.2 95.0,391.2" fill="none" stroke="#d99a88" stroke-width="0.8" stroke-dasharray="2,1" stroke-linejoin="round"/>
<path d="M95.0,389.6 95.5,389.6 96.0,389.4 96.5,389.2 97.0,389.0 97.5,388.6 98.0,388.2 98.5,387.8 99.0,387.2 99.6,386.7 100.1,386.1 100.6,385.4 101.1,384.8 101.6,384.1 102.1,383.5 102.6,382.8 103.1,382.2 103.6,381.6 104.1,381.0 104.6,380.5 105.1,380.0 105.6,379.6 106.1,379.3 106.6,379.0 107.1,378.8 107.7,378.6 108.2,378.6 108.7,378.6 109.2,378.8 109.7,379.0 110.2,379.3 110.7,379.7 111.2,380.2 111.7,380.7 112.2,381.3 112.7,382.0 113.2,382.6 113.7,383.3 114.2,384.1 114.7,384.8 115.2,385.5 115.7,386.2 116.3,386.8 116.8,387.4 117.3,388.0 117.8,388.5 118.3,388.9 118.8,389.2 119.3,389.4 119.8,389.6 120.3,389.6 120.8,389.4 121.3,388.9 121.8,388.1 122.3,386.9 122.8,385.6 123.3,384.1 123.8,382.5 124.3,380.9 124.8,379.5 125.3,378.1 125.8,377.0 126.3,376.2 126.9,375.7 127.4,375.6 127.9,375.9 128.4,376.6 128.9,377.8 129.4,379.2 129.9,380.9 130.4,382.7 130.9,384.5 131.4,386.2 131.9,387.6 132.4,388.7 132.9,389.4 133.4,389.6 133.9,389.6 134.4,389.4 134.9,389.2 135.4,389.0 135.9,388.7 136.4,388.5 136.9,388.4 137.4,388.3 137.9,388.3 138.4,388.5 138.9,388.6 139.4,388.9 139.9,389.1 140.4,389.4 140.9,389.5 141.4,389.6 141.9,389.6 142.4,389.5 142.9,389.3 143.4,389.1 143.9,388.8 144.4,388.6 144.9,388.4 145.4,388.3 146.0,388.3 146.5,388.4 147.0,388.6 147.5,388.8 148.0,389.1 148.5,389.3 149.0,389.5 149.5,389.6 150.0,389.6 150.5,389.5 151.0,389.4 151.5,389.1 152.0,388.9 152.5,388.6 153.0,388.5 153.5,388.3 154.0,388.3 154.5,388.4 155.0,388.5 155.5,388.7 156.0,389.0 156.5,389.2 157.0,389.4 157.5,389.6 158.0,389.6 173.3,389.6" fill="none" stroke="#7fcf7a" stroke-width="0.9" stroke-linejoin="round"/>
<path d="M95.0,391.2 95.5,391.2 96.0,391.1 96.5,391.0 97.0,390.8 97.5,390.5 98.0,390.3 98.5,389.9 99.0,389.6 99.6,389.2 100.1,388.8 100.6,388.3 101.1,387.9 101.6,387.4 102.1,386.9 102.6,386.4 103.1,386.0 103.6,385.5 104.1,385.1 104.6,384.6 105.1,384.2 105.6,383.9 106.1,383.6 106.6,383.3 107.1,383.0 107.7,382.9 108.2,382.7 108.7,382.6 109.2,382.6 109.7,382.6 110.2,382.8 110.7,383.0 111.2,383.3 111.7,383.6 112.2,384.1 112.7,384.6 113.2,385.1 113.7,385.7 114.2,386.3 114.7,386.9 115.2,387.5 115.7,388.1 116.3,388.7 116.8,389.2 117.3,389.7 117.8,390.1 118.3,390.5 118.8,390.8 119.3,391.0 119.8,391.2 120.3,391.2 120.8,391.0 121.3,390.5 121.8,389.7 122.3,388.6 122.8,387.3 123.3,385.8 123.8,384.3 124.3,382.8 124.8,381.4 125.3,380.1 125.8,379.0 126.3,378.2 126.9,377.7 127.4,377.6 127.9,377.9 128.4,378.6 128.9,379.7 129.4,381.1 129.9,382.7 130.4,384.5 130.9,386.2 131.4,387.9 131.9,389.2 132.4,390.3 132.9,391.0 133.4,391.2 133.9,391.2 134.4,391.1 134.9,390.9 135.4,390.7 135.9,390.5 136.4,390.4 136.9,390.2 137.4,390.2 137.9,390.2 138.4,390.3 138.9,390.5 139.4,390.7 139.9,390.8 140.4,391.0 140.9,391.1 141.4,391.2 141.9,391.2 142.4,391.1 142.9,391.0 143.4,390.8 143.9,390.6 144.4,390.4 144.9,390.3 145.4,390.2 146.0,390.2 146.5,390.3 147.0,390.4 147.5,390.6 148.0,390.8 148.5,391.0 149.0,391.1 149.5,391.2 150.0,391.2 150.5,391.1 151.0,391.0 151.5,390.8 152.0,390.7 152.5,390.5 153.0,390.3 153.5,390.2 154.0,390.2 154.5,390.2 155.0,390.4 155.5,390.5 156.0,390.7 156.5,390.9 157.0,391.1 157.5,391.2 158.0,391.2 173.3,391.2" fill="none" stroke="#c2704f" stroke-width="0.9" stroke-linejoin="round"/>
<path d="M51.6,397.4 120.0,397.4" fill="none" stroke="#8fe3ea" stroke-width="0.9" stroke-dasharray="3,0.8" stroke-linejoin="round"/>
<path d="M119.5,397.4 119.9,397.4 120.3,397.4 120.8,397.4 121.2,397.3 121.6,397.3 122.0,397.2 122.4,397.2 122.8,397.2 123.2,397.1 123.7,397.0 124.1,397.0 124.5,396.9 124.9,396.9 125.3,396.9 125.8,396.8 126.2,396.8 126.6,396.8 127.0,396.8 127.4,396.8 127.8,396.7 128.2,396.6 128.6,396.5 129.0,396.3 129.4,396.1 129.8,395.9 130.2,395.7 130.6,395.5 131.0,395.3 131.4,395.1 131.8,394.9 132.2,394.8 132.6,394.7 133.0,394.6 133.4,394.6 133.8,394.5 134.2,394.0 134.7,393.3 135.1,392.4 135.5,391.2 135.9,389.9 136.4,388.5 136.8,386.9 137.2,385.4 137.6,383.8 138.1,382.4 138.5,381.1 138.9,379.9 139.3,379.0 139.8,378.3 140.2,377.8 140.6,377.7 141.0,377.8 141.4,378.2 141.8,378.8 142.3,379.7 142.7,380.7 143.1,382.0 143.5,383.4 143.9,384.8 144.3,386.4 144.8,387.9 145.2,389.5 145.6,390.9 146.0,392.3 146.4,393.6 146.8,394.6 147.3,395.5 147.7,396.1 148.1,396.5 148.5,396.6 148.9,396.5 149.3,396.1 149.7,395.5 150.2,394.8 150.6,393.8 151.0,392.8 151.4,391.6 151.8,390.5 152.2,389.3 152.6,388.3 153.0,387.3 153.5,386.6 153.9,386.0 154.3,385.6 154.7,385.5 155.1,385.7 155.5,386.3 155.9,387.2 156.3,388.4 156.7,389.8 157.1,391.3 157.5,392.9 157.9,394.3 158.3,395.5 158.7,396.4 159.1,397.0 159.5,397.2 159.8,397.2 160.0,397.2" fill="none" stroke="#74dce8" stroke-width="0.9" stroke-linejoin="round"/>
<path d="M159.7,397.2 173.3,397.2" fill="none" stroke="#8fe3ea" stroke-width="0.9" stroke-dasharray="3,0.8" stroke-linejoin="round"/>
</g>
<text x="46.30" y="341.60" font-family='"Liberation Serif", serif' font-size="7" font-style="italic" font-weight="bold" fill="#74dce8" text-anchor="middle">f</text>
<text x="47.90" y="361.40" font-family='"Liberation Serif", serif' font-size="7" font-style="italic" font-weight="bold" fill="#3cc43c" text-anchor="middle">i</text>
<text x="47.30" y="368.00" font-family='"Liberation Serif", serif' font-size="6.5" font-style="italic" font-weight="bold" fill="#cc3b2a" text-anchor="middle">u</text>
<text x="47.90" y="391.70" font-family='"Liberation Serif", serif' font-size="7" font-style="italic" font-weight="bold" fill="#3cc43c" text-anchor="middle">i<tspan font-size='4.5' dy='-2.5'>'</tspan></text>
<text x="59.50" y="396.50" font-family='"Liberation Serif", serif' font-size="6.5" font-style="italic" font-weight="bold" fill="#cc3b2a" text-anchor="middle">u<tspan font-size='4.5' dy='-2.5'>'</tspan></text>
<text x="73.20" y="403.30" font-family='"Liberation Serif", serif' font-size="7" font-style="italic" font-weight="bold" fill="#74dce8" text-anchor="middle">f<tspan font-size='4.5' dy='-2.5'>'</tspan></text>
<text x="101.00" y="370.80" font-family='"Liberation Serif", serif' font-size="7" font-style="italic" font-weight="bold" fill="#74dce8" text-anchor="middle">f</text>
<text x="49.4" y="381.3" font-size="6.1" font-weight="bold" textLength="14.6" lengthAdjust="spacingAndGlyphs" fill="#111">55meV</text>
<path d="M66.20,372.80V386.20" stroke="#000" stroke-width="1.1"/><path d="M66.20,369.90L64.20,373.30L68.20,373.30Z M66.20,389.10L64.20,385.70L68.20,385.70Z" fill="#000"/>
</g>
</g>
<g clip-path="url(#cb2)">
<path d="M211.5,308.3 211.9,308.1 212.1,307.8 212.3,307.4 212.5,306.9 212.7,306.3 212.9,305.6 213.1,304.8 213.3,304.3 213.4,303.7 213.5,303.1 213.7,302.6 213.8,302.0 214.0,301.4 214.1,300.7 214.2,300.1 214.4,299.6 214.5,299.0 214.6,298.4 214.8,297.9 215.0,297.1 215.2,296.4 215.4,295.8 215.6,295.3 215.8,294.9 216.0,294.6 216.4,294.4 216.8,294.8 217.0,295.2 217.2,295.8 217.4,296.3 217.5,296.8 217.6,297.4 217.8,298.1 217.9,298.8 218.0,299.5 218.1,300.1 218.2,300.7 218.3,301.3 218.4,301.9 218.5,302.5 218.7,303.1 218.8,303.8 218.9,304.4 219.0,305.0 219.1,305.6 219.2,306.2 219.3,306.8 219.4,307.5 219.5,308.2 219.7,308.9 219.8,309.5 219.9,310.0 220.1,310.5 220.3,311.1 220.5,311.5 220.9,311.9 221.3,311.6 221.5,311.2 221.7,310.6 221.9,309.9 222.1,309.1 222.2,308.6 222.4,307.9 222.5,307.3 222.6,306.6 222.8,305.9 222.9,305.2 223.0,304.5 223.2,303.8 223.3,303.1 223.4,302.5 223.6,301.8 223.7,301.3 223.9,300.5 224.1,299.8 224.3,299.2 224.5,298.8 224.9,298.5 225.3,298.7 225.7,299.4 225.9,299.9 226.1,300.5 226.3,301.1 226.5,301.8 226.7,302.4 226.8,302.9 226.9,303.5 227.1,304.0 227.2,304.6 227.4,305.2 227.5,305.8 227.6,306.4 227.8,306.9 227.9,307.5 228.0,308.0 228.2,308.5 228.4,309.3 228.6,309.9 228.8,310.5 229.0,311.0 229.4,311.7 229.8,311.9 230.2,311.7 230.6,311.2 230.8,310.8 231.1,310.3 231.3,309.8 231.5,309.2 231.7,308.6 231.9,307.9 232.1,307.2 232.3,306.5 232.5,305.8 232.7,305.1 232.9,304.4 233.1,303.8 233.3,303.2 233.6,302.7 233.8,302.2 234.0,301.8 234.4,301.3 234.8,301.1 235.2,301.4 235.4,301.7 235.6,302.1 235.8,302.7 236.0,303.3 236.2,304.0 236.4,304.8 236.7,305.6 236.9,306.3 237.1,307.1 237.3,307.8 237.5,308.4 237.7,309.0 237.9,309.4 238.1,309.7 238.5,310.0 238.9,310.0 239.4,310.2 239.8,310.4 240.2,310.6 240.7,310.9 241.1,311.2 241.5,311.4 241.9,311.6 242.4,311.8 242.8,311.8 243.3,311.8 243.7,311.7 244.2,311.6 244.6,311.4 245.1,311.3 245.5,311.2 246.0,311.2 246.4,311.2 246.9,311.4 247.3,311.6 247.7,311.8 248.1,312.0 248.6,312.2 249.0,312.2" fill="none" stroke="#d0d0d0" stroke-width="0.8" stroke-linejoin="round"/>
<path d="M249.0,312.2 333.2,312.4" fill="none" stroke="#d0d0d0" stroke-width="0.8" stroke-dasharray="3,0.8" stroke-linejoin="round"/>
<text x="205.00" y="311.00" font-family='"Liberation Serif", serif' font-size="7.0" font-style="italic" font-weight="bold" fill="#d0d0d0" text-anchor="middle">h<tspan font-size='5' dy='1.6'>1</tspan><tspan font-size='5.5' dy='-4.5'>''</tspan></text>
<path d="M211.2,339.1 211.6,339.1 212.1,339.1 212.7,339.1 213.3,339.1 213.9,339.1 214.6,339.1 215.3,339.1 216.1,339.1 216.9,339.1 217.8,339.1 218.7,339.1 219.6,339.1 220.5,339.1 221.4,339.1 222.4,339.1 223.4,339.1 224.3,339.1 225.3,339.1 226.3,339.1 227.2,339.1 228.2,339.1 229.1,339.1 230.1,339.1 231.0,339.1 231.9,339.1 232.7,339.1 233.5,339.1 234.3,339.1 235.1,339.1 235.8,339.1 236.4,339.1 237.0,339.1 237.6,339.1 238.1,339.1 238.5,339.1 239.0,339.0 239.5,338.8 239.8,338.5 240.0,338.1 240.3,337.7 240.5,337.2 240.8,336.8 241.0,336.4 241.3,336.0 241.5,335.7 242.1,335.5 242.6,335.7 242.8,336.0 243.1,336.4 243.3,336.8 243.6,337.3 243.8,337.7 244.1,338.1 244.3,338.5 244.6,338.8 245.1,339.0 245.6,338.8 245.9,338.5 246.1,338.1 246.4,337.7 246.6,337.2 246.9,336.8 247.1,336.4 247.4,336.0 247.6,335.7 248.1,335.5 248.7,335.7 248.9,336.0 249.2,336.4 249.4,336.8 249.7,337.3 249.9,337.7 250.2,338.1 250.4,338.5 250.7,338.8 251.2,339.0 251.8,339.0 252.6,339.0 253.4,338.9 254.0,338.8 254.5,338.2 254.7,337.7 254.8,337.1 255.0,336.5 255.1,335.9 255.2,335.2 255.4,334.6 255.5,333.9 255.6,333.2 255.8,332.4 255.9,331.6 256.0,330.9 256.1,330.1 256.2,329.4 256.4,328.6 256.5,327.9 256.6,327.2 256.8,326.6 256.9,325.9 257.0,325.4 257.2,324.7 257.3,324.2 257.5,323.7 258.0,323.1 258.5,323.6 258.7,324.1 258.8,324.6 259.0,325.2 259.1,325.8 259.2,326.4 259.4,327.0 259.5,327.7 259.6,328.3 259.8,329.1 259.9,329.8 260.0,330.5 260.1,331.3 260.2,332.0 260.4,332.8 260.5,333.5 260.6,334.1 260.8,334.8 260.9,335.4 261.0,336.0 261.2,336.7 261.3,337.3 261.5,337.9 261.8,338.4 262.0,338.7 262.5,338.6 262.8,338.1 263.0,337.4 263.2,336.8 263.3,336.2 263.5,335.4 263.6,334.9 263.8,334.3 263.9,333.6 264.0,333.0 264.1,332.4 264.2,331.7 264.4,331.1 264.5,330.5 264.7,329.7 264.8,328.9 265.0,328.2 265.2,327.6 265.3,327.0 265.5,326.6 265.8,326.0 266.0,325.8 266.5,325.9 266.8,326.4 267.0,327.0 267.2,327.5 267.3,328.2 267.5,328.8 267.7,329.6 267.8,330.3 268.0,331.1 268.1,331.8 268.2,332.4 268.4,333.0 268.5,333.6 268.7,334.4 268.8,335.2 269.0,335.9 269.2,336.5 269.3,337.1 269.5,337.6 269.8,338.2 270.0,338.6 270.5,338.8 270.8,338.5 271.0,338.1 271.2,337.4 271.5,336.7 271.7,336.1 271.8,335.4 272.0,334.8 272.2,334.1 272.3,333.4 272.5,332.7 272.7,332.1 272.8,331.4 273.0,330.8 273.2,330.0 273.5,329.3 273.8,328.8 274.0,328.5 274.5,328.4 274.8,328.6 275.0,329.0 275.2,329.6 275.5,330.3 275.7,330.9 275.8,331.5 276.0,332.1 276.2,332.7 276.3,333.4 276.5,334.1 276.7,334.7 276.8,335.3 277.0,335.9 277.2,336.5 277.3,337.0 277.5,337.5 277.8,338.0 278.0,338.5 278.5,338.8 277.8,339.0 276.6,339.2 276.9,339.4 281.0,339.5 281.4,339.5 281.9,339.5 282.4,339.5 282.9,339.5 283.5,339.5 284.1,339.5 284.7,339.5 285.4,339.5 286.0,339.5 286.7,339.5 287.5,339.5 288.2,339.5 289.0,339.5 289.8,339.5 290.6,339.5 291.4,339.5 292.3,339.5 293.1,339.6 294.0,339.6 294.9,339.6 295.8,339.6 296.8,339.6 297.7,339.6 298.6,339.6 299.6,339.6 300.5,339.6 301.5,339.5 302.5,339.5 303.5,339.5 304.4,339.5 305.4,339.5 306.4,339.5 307.4,339.5 308.4,339.5 309.4,339.5 310.3,339.5 311.3,339.5 312.3,339.5 313.3,339.5 314.2,339.5 315.2,339.5 316.1,339.5 317.0,339.5 317.9,339.5 318.8,339.5 319.7,339.5 320.6,339.5 321.5,339.5 322.3,339.5 323.1,339.5 323.9,339.5 324.7,339.5 325.5,339.5 326.2,339.5 326.9,339.5 327.6,339.5 328.3,339.5 328.9,339.5 329.5,339.5 330.1,339.5 330.6,339.5 331.2,339.5 331.6,339.5 332.1,339.5 332.5,339.5" fill="none" stroke="#1a1a1a" stroke-width="0.9" stroke-linejoin="round"/>
<text x="261.60" y="324.60" font-family='"Liberation Serif", serif' font-size="7.0" font-style="italic" font-weight="bold" fill="#1a1a1a" text-anchor="middle">h<tspan font-size='5' dy='1.6'>1</tspan></text>
<path d="M263.70,342.80V356.40" stroke="#000" stroke-width="1.1"/><path d="M263.70,339.90L261.70,343.30L265.70,343.30Z M263.70,359.30L261.70,355.90L265.70,355.90Z" fill="#000"/>
<text x="246.00" y="348.40" font-size="6.0" font-weight="bold" textLength="14.4" lengthAdjust="spacingAndGlyphs" fill="#111">57meV</text>
<path d="M211.5,366.2 292.0,366.2" fill="none" stroke="#8a9a50" stroke-width="0.7" stroke-dasharray="2,1" stroke-linejoin="round"/>
<path d="M292.0,366.0 292.6,366.0 293.4,366.0 294.3,365.9 295.1,365.9 295.7,365.8 296.2,365.5 296.2,365.0 296.4,364.5 296.5,363.8 296.7,362.9 296.8,362.2 297.0,361.5 297.1,360.7 297.2,359.9 297.3,359.2 297.4,358.5 297.5,357.8 297.6,357.2 297.7,356.5 297.9,355.7 298.0,354.9 298.1,354.1 298.2,353.4 298.4,352.5 298.6,351.8 298.7,351.1 299.0,350.5 299.2,350.1 299.8,350.5 299.9,351.0 300.1,351.6 300.3,352.3 300.4,352.9 300.5,353.6 300.6,354.3 300.8,355.0 300.9,355.6 301.0,356.3 301.1,357.0 301.2,357.6 301.3,358.3 301.4,358.9 301.5,359.6 301.6,360.2 301.7,360.9 301.8,361.5 301.9,362.2 302.0,362.8 302.2,363.5 302.3,364.0 302.5,364.9 302.8,365.5 303.3,365.7 303.6,365.3 303.8,364.7 304.0,364.1 304.1,363.4 304.3,362.6 304.4,362.0 304.6,361.3 304.7,360.6 304.8,359.9 304.9,359.2 305.1,358.5 305.2,357.7 305.3,357.1 305.5,356.4 305.6,355.8 305.7,355.2 305.8,354.7 306.0,354.0 306.2,353.5 306.3,353.1 306.9,352.7 307.1,352.9 307.4,353.5 307.5,354.0 307.7,354.6 307.9,355.3 308.0,355.8 308.1,356.4 308.2,357.1 308.4,357.7 308.5,358.4 308.6,359.1 308.8,359.8 308.9,360.5 309.0,361.1 309.1,361.8 309.3,362.4 309.4,363.0 309.6,363.7 309.7,364.3 309.9,364.8 310.1,365.4 310.4,365.7 310.9,365.6 311.2,365.1 311.4,364.4 311.6,363.8 311.7,363.2 311.9,362.5 312.1,361.8 312.3,361.0 312.4,360.2 312.6,359.5 312.8,358.7 312.9,358.0 313.1,357.4 313.3,356.8 313.4,356.3 313.7,355.8 313.9,355.4 314.5,355.4 314.7,355.8 315.0,356.4 315.1,356.8 315.3,357.4 315.5,358.0 315.6,358.7 315.8,359.4 316.0,360.1 316.1,360.9 316.3,361.6 316.5,362.3 316.6,363.0 316.8,363.6 317.0,364.2 317.2,364.9 317.5,365.4 318.0,365.8 318.4,365.8 318.8,365.9 319.4,365.9 320.1,366.0 320.9,366.0 322.0,366.0 322.6,366.0 323.3,366.0 324.0,366.0 324.8,366.0 325.7,366.0 326.6,366.0 327.5,366.0 328.4,366.0 329.3,366.0 330.1,366.0 330.8,366.0 331.5,366.0 332.1,366.0 332.5,366.0" fill="none" stroke="#5aa25a" stroke-width="0.8" stroke-linejoin="round"/>
<text x="336.50" y="369.00" font-family='"Liberation Serif", serif' font-size="7.0" font-style="italic" font-weight="bold" fill="#5aa25a" text-anchor="middle">h<tspan font-size='5' dy='1.6'>1</tspan><tspan font-size='5.5' dy='-4.5'>'</tspan></text>
</g>
<clipPath id="cb3"><rect x="356.2" y="236.4" width="147.30" height="172.00"/></clipPath>
<rect x="397.60" y="259.10" width="41.40" height="144.60" fill="#ededed" stroke="#dcdcdc" stroke-width="0.6"/>
<g clip-path="url(#cb3)">
<g transform="matrix(1,0.027,0,1,318.80,-3.270)">
<path d="M51.4,245.3 54.6,247.0 54.6,361.9 77.2,376.2 77.2,263.0 80.7,264.8 80.7,378.7 92.4,386.7 92.4,273.2 95.3,274.7 95.3,389.6 118.4,403.4 118.4,290.4 121.6,292.4 121.6,405.4 133.6,412.6 133.6,300.9 136.5,302.5 136.5,415.0 158.4,430.0 158.4,318.3 162.4,320.0 162.4,440.0" fill="none" stroke="#363636" stroke-width="0.9" stroke-linejoin="miter"/>
</g>
<g transform="translate(318.80,-1.90)">
<path d="M51.0,341.0 53.0,341.0 53.5,340.8 54.0,340.2 54.5,339.3 55.1,338.0 55.6,336.6 56.1,335.0 56.6,333.3 57.1,331.7 57.6,330.1 58.1,328.9 58.7,327.9 59.2,327.2 59.7,326.9 60.2,327.0 60.7,327.5 61.2,328.3 61.8,329.4 62.3,330.7 62.8,332.2 63.3,333.8 63.8,335.4 64.3,336.9 64.8,338.3 65.4,339.4 65.9,340.3 66.4,340.8 66.9,341.0 67.4,340.8 67.9,340.3 68.4,339.4 68.9,338.3 69.4,337.0 70.0,335.5 70.5,334.0 71.0,332.5 71.5,331.2 72.0,330.1 72.5,329.2 73.0,328.7 73.5,328.5 74.0,328.8 74.5,329.7 75.0,331.1 75.5,332.8 76.1,334.8 76.6,336.7 77.1,338.4 77.6,339.8 78.1,340.7 78.6,341.0 79.2,341.0" fill="none" stroke="#74dce8" stroke-width="0.9" stroke-linejoin="round"/>
<path d="M78.8,341.2 173.3,341.4" fill="none" stroke="#8fe3ea" stroke-width="0.9" stroke-dasharray="3,0.8" stroke-linejoin="round"/>
<g transform="translate(0,-1.1)">
<path d="M50.8,369.9 80.0,369.9 85.0,369.2 90.0,367.6 94.0,365.5 95.3,367.6 95.8,367.1 96.3,365.6 96.8,363.2 97.3,360.4 97.8,357.3 98.3,354.5 98.8,352.1 99.3,350.6 99.8,350.1 100.3,350.3 100.8,351.0 101.3,352.0 101.8,353.4 102.3,355.1 102.8,356.9 103.3,358.9 103.8,360.8 104.3,362.6 104.8,364.3 105.3,365.7 105.8,366.7 106.3,367.4 106.8,367.6 107.3,367.4 107.8,366.9 108.3,366.0 108.9,364.9 109.4,363.6 109.9,362.2 110.4,360.8 110.9,359.5 111.5,358.4 112.0,357.5 112.5,356.9 113.0,356.6 113.5,356.7 114.0,357.2 114.5,358.1 115.1,359.2 115.6,360.5 116.1,362.0 116.6,363.4 117.1,364.8 117.7,365.9 118.2,366.8 118.7,367.4 119.2,367.6 120.3,369.4 120.8,369.4" fill="none" stroke="#74dce8" stroke-width="0.9" stroke-linejoin="round"/>
<path d="M120.3,369.4 173.3,369.4" fill="none" stroke="#74dce8" stroke-width="1.25" stroke-linejoin="round"/>
</g>
<path d="M51.6,362.0 52.1,362.0 52.6,361.9 53.1,361.9 53.6,361.8 54.1,361.6 54.7,361.5 55.2,361.3 55.7,361.1 56.2,360.8 56.7,360.6 57.2,360.3 57.7,360.0 58.2,359.7 58.7,359.4 59.2,359.1 59.8,358.8 60.3,358.4 60.8,358.1 61.3,357.8 61.8,357.4 62.3,357.1 62.8,356.8 63.3,356.5 63.8,356.3 64.3,356.0 64.8,355.8 65.4,355.6 65.9,355.4 66.4,355.2 66.9,355.1 67.4,355.0 67.9,354.9 68.4,354.8 68.9,354.8 69.4,354.8 69.9,355.0 70.4,355.2 71.0,355.5 71.5,355.9 72.0,356.4 72.5,356.9 73.0,357.5 73.5,358.1 74.0,358.7 74.5,359.2 75.0,359.8 75.5,360.3 76.1,360.8 76.6,361.2 77.1,361.6 77.6,361.8 78.1,362.0 78.6,362.0 79.1,361.8 79.6,361.3 80.1,360.5 80.7,359.5 81.2,358.2 81.7,356.7 82.2,355.2 82.7,353.7 83.2,352.2 83.7,350.8 84.3,349.7 84.8,348.8 85.3,348.1 85.8,347.8 86.3,347.9 86.8,348.2 87.3,348.9 87.8,349.8 88.4,351.0 88.9,352.4 89.4,353.8 89.9,355.4 90.4,356.9 90.9,358.3 91.4,359.5 92.0,360.6 92.5,361.4 93.0,361.8 93.5,362.0 94.0,361.9 94.5,361.6 95.0,361.2 95.5,360.9 96.0,360.8 96.5,360.8 97.0,361.0 97.5,361.2 98.0,361.4 98.5,361.6 99.0,361.8 99.5,362.0 100.0,362.0 101.0,363.4 173.3,363.4" fill="none" stroke="#cc3b2a" stroke-width="1.0" stroke-linejoin="round"/>
<path d="M51.6,361.6 52.1,361.6 52.6,361.5 53.1,361.4 53.6,361.2 54.1,361.0 54.7,360.7 55.2,360.4 55.7,360.1 56.2,359.7 56.7,359.3 57.2,358.8 57.7,358.4 58.2,357.9 58.7,357.4 59.2,357.0 59.8,356.5 60.3,356.0 60.8,355.5 61.3,355.1 61.8,354.6 62.3,354.2 62.8,353.8 63.3,353.5 63.8,353.2 64.3,352.9 64.8,352.6 65.4,352.5 65.9,352.3 66.4,352.2 66.9,352.2 67.4,352.2 67.9,352.3 68.4,352.5 68.9,352.8 69.4,353.2 69.9,353.6 70.4,354.1 71.0,354.7 71.5,355.2 72.0,355.9 72.5,356.5 73.0,357.1 73.5,357.8 74.0,358.4 74.5,359.0 75.0,359.6 75.5,360.1 76.1,360.5 76.6,360.9 77.1,361.2 77.6,361.4 78.1,361.6 78.6,361.6 79.1,361.4 79.6,361.0 80.1,360.2 80.7,359.1 81.2,357.9 81.7,356.5 82.2,355.0 82.7,353.5 83.2,352.1 83.7,350.7 84.3,349.6 84.8,348.7 85.3,348.1 85.8,347.8 86.3,347.9 86.8,348.2 87.3,348.9 87.8,349.8 88.4,350.9 88.9,352.2 89.4,353.7 89.9,355.1 90.4,356.6 90.9,358.0 91.4,359.2 92.0,360.2 92.5,361.0 93.0,361.4 93.5,361.6 94.0,361.5 94.5,361.1 95.0,360.6 95.5,360.2 96.0,360.1 96.5,360.2 97.0,360.3 97.5,360.6 98.0,360.9 98.5,361.1 99.0,361.4 99.5,361.5 100.0,361.6 173.3,361.6" fill="none" stroke="#3cc43c" stroke-width="1.0" stroke-linejoin="round"/>
<g transform="translate(0,1.0)">
<path d="M51.6,389.6 95.0,389.6" fill="none" stroke="#9ad58a" stroke-width="1.0" stroke-linejoin="round"/>
<path d="M51.6,391.2 95.0,391.2" fill="none" stroke="#d99a88" stroke-width="0.8" stroke-dasharray="2,1" stroke-linejoin="round"/>
<path d="M95.0,389.6 95.5,389.6 96.0,389.4 96.5,389.2 97.0,389.0 97.5,388.6 98.0,388.2 98.5,387.8 99.0,387.2 99.6,386.7 100.1,386.1 100.6,385.4 101.1,384.8 101.6,384.1 102.1,383.5 102.6,382.8 103.1,382.2 103.6,381.6 104.1,381.0 104.6,380.5 105.1,380.0 105.6,379.6 106.1,379.3 106.6,379.0 107.1,378.8 107.7,378.6 108.2,378.6 108.7,378.6 109.2,378.8 109.7,379.0 110.2,379.3 110.7,379.7 111.2,380.2 111.7,380.7 112.2,381.3 112.7,382.0 113.2,382.6 113.7,383.3 114.2,384.1 114.7,384.8 115.2,385.5 115.7,386.2 116.3,386.8 116.8,387.4 117.3,388.0 117.8,388.5 118.3,388.9 118.8,389.2 119.3,389.4 119.8,389.6 120.3,389.6 120.8,389.4 121.3,388.9 121.8,388.1 122.3,386.9 122.8,385.6 123.3,384.1 123.8,382.5 124.3,380.9 124.8,379.5 125.3,378.1 125.8,377.0 126.3,376.2 126.9,375.7 127.4,375.6 127.9,375.9 128.4,376.6 128.9,377.8 129.4,379.2 129.9,380.9 130.4,382.7 130.9,384.5 131.4,386.2 131.9,387.6 132.4,388.7 132.9,389.4 133.4,389.6 133.9,389.6 134.4,389.4 134.9,389.2 135.4,389.0 135.9,388.7 136.4,388.5 136.9,388.4 137.4,388.3 137.9,388.3 138.4,388.5 138.9,388.6 139.4,388.9 139.9,389.1 140.4,389.4 140.9,389.5 141.4,389.6 141.9,389.6 142.4,389.5 142.9,389.3 143.4,389.1 143.9,388.8 144.4,388.6 144.9,388.4 145.4,388.3 146.0,388.3 146.5,388.4 147.0,388.6 147.5,388.8 148.0,389.1 148.5,389.3 149.0,389.5 149.5,389.6 150.0,389.6 150.5,389.5 151.0,389.4 151.5,389.1 152.0,388.9 152.5,388.6 153.0,388.5 153.5,388.3 154.0,388.3 154.5,388.4 155.0,388.5 155.5,388.7 156.0,389.0 156.5,389.2 157.0,389.4 157.5,389.6 158.0,389.6 173.3,389.6" fill="none" stroke="#7fcf7a" stroke-width="0.9" stroke-linejoin="round"/>
<path d="M95.0,391.2 95.5,391.2 96.0,391.1 96.5,391.0 97.0,390.8 97.5,390.5 98.0,390.3 98.5,389.9 99.0,389.6 99.6,389.2 100.1,388.8 100.6,388.3 101.1,387.9 101.6,387.4 102.1,386.9 102.6,386.4 103.1,386.0 103.6,385.5 104.1,385.1 104.6,384.6 105.1,384.2 105.6,383.9 106.1,383.6 106.6,383.3 107.1,383.0 107.7,382.9 108.2,382.7 108.7,382.6 109.2,382.6 109.7,382.6 110.2,382.8 110.7,383.0 111.2,383.3 111.7,383.6 112.2,384.1 112.7,384.6 113.2,385.1 113.7,385.7 114.2,386.3 114.7,386.9 115.2,387.5 115.7,388.1 116.3,388.7 116.8,389.2 117.3,389.7 117.8,390.1 118.3,390.5 118.8,390.8 119.3,391.0 119.8,391.2 120.3,391.2 120.8,391.0 121.3,390.5 121.8,389.7 122.3,388.6 122.8,387.3 123.3,385.8 123.8,384.3 124.3,382.8 124.8,381.4 125.3,380.1 125.8,379.0 126.3,378.2 126.9,377.7 127.4,377.6 127.9,377.9 128.4,378.6 128.9,379.7 129.4,381.1 129.9,382.7 130.4,384.5 130.9,386.2 131.4,387.9 131.9,389.2 132.4,390.3 132.9,391.0 133.4,391.2 133.9,391.2 134.4,391.1 134.9,390.9 135.4,390.7 135.9,390.5 136.4,390.4 136.9,390.2 137.4,390.2 137.9,390.2 138.4,390.3 138.9,390.5 139.4,390.7 139.9,390.8 140.4,391.0 140.9,391.1 141.4,391.2 141.9,391.2 142.4,391.1 142.9,391.0 143.4,390.8 143.9,390.6 144.4,390.4 144.9,390.3 145.4,390.2 146.0,390.2 146.5,390.3 147.0,390.4 147.5,390.6 148.0,390.8 148.5,391.0 149.0,391.1 149.5,391.2 150.0,391.2 150.5,391.1 151.0,391.0 151.5,390.8 152.0,390.7 152.5,390.5 153.0,390.3 153.5,390.2 154.0,390.2 154.5,390.2 155.0,390.4 155.5,390.5 156.0,390.7 156.5,390.9 157.0,391.1 157.5,391.2 158.0,391.2 173.3,391.2" fill="none" stroke="#c2704f" stroke-width="0.9" stroke-linejoin="round"/>
<path d="M51.6,397.4 120.0,397.4" fill="none" stroke="#8fe3ea" stroke-width="0.9" stroke-dasharray="3,0.8" stroke-linejoin="round"/>
<path d="M119.5,397.4 119.9,397.4 120.3,397.4 120.8,397.4 121.2,397.3 121.6,397.3 122.0,397.2 122.4,397.2 122.8,397.2 123.2,397.1 123.7,397.0 124.1,397.0 124.5,396.9 124.9,396.9 125.3,396.9 125.8,396.8 126.2,396.8 126.6,396.8 127.0,396.8 127.4,396.8 127.8,396.7 128.2,396.6 128.6,396.5 129.0,396.3 129.4,396.1 129.8,395.9 130.2,395.7 130.6,395.5 131.0,395.3 131.4,395.1 131.8,394.9 132.2,394.8 132.6,394.7 133.0,394.6 133.4,394.6 133.8,394.5 134.2,394.0 134.7,393.3 135.1,392.4 135.5,391.2 135.9,389.9 136.4,388.5 136.8,386.9 137.2,385.4 137.6,383.8 138.1,382.4 138.5,381.1 138.9,379.9 139.3,379.0 139.8,378.3 140.2,377.8 140.6,377.7 141.0,377.8 141.4,378.2 141.8,378.8 142.3,379.7 142.7,380.7 143.1,382.0 143.5,383.4 143.9,384.8 144.3,386.4 144.8,387.9 145.2,389.5 145.6,390.9 146.0,392.3 146.4,393.6 146.8,394.6 147.3,395.5 147.7,396.1 148.1,396.5 148.5,396.6 148.9,396.5 149.3,396.1 149.7,395.5 150.2,394.8 150.6,393.8 151.0,392.8 151.4,391.6 151.8,390.5 152.2,389.3 152.6,388.3 153.0,387.3 153.5,386.6 153.9,386.0 154.3,385.6 154.7,385.5 155.1,385.7 155.5,386.3 155.9,387.2 156.3,388.4 156.7,389.8 157.1,391.3 157.5,392.9 157.9,394.3 158.3,395.5 158.7,396.4 159.1,397.0 159.5,397.2 159.8,397.2 160.0,397.2" fill="none" stroke="#74dce8" stroke-width="0.9" stroke-linejoin="round"/>
<path d="M159.7,397.2 173.3,397.2" fill="none" stroke="#8fe3ea" stroke-width="0.9" stroke-dasharray="3,0.8" stroke-linejoin="round"/>
</g>
<text x="46.30" y="341.60" font-family='"Liberation Serif", serif' font-size="7" font-style="italic" font-weight="bold" fill="#74dce8" text-anchor="middle">f</text>
<text x="47.90" y="361.40" font-family='"Liberation Serif", serif' font-size="7" font-style="italic" font-weight="bold" fill="#3cc43c" text-anchor="middle">i</text>
<text x="47.30" y="368.00" font-family='"Liberation Serif", serif' font-size="6.5" font-style="italic" font-weight="bold" fill="#cc3b2a" text-anchor="middle">u</text>
<text x="47.90" y="393.20" font-family='"Liberation Serif", serif' font-size="7" font-style="italic" font-weight="bold" fill="#3cc43c" text-anchor="middle">i<tspan font-size='4.5' dy='-2.5'>'</tspan></text>
<text x="59.50" y="398.00" font-family='"Liberation Serif", serif' font-size="6.5" font-style="italic" font-weight="bold" fill="#cc3b2a" text-anchor="middle">u<tspan font-size='4.5' dy='-2.5'>'</tspan></text>
<text x="73.20" y="404.80" font-family='"Liberation Serif", serif' font-size="7" font-style="italic" font-weight="bold" fill="#74dce8" text-anchor="middle">f<tspan font-size='4.5' dy='-2.5'>'</tspan></text>
<text x="101.00" y="370.80" font-family='"Liberation Serif", serif' font-size="7" font-style="italic" font-weight="bold" fill="#74dce8" text-anchor="middle">f</text>
<text x="49.4" y="381.3" font-size="6.1" font-weight="bold" textLength="14.6" lengthAdjust="spacingAndGlyphs" fill="#111">55meV</text>
<path d="M66.20,371.70V387.70" stroke="#000" stroke-width="1.1"/><path d="M66.20,368.80L64.20,372.20L68.20,372.20Z M66.20,390.60L64.20,387.20L68.20,387.20Z" fill="#000"/>
</g>
</g>
<g clip-path="url(#cb3)">
<path d="M374.0,300.5 374.4,300.2 374.7,299.9 374.9,299.5 375.1,298.9 375.3,298.3 375.5,297.7 375.8,297.0 376.0,296.3 376.2,295.7 376.4,295.1 376.6,294.5 376.8,294.1 377.1,293.8 377.5,293.5 377.9,293.7 378.3,294.4 378.5,294.8 378.7,295.4 378.9,296.0 379.1,296.6 379.3,297.3 379.5,298.0 379.7,298.7 379.9,299.4 380.1,300.0 380.3,300.6 380.5,301.2 380.7,301.6 381.1,302.3 381.5,302.5 381.9,302.3 382.3,301.7 382.5,301.3 382.7,300.9 382.9,300.3 383.1,299.7 383.3,299.1 383.5,298.5 383.7,297.9 383.9,297.3 384.1,296.7 384.3,296.1 384.5,295.7 384.7,295.3 385.1,294.7 385.5,294.5 385.9,294.7 386.3,295.3 386.5,295.7 386.7,296.2 386.9,296.8 387.1,297.4 387.3,298.0 387.5,298.6 387.7,299.3 387.9,299.9 388.1,300.5 388.3,301.1 388.5,301.6 388.7,302.0 389.1,302.6 389.5,302.8 389.9,302.6 390.3,302.2 390.5,301.9 390.7,301.5 390.9,301.1 391.1,300.6 391.3,300.1 391.5,299.6 391.7,299.2 391.9,298.7 392.1,298.2 392.3,297.8 392.5,297.4 392.7,297.1 393.1,296.7 393.5,296.5 393.9,296.7 394.2,297.0 394.4,297.5 394.6,297.9 394.8,298.5 395.0,299.1 395.2,299.7 395.5,300.4 395.7,301.0 395.9,301.6 396.1,302.0 396.3,302.5 396.6,302.8 397.0,303.0" fill="none" stroke="#d0d0d0" stroke-width="0.8" stroke-linejoin="round"/>
<path d="M396.4,302.8 492.0,303.1" fill="none" stroke="#d0d0d0" stroke-width="0.8" stroke-dasharray="3,0.8" stroke-linejoin="round"/>
<text x="365.40" y="304.50" font-family='"Liberation Serif", serif' font-size="7.0" font-style="italic" font-weight="bold" fill="#d0d0d0" text-anchor="middle">h<tspan font-size='5' dy='1.6'>1</tspan><tspan font-size='5.5' dy='-4.5'>''</tspan></text>
<path d="M371.1,311.1 371.5,311.0 371.9,310.6 372.3,310.0 372.5,309.7 372.7,309.3 372.9,308.9 373.1,308.5 373.3,308.2 373.5,307.8 373.7,307.4 373.9,307.1 374.3,306.5 374.7,306.1 375.1,306.0 375.5,306.1 375.9,306.3 376.3,306.6 376.7,307.1 377.1,307.6 377.5,308.3 377.9,309.0 378.1,309.3 378.4,309.6 378.8,310.3 379.2,310.9 379.6,311.5 380.0,312.0 380.4,312.3 380.8,312.5 381.2,312.6 381.6,312.5 382.0,312.1 382.4,311.6 382.6,311.2 382.8,310.8 383.0,310.4 383.2,310.0 383.4,309.6 383.7,309.2 383.9,308.8 384.1,308.4 384.3,308.0 384.5,307.6 384.9,307.1 385.3,306.7 385.7,306.6 386.1,306.7 386.5,307.0 386.9,307.5 387.4,308.1 387.6,308.5 387.8,308.8 388.0,309.2 388.2,309.6 388.4,310.0 388.6,310.4 388.8,310.7 389.0,311.1 389.4,311.7 389.9,312.2 390.3,312.5 390.7,312.6 391.1,312.4 391.5,312.0 391.7,311.7 392.0,311.3 392.2,310.9 392.4,310.4 392.6,309.9 392.8,309.3 393.0,308.8 393.2,308.3 393.4,307.7 393.6,307.2 393.8,306.7 394.0,306.3 394.3,305.9 394.5,305.6 394.9,305.2 395.3,305.0 395.8,305.1 396.2,305.4 396.7,305.8 397.1,306.2 397.6,306.6 398.0,306.9 398.5,307.0 398.5,307.0 398.9,306.8 399.3,306.3 399.6,305.9 399.8,305.5 400.0,305.0 400.2,304.5 400.4,304.0 400.6,303.5 400.8,303.0 401.0,302.5 401.2,302.1 401.5,301.7 401.9,301.2 402.3,301.0 402.7,301.4 402.9,301.9 403.1,302.6 403.3,303.1 403.4,303.8 403.5,304.4 403.7,305.1 403.8,305.8 404.0,306.5 404.1,307.2 404.2,307.9 404.4,308.6 404.5,309.2 404.6,309.9 404.8,310.4 405.0,311.1 405.2,311.6 405.6,312.0 406.0,311.7 406.2,311.3 406.4,310.8 406.7,310.1 406.9,309.4 407.0,308.8 407.1,308.3 407.3,307.7 407.4,307.1 407.6,306.4 407.7,305.8 407.9,305.2 408.0,304.7 408.1,304.1 408.3,303.4 408.6,302.7 408.8,302.2 409.0,301.8 409.4,301.5 409.8,301.9 410.0,302.3 410.2,303.0 410.3,303.5 410.5,304.0 410.6,304.6 410.7,305.2 410.9,305.9 411.0,306.5 411.1,307.1 411.3,307.8 411.4,308.4 411.5,309.0 411.7,309.5 411.8,310.0 412.0,310.7 412.2,311.1 412.6,311.5 413.2,311.6 413.9,311.7 414.5,311.8 415.0,311.7 415.5,311.4 416.0,311.1 416.5,310.8 417.0,310.6 417.5,310.6 418.0,310.9 418.5,311.2 419.0,311.5 419.5,311.7 420.1,311.8 420.6,311.6 421.1,311.4 421.6,311.0 422.1,310.7 422.6,310.6 423.1,310.7 423.6,310.9 424.1,311.3 424.6,311.6 425.1,311.8 425.6,311.8 426.1,311.6 426.6,311.3 427.1,310.9 427.6,310.7 428.1,310.6 428.6,310.7 429.1,311.0 429.6,311.4 430.1,311.6 430.6,311.8 431.2,311.7 431.7,311.5 432.2,311.2 432.7,310.9 433.2,310.6 433.7,310.6 434.2,310.8 434.7,311.1 435.2,311.4 435.7,311.7 436.2,311.8 434.8,311.9 433.5,311.9 438.0,312.0 438.4,312.0 438.9,312.0 439.4,312.0 439.9,312.0 440.5,312.0 441.0,312.0 441.7,312.0 442.3,312.0 443.0,312.0 443.6,312.0 444.4,312.0 445.1,312.0 445.9,312.0 446.6,312.0 447.4,312.0 448.3,312.0 449.1,312.0 449.9,312.0 450.8,312.0 451.7,312.0 452.6,312.0 453.5,312.0 454.4,312.0 455.4,312.0 456.3,312.0 457.3,312.0 458.2,312.0 459.2,312.0 460.2,312.0 461.2,312.0 462.1,312.0 463.1,312.0 464.1,312.0 465.1,312.0 466.1,312.0 467.1,312.0 468.1,312.0 469.1,312.0 470.0,312.0 471.0,312.0 472.0,312.0 472.9,312.0 473.9,312.0 474.8,312.0 475.8,312.0 476.7,312.0 477.6,312.0 478.5,312.0 479.4,312.0 480.2,312.0 481.1,312.0 481.9,312.0 482.7,312.0 483.5,312.0 484.3,312.0 485.0,312.0 485.8,312.0 486.5,312.0 487.1,312.0 487.8,312.0 488.4,312.0 489.0,312.0 489.6,312.0 490.1,312.0 490.7,312.0 491.1,312.0 491.6,312.0 492.0,312.0" fill="none" stroke="#1a1a1a" stroke-width="0.9" stroke-linejoin="round"/>
<text x="403.20" y="316.80" font-family='"Liberation Serif", serif' font-size="7.0" font-style="italic" font-weight="bold" fill="#1a1a1a" text-anchor="middle">h<tspan font-size='5' dy='1.6'>2</tspan></text>
<path d="M370.8,339.6 371.2,339.6 371.7,339.7 372.1,339.9 372.5,340.1 373.0,340.3 373.4,340.5 373.8,340.7 374.2,340.9 374.7,341.0 375.1,341.0 375.5,340.9 375.9,340.8 376.4,340.5 376.8,340.2 377.2,339.7 377.7,339.3 378.1,338.9 378.5,338.5 378.9,338.1 379.4,337.8 379.8,337.7 380.2,337.6 380.6,337.6 381.0,337.7 381.4,337.9 381.8,338.2 382.2,338.5 382.6,338.8 383.0,339.1 383.4,339.5 383.8,339.8 384.2,340.1 384.6,340.4 385.0,340.7 385.4,340.9 385.8,341.0 386.2,341.0 386.6,341.0 387.0,340.9 387.5,340.8 387.9,340.6 388.3,340.4 388.7,340.2 389.1,339.9 389.5,339.6 390.0,339.4 390.4,339.1 390.8,338.8 391.2,338.6 391.6,338.4 392.0,338.2 392.5,338.1 392.9,338.0 393.3,338.0 393.7,338.1 394.1,338.2 394.5,338.5 394.9,338.8 395.4,339.2 395.8,339.5 396.2,339.8 396.6,339.9 397.0,340.0 397.4,340.0 397.8,339.9 398.2,339.8 398.6,339.7 399.0,339.5 399.4,339.3 399.8,339.2 400.2,339.1 400.6,339.0 401.0,339.0 401.4,339.0 401.8,339.1 402.2,339.2 402.6,339.4 403.0,339.6 403.4,339.8 403.8,340.0 404.2,340.1 404.6,340.2 405.0,340.2 405.4,340.2 405.8,340.1 406.2,340.0 406.6,339.9 407.0,339.7 407.4,339.5 407.8,339.4 408.2,339.3 408.6,339.2 409.0,339.2 409.4,339.2 409.9,339.4 410.3,339.5 410.7,339.7 411.1,339.8 411.6,340.0 412.0,340.0 412.5,340.0 413.2,339.9 414.0,339.9 414.5,339.8 415.0,339.4 415.3,338.9 415.5,338.3 415.8,337.6 416.0,336.8 416.3,336.2 416.5,335.6 416.8,335.1 417.0,334.9 417.5,335.0 417.8,335.3 418.0,335.8 418.3,336.5 418.5,337.2 418.8,337.9 419.0,338.6 419.3,339.2 419.5,339.6 420.1,339.8 420.6,339.2 420.8,338.6 421.1,337.9 421.3,337.2 421.6,336.5 421.8,335.8 422.1,335.3 422.6,334.8 423.1,335.1 423.3,335.6 423.6,336.2 423.8,336.8 424.1,337.6 424.3,338.3 424.6,338.9 424.8,339.4 425.1,339.7 425.6,339.7 425.9,339.4 426.1,338.9 426.4,338.3 426.6,337.6 426.9,336.8 427.1,336.2 427.4,335.6 427.6,335.1 428.1,334.8 428.6,335.3 428.9,335.8 429.1,336.5 429.4,337.2 429.6,337.9 429.9,338.6 430.1,339.2 430.6,339.8 431.2,339.6 431.4,339.2 431.7,338.6 431.9,337.9 432.2,337.2 432.4,336.5 432.7,335.8 432.9,335.3 433.2,335.0 433.7,334.9 433.9,335.1 434.2,335.6 434.4,336.2 434.7,336.8 434.9,337.6 435.2,338.3 435.4,338.9 435.7,339.4 436.2,339.8 436.8,339.8 437.6,339.9 438.5,339.9 439.5,339.9 440.3,339.9 440.9,339.8 441.4,339.5 441.4,338.9 441.5,338.4 441.7,337.8 441.8,337.2 441.9,336.5 442.1,335.8 442.2,335.1 442.3,334.3 442.4,333.6 442.6,332.9 442.7,332.3 442.8,331.7 443.0,331.2 443.2,330.5 443.5,330.3 443.7,330.5 444.0,331.2 444.1,331.7 444.2,332.3 444.4,332.9 444.5,333.6 444.6,334.3 444.8,335.1 444.9,335.8 445.0,336.5 445.1,337.2 445.3,337.8 445.4,338.4 445.5,338.9 445.8,339.6 446.1,339.8 446.3,339.6 446.6,338.9 446.7,338.4 446.8,337.8 447.0,337.2 447.1,336.5 447.2,335.8 447.3,335.1 447.5,334.3 447.6,333.6 447.7,332.9 447.9,332.3 448.0,331.7 448.1,331.2 448.4,330.5 448.6,330.3 448.9,330.5 449.1,331.2 449.3,331.7 449.4,332.3 449.5,332.9 449.7,333.6 449.8,334.3 449.9,335.0 450.0,335.8 450.2,336.5 450.3,337.2 450.4,337.8 450.6,338.4 450.7,338.9 450.7,339.5 451.2,339.8 451.7,339.9 452.4,340.0 453.3,340.1 454.1,340.2 454.8,340.3 455.3,340.3 455.8,340.2 456.3,339.9 456.8,339.6 457.3,339.3 457.8,339.1 458.4,339.1 458.9,339.4 459.4,339.7 459.9,340.0 460.4,340.2 460.9,340.3 461.4,340.1 461.9,339.9 462.4,339.5 462.9,339.2 463.4,339.1 464.0,339.2 464.5,339.4 465.0,339.8 465.5,340.1 466.0,340.3 466.5,340.3 467.0,340.1 467.5,339.8 468.0,339.4 468.5,339.2 469.1,339.1 469.6,339.2 470.1,339.5 470.6,339.9 471.1,340.1 471.6,340.3 472.1,340.2 472.6,340.0 473.1,339.7 473.6,339.4 474.1,339.1 474.7,339.1 475.2,339.3 475.7,339.6 476.2,339.9 476.7,340.2 477.2,340.3 477.7,340.3 478.2,340.3 478.9,340.3 479.6,340.3 480.5,340.4 481.3,340.4 482.2,340.4 483.2,340.4 484.1,340.4 485.1,340.4 486.1,340.4 487.0,340.4 487.9,340.4 488.8,340.5 489.6,340.5 490.3,340.5 491.0,340.5 491.6,340.5 492.0,340.5" fill="none" stroke="#5aa25a" stroke-width="0.8" stroke-linejoin="round"/>
<text x="496.00" y="343.60" font-family='"Liberation Serif", serif' font-size="7.0" font-style="italic" font-weight="bold" fill="#5aa25a" text-anchor="middle">h<tspan font-size='5' dy='1.6'>2</tspan><tspan font-size='5.5' dy='-4.5'>'</tspan></text>
<path d="M370.8,331.0 371.2,331.0 371.7,331.0 372.2,331.0 372.7,331.0 373.3,331.0 373.9,331.0 374.6,331.0 375.3,331.0 376.0,331.0 376.7,331.0 377.5,331.0 378.3,331.0 379.1,331.0 380.0,331.0 380.9,331.0 381.7,331.0 382.6,331.0 383.6,331.0 384.5,331.0 385.5,331.0 386.4,331.0 387.4,331.0 388.3,331.0 389.3,331.0 390.3,331.0 391.3,331.0 392.3,331.0 393.2,331.0 394.2,331.0 395.2,331.0 396.2,331.0 397.1,331.0 398.1,331.0 399.0,331.0 399.9,331.0 400.8,331.0 401.7,331.0 402.5,331.0 403.4,331.0 404.2,331.0 405.0,331.0 405.8,331.0 406.5,331.0 407.2,331.0 407.9,331.0 408.5,331.0 409.2,331.0 409.7,331.0 410.3,331.0 410.7,331.0 411.2,331.0 414.3,331.0 415.3,330.9 415.2,330.9 414.6,330.8 414.5,330.7 414.9,330.4 415.0,329.9 415.2,329.3 415.3,328.6 415.5,327.8 415.6,327.2 415.8,326.5 415.9,325.8 416.0,325.1 416.1,324.4 416.3,323.8 416.4,323.2 416.5,322.7 416.8,321.8 417.0,321.3 417.5,321.5 417.7,321.9 417.9,322.5 418.0,323.2 418.2,323.8 418.3,324.4 418.4,325.1 418.5,325.8 418.7,326.5 418.8,327.1 418.9,327.8 419.0,328.4 419.2,329.1 419.4,329.8 419.5,330.3 420.1,330.6 420.3,330.2 420.6,329.5 420.7,328.8 420.9,328.0 421.1,327.2 421.2,326.5 421.3,325.8 421.4,325.1 421.6,324.4 421.7,323.6 421.9,322.8 422.1,322.2 422.3,321.5 422.6,321.2 423.1,321.8 423.2,322.3 423.4,323.0 423.6,323.8 423.7,324.4 423.8,325.1 424.0,325.8 424.1,326.5 424.2,327.1 424.3,327.8 424.5,328.4 424.6,329.0 424.8,329.9 425.1,330.5 425.6,330.5 425.9,329.9 426.1,329.0 426.2,328.4 426.4,327.8 426.5,327.1 426.6,326.5 426.7,325.8 426.9,325.1 427.0,324.4 427.1,323.8 427.3,323.0 427.5,322.3 427.6,321.8 428.1,321.2 428.4,321.5 428.6,322.2 428.8,322.8 429.0,323.6 429.1,324.4 429.3,325.1 429.4,325.8 429.5,326.5 429.6,327.2 429.8,328.0 430.0,328.8 430.1,329.5 430.4,330.2 430.6,330.6 431.2,330.3 431.3,329.8 431.5,329.1 431.7,328.4 431.8,327.8 431.9,327.1 432.0,326.5 432.2,325.8 432.3,325.1 432.4,324.4 432.5,323.8 432.7,323.2 432.8,322.5 433.0,321.9 433.2,321.5 433.7,321.3 433.9,321.8 434.2,322.7 434.3,323.2 434.4,323.8 434.6,324.4 434.7,325.1 434.8,325.8 434.9,326.5 435.1,327.2 435.2,327.8 435.4,328.6 435.5,329.3 435.7,329.9 435.7,330.4 436.2,330.7 436.8,330.8 437.6,330.8 438.5,330.9 439.5,330.9 440.3,330.8 440.9,330.8 441.4,330.5 441.4,329.9 441.6,329.3 441.8,328.5 441.9,327.7 442.1,327.0 442.2,326.3 442.3,325.6 442.4,324.9 442.6,324.1 442.8,323.3 443.0,322.7 443.2,322.0 443.5,321.8 443.7,322.0 444.0,322.7 444.2,323.3 444.3,324.1 444.5,324.9 444.6,325.6 444.8,326.3 444.9,327.0 445.0,327.7 445.2,328.5 445.4,329.3 445.5,329.9 445.8,330.6 446.1,330.8 446.3,330.6 446.6,329.9 446.7,329.3 446.9,328.5 447.1,327.7 447.2,327.0 447.3,326.3 447.5,325.6 447.6,324.9 447.8,324.1 447.9,323.3 448.1,322.7 448.4,322.0 448.6,321.8 448.9,322.0 449.1,322.7 449.3,323.3 449.5,324.1 449.7,324.9 449.8,325.6 449.9,326.3 450.0,327.0 450.2,327.7 450.3,328.5 450.5,329.3 450.7,329.9 450.7,330.5 451.2,330.8 451.7,330.9 452.4,330.9 453.3,331.0 454.1,331.0 454.8,331.0 455.3,331.0 455.8,330.9 456.3,330.8 456.8,330.5 457.3,330.3 457.8,330.2 458.4,330.2 458.9,330.4 459.4,330.6 459.9,330.8 460.4,331.0 460.9,331.0 461.4,330.9 461.9,330.7 462.4,330.5 462.9,330.3 463.4,330.2 464.0,330.3 464.5,330.4 465.0,330.6 465.5,330.9 466.0,331.0 466.5,331.0 467.0,330.9 467.5,330.6 468.0,330.4 468.5,330.3 469.1,330.2 469.6,330.3 470.1,330.5 470.6,330.7 471.1,330.9 471.6,331.0 472.1,331.0 472.6,330.8 473.1,330.6 473.6,330.4 474.1,330.2 474.7,330.2 475.2,330.3 475.7,330.5 476.2,330.8 476.7,330.9 477.2,331.0 477.7,331.0 478.2,331.0 478.9,331.0 479.6,331.0 480.5,331.0 481.3,331.0 482.2,331.0 483.2,331.0 484.1,331.0 485.1,331.0 486.1,331.0 487.0,331.0 487.9,331.0 488.8,331.0 489.6,331.0 490.3,331.0 491.0,331.0 491.6,331.0 492.0,331.0" fill="none" stroke="#1a1a1a" stroke-width="0.9" stroke-linejoin="round"/>
<text x="420.20" y="321.80" font-family='"Liberation Serif", serif' font-size="7.0" font-style="italic" font-weight="bold" fill="#1a1a1a" text-anchor="middle">h<tspan font-size='5' dy='1.6'>1</tspan></text>
<path d="M423.60,344.30V356.50" stroke="#000" stroke-width="1.1"/><path d="M423.60,341.40L421.60,344.80L425.60,344.80Z M423.60,359.40L421.60,356.00L425.60,356.00Z" fill="#000"/>
<path d="M429.50,334.50V356.50" stroke="#000" stroke-width="1.1"/><path d="M429.50,331.60L427.50,335.00L431.50,335.00Z M429.50,359.40L427.50,356.00L431.50,356.00Z" fill="#000"/>
<text x="408.10" y="351.00" font-size="6.0" font-weight="bold" textLength="14.4" lengthAdjust="spacingAndGlyphs" fill="#111">65meV</text>
<text x="430.60" y="347.80" font-size="6.0" font-weight="bold" textLength="14.8" lengthAdjust="spacingAndGlyphs" fill="#111">72meV</text>
<path d="M455.3,360.2 455.3,360.2 455.8,359.7 456.1,359.1 456.3,358.2 456.5,357.6 456.7,356.9 456.8,356.2 457.0,355.4 457.2,354.6 457.3,353.9 457.5,353.1 457.7,352.4 457.8,351.8 458.1,350.9 458.4,350.3 458.9,349.7 459.4,350.1 459.6,350.6 459.9,351.4 460.1,352.0 460.2,352.6 460.4,353.4 460.6,354.1 460.7,354.9 460.9,355.6 461.1,356.4 461.2,357.1 461.4,357.7 461.6,358.4 461.8,358.9 461.9,359.4 462.2,359.9 462.4,360.1 462.9,360.0 463.2,359.6 463.4,358.9 463.6,358.4 463.8,357.8 464.0,357.2 464.1,356.5 464.3,355.8 464.5,355.1 464.6,354.4 464.8,353.7 465.0,353.1 465.1,352.5 465.3,351.9 465.5,351.5 465.7,351.0 466.0,350.6 466.5,350.7 466.8,351.1 467.0,351.6 467.2,352.1 467.4,352.7 467.5,353.3 467.7,353.9 467.9,354.6 468.0,355.3 468.2,356.0 468.4,356.7 468.5,357.3 468.7,358.0 468.9,358.5 469.1,359.0 469.3,359.6 469.6,360.0 470.1,360.2 470.3,359.9 470.6,359.4 470.8,358.8 471.1,358.0 471.3,357.4 471.4,356.8 471.6,356.2 471.8,355.5 471.9,354.9 472.1,354.3 472.3,353.7 472.4,353.2 472.6,352.7 472.9,352.1 473.1,351.7 473.6,351.4 474.1,352.1 474.4,352.6 474.7,353.4 474.8,353.9 475.0,354.5 475.2,355.1 475.3,355.8 475.5,356.4 475.7,357.0 475.8,357.6 476.0,358.2 476.2,358.7 476.4,359.3 476.7,359.8 477.2,360.2 477.8,360.2 478.7,360.2 479.7,360.2 480.6,360.2 481.2,360.2 481.7,360.0 482.0,359.7 482.2,359.3 482.5,358.8 482.7,358.2 483.0,357.6 483.3,356.9 483.5,356.2 483.8,355.5 484.0,354.7 484.3,354.0 484.5,353.3 484.8,352.7 485.1,352.1 485.3,351.6 485.6,351.2 485.8,350.9 486.4,350.7 486.9,350.9 487.1,351.2 487.4,351.6 487.6,352.1 487.9,352.7 488.2,353.3 488.4,354.0 488.7,354.7 488.9,355.5 489.2,356.2 489.4,356.9 489.7,357.6 490.0,358.2 490.2,358.8 490.5,359.3 490.7,359.7 491.0,360.0 491.5,360.2" fill="none" stroke="#5aa25a" stroke-width="0.8" stroke-linejoin="round"/>
<text x="495.30" y="355.80" font-family='"Liberation Serif", serif' font-size="7.0" font-style="italic" font-weight="bold" fill="#5aa25a" text-anchor="middle">h<tspan font-size='5' dy='1.6'>1</tspan><tspan font-size='5.5' dy='-4.5'>'</tspan></text>
<path d="M370.8,367.6 455.0,367.6" fill="none" stroke="#3a3ab8" stroke-width="0.8" stroke-dasharray="2,1" stroke-linejoin="round"/>
<path d="M455.3,361.5 455.8,361.9 456.1,362.3 456.3,362.9 456.6,363.5 456.8,364.3 457.0,364.8 457.2,365.4 457.3,365.9 457.6,366.7 457.8,367.4 458.1,368.0 458.4,368.5 458.9,369.0 459.4,368.8 459.6,368.4 459.9,367.9 460.1,367.2 460.4,366.5 460.6,365.9 460.7,365.4 460.9,364.8 461.1,364.3 461.2,363.8 461.4,363.3 461.7,362.6 461.9,362.1 462.4,361.5 462.9,361.7 463.2,362.0 463.4,362.5 463.7,363.1 464.0,363.8 464.1,364.3 464.3,364.8 464.5,365.4 464.6,365.9 464.8,366.5 465.0,367.0 465.2,367.6 465.5,368.2 465.7,368.6 466.0,368.9 466.5,368.9 466.8,368.6 467.0,368.2 467.3,367.6 467.5,367.0 467.7,366.5 467.9,365.9 468.0,365.4 468.2,364.8 468.4,364.3 468.5,363.8 468.8,363.1 469.1,362.5 469.3,362.0 469.6,361.7 470.1,361.5 470.6,362.1 470.8,362.6 471.1,363.3 471.3,363.8 471.4,364.3 471.6,364.8 471.8,365.4 471.9,365.9 472.1,366.5 472.4,367.2 472.6,367.9 472.9,368.4 473.1,368.8 473.6,369.0 474.1,368.5 474.4,368.0 474.7,367.4 474.9,366.7 475.2,365.9 475.3,365.4 475.5,364.8 475.7,364.3 475.9,363.5 476.2,362.9 476.4,362.3 476.7,361.9 477.2,361.5 477.8,361.5 478.7,361.5 479.7,361.5 480.6,361.5 481.2,361.5 481.7,361.7 482.2,362.2 482.5,362.6 482.7,363.0 483.0,363.5 483.3,364.1 483.5,364.7 483.8,365.3 484.0,365.8 484.3,366.4 484.5,367.0 484.8,367.5 485.1,367.9 485.3,368.3 485.8,368.8 486.4,369.0 486.9,368.8 487.4,368.3 487.6,367.9 487.9,367.5 488.2,367.0 488.4,366.4 488.7,365.8 488.9,365.2 489.2,364.7 489.4,364.1 489.7,363.5 490.0,363.0 490.2,362.6 490.5,362.2 491.0,361.7 491.5,361.5" fill="none" stroke="#3a3ab8" stroke-width="0.8" stroke-linejoin="round"/>
<text x="495.30" y="366.20" font-family='"Liberation Serif", serif' font-size="7.0" font-style="italic" font-weight="bold" fill="#3a3ab8" text-anchor="middle">h<tspan font-size='5' dy='1.6'>2</tspan><tspan font-size='5.5' dy='-4.5'>''</tspan></text>
</g>
<clipPath id="cb4"><rect x="517.4" y="236.2" width="147.60" height="172.60"/></clipPath>
<rect x="559.30" y="259.50" width="41.20" height="144.70" fill="#ededed" stroke="#dcdcdc" stroke-width="0.6"/>
<g clip-path="url(#cb4)">
<g transform="translate(480.70,0.30)">
<path d="M51.4,245.3 54.6,247.0 54.6,361.9 77.2,376.2 77.2,263.0 80.7,264.8 80.7,378.7 92.4,386.7 92.4,273.2 95.3,274.7 95.3,389.6 118.4,403.4 118.4,290.4 121.6,292.4 121.6,405.4 133.6,412.6 133.6,300.9 136.5,302.5 136.5,415.0 158.4,430.0 158.4,318.3 162.4,320.0 162.4,440.0" fill="none" stroke="#363636" stroke-width="0.9" stroke-linejoin="miter"/>
</g>
<g transform="translate(480.70,-1.30)">
<path d="M51.0,343.0 53.0,343.0 53.5,342.8 54.0,342.1 54.5,341.1 55.0,339.7 55.5,338.2 56.0,336.4 56.5,334.7 57.0,333.1 57.5,331.6 58.0,330.4 58.5,329.6 59.0,329.2 59.5,329.3 60.0,329.6 60.5,330.1 61.0,330.9 61.5,332.0 62.0,333.1 62.5,334.4 63.0,335.8 63.5,337.2 64.0,338.5 64.5,339.8 65.0,340.9 65.5,341.8 66.0,342.4 66.5,342.9 67.0,343.0 67.5,342.8 68.0,342.2 68.5,341.3 69.0,340.2 69.5,338.8 70.0,337.3 70.5,335.7 71.0,334.3 71.5,333.0 72.0,332.0 72.5,331.2 73.1,330.8 73.6,330.9 74.1,331.4 74.6,332.4 75.1,333.9 75.6,335.6 76.1,337.4 76.6,339.1 77.1,340.7 77.6,341.9 78.1,342.7 78.6,343.0 79.2,343.0" fill="none" stroke="#74dce8" stroke-width="0.9" stroke-linejoin="round"/>
<path d="M78.8,343.2 173.3,343.4" fill="none" stroke="#8fe3ea" stroke-width="0.9" stroke-dasharray="3,0.8" stroke-linejoin="round"/>
<g transform="translate(0,-1.7)">
<path d="M50.8,369.9 80.0,369.9 85.0,369.2 90.0,367.6 94.0,365.5 95.3,367.6 95.8,367.1 96.3,365.6 96.8,363.2 97.3,360.4 97.8,357.3 98.3,354.5 98.8,352.1 99.3,350.6 99.8,350.1 100.3,350.3 100.8,351.0 101.3,352.0 101.8,353.4 102.3,355.1 102.8,356.9 103.3,358.9 103.8,360.8 104.3,362.6 104.8,364.3 105.3,365.7 105.8,366.7 106.3,367.4 106.8,367.6 107.3,367.4 107.8,366.9 108.3,366.0 108.9,364.9 109.4,363.6 109.9,362.2 110.4,360.8 110.9,359.5 111.5,358.4 112.0,357.5 112.5,356.9 113.0,356.6 113.5,356.7 114.0,357.2 114.5,358.1 115.1,359.2 115.6,360.5 116.1,362.0 116.6,363.4 117.1,364.8 117.7,365.9 118.2,366.8 118.7,367.4 119.2,367.6 120.3,369.4 120.8,369.4" fill="none" stroke="#74dce8" stroke-width="0.9" stroke-linejoin="round"/>
<path d="M120.3,369.4 173.3,369.4" fill="none" stroke="#74dce8" stroke-width="1.25" stroke-linejoin="round"/>
</g>
<path d="M51.6,362.0 52.1,362.0 52.6,361.9 53.1,361.9 53.6,361.8 54.1,361.6 54.7,361.5 55.2,361.3 55.7,361.1 56.2,360.8 56.7,360.6 57.2,360.3 57.7,360.0 58.2,359.7 58.7,359.4 59.2,359.1 59.8,358.8 60.3,358.4 60.8,358.1 61.3,357.8 61.8,357.4 62.3,357.1 62.8,356.8 63.3,356.5 63.8,356.3 64.3,356.0 64.8,355.8 65.4,355.6 65.9,355.4 66.4,355.2 66.9,355.1 67.4,355.0 67.9,354.9 68.4,354.8 68.9,354.8 69.4,354.8 69.9,355.0 70.4,355.2 71.0,355.5 71.5,355.9 72.0,356.4 72.5,356.9 73.0,357.5 73.5,358.1 74.0,358.7 74.5,359.2 75.0,359.8 75.5,360.3 76.1,360.8 76.6,361.2 77.1,361.6 77.6,361.8 78.1,362.0 78.6,362.0 79.1,361.8 79.6,361.3 80.1,360.5 80.7,359.5 81.2,358.2 81.7,356.7 82.2,355.2 82.7,353.7 83.2,352.2 83.7,350.8 84.3,349.7 84.8,348.8 85.3,348.1 85.8,347.8 86.3,347.9 86.8,348.2 87.3,348.9 87.8,349.8 88.4,351.0 88.9,352.4 89.4,353.8 89.9,355.4 90.4,356.9 90.9,358.3 91.4,359.5 92.0,360.6 92.5,361.4 93.0,361.8 93.5,362.0 94.0,361.9 94.5,361.6 95.0,361.2 95.5,360.9 96.0,360.8 96.5,360.8 97.0,361.0 97.5,361.2 98.0,361.4 98.5,361.6 99.0,361.8 99.5,362.0 100.0,362.0 101.0,363.4 173.3,363.4" fill="none" stroke="#cc3b2a" stroke-width="1.0" stroke-linejoin="round"/>
<path d="M51.6,361.6 52.1,361.6 52.6,361.5 53.1,361.4 53.6,361.2 54.1,361.0 54.7,360.7 55.2,360.4 55.7,360.1 56.2,359.7 56.7,359.3 57.2,358.8 57.7,358.4 58.2,357.9 58.7,357.4 59.2,357.0 59.8,356.5 60.3,356.0 60.8,355.5 61.3,355.1 61.8,354.6 62.3,354.2 62.8,353.8 63.3,353.5 63.8,353.2 64.3,352.9 64.8,352.6 65.4,352.5 65.9,352.3 66.4,352.2 66.9,352.2 67.4,352.2 67.9,352.3 68.4,352.5 68.9,352.8 69.4,353.2 69.9,353.6 70.4,354.1 71.0,354.7 71.5,355.2 72.0,355.9 72.5,356.5 73.0,357.1 73.5,357.8 74.0,358.4 74.5,359.0 75.0,359.6 75.5,360.1 76.1,360.5 76.6,360.9 77.1,361.2 77.6,361.4 78.1,361.6 78.6,361.6 79.1,361.4 79.6,361.0 80.1,360.2 80.7,359.1 81.2,357.9 81.7,356.5 82.2,355.0 82.7,353.5 83.2,352.1 83.7,350.7 84.3,349.6 84.8,348.7 85.3,348.1 85.8,347.8 86.3,347.9 86.8,348.2 87.3,348.9 87.8,349.8 88.4,350.9 88.9,352.2 89.4,353.7 89.9,355.1 90.4,356.6 90.9,358.0 91.4,359.2 92.0,360.2 92.5,361.0 93.0,361.4 93.5,361.6 94.0,361.5 94.5,361.1 95.0,360.6 95.5,360.2 96.0,360.1 96.5,360.2 97.0,360.3 97.5,360.6 98.0,360.9 98.5,361.1 99.0,361.4 99.5,361.5 100.0,361.6 173.3,361.6" fill="none" stroke="#3cc43c" stroke-width="1.0" stroke-linejoin="round"/>
<g transform="translate(0,1.0)">
<path d="M51.6,389.6 95.0,389.6" fill="none" stroke="#9ad58a" stroke-width="1.0" stroke-linejoin="round"/>
<path d="M51.6,391.2 95.0,391.2" fill="none" stroke="#d99a88" stroke-width="0.8" stroke-dasharray="2,1" stroke-linejoin="round"/>
<path d="M95.0,389.6 95.5,389.6 96.0,389.4 96.5,389.2 97.0,389.0 97.5,388.6 98.0,388.2 98.5,387.8 99.0,387.2 99.6,386.7 100.1,386.1 100.6,385.4 101.1,384.8 101.6,384.1 102.1,383.5 102.6,382.8 103.1,382.2 103.6,381.6 104.1,381.0 104.6,380.5 105.1,380.0 105.6,379.6 106.1,379.3 106.6,379.0 107.1,378.8 107.7,378.6 108.2,378.6 108.7,378.6 109.2,378.8 109.7,379.0 110.2,379.3 110.7,379.7 111.2,380.2 111.7,380.7 112.2,381.3 112.7,382.0 113.2,382.6 113.7,383.3 114.2,384.1 114.7,384.8 115.2,385.5 115.7,386.2 116.3,386.8 116.8,387.4 117.3,388.0 117.8,388.5 118.3,388.9 118.8,389.2 119.3,389.4 119.8,389.6 120.3,389.6 120.8,389.4 121.3,388.9 121.8,388.1 122.3,386.9 122.8,385.6 123.3,384.1 123.8,382.5 124.3,380.9 124.8,379.5 125.3,378.1 125.8,377.0 126.3,376.2 126.9,375.7 127.4,375.6 127.9,375.9 128.4,376.6 128.9,377.8 129.4,379.2 129.9,380.9 130.4,382.7 130.9,384.5 131.4,386.2 131.9,387.6 132.4,388.7 132.9,389.4 133.4,389.6 133.9,389.6 134.4,389.4 134.9,389.2 135.4,389.0 135.9,388.7 136.4,388.5 136.9,388.4 137.4,388.3 137.9,388.3 138.4,388.5 138.9,388.6 139.4,388.9 139.9,389.1 140.4,389.4 140.9,389.5 141.4,389.6 141.9,389.6 142.4,389.5 142.9,389.3 143.4,389.1 143.9,388.8 144.4,388.6 144.9,388.4 145.4,388.3 146.0,388.3 146.5,388.4 147.0,388.6 147.5,388.8 148.0,389.1 148.5,389.3 149.0,389.5 149.5,389.6 150.0,389.6 150.5,389.5 151.0,389.4 151.5,389.1 152.0,388.9 152.5,388.6 153.0,388.5 153.5,388.3 154.0,388.3 154.5,388.4 155.0,388.5 155.5,388.7 156.0,389.0 156.5,389.2 157.0,389.4 157.5,389.6 158.0,389.6 173.3,389.6" fill="none" stroke="#7fcf7a" stroke-width="0.9" stroke-linejoin="round"/>
<path d="M95.0,391.2 95.5,391.2 96.0,391.1 96.5,391.0 97.0,390.8 97.5,390.5 98.0,390.3 98.5,389.9 99.0,389.6 99.6,389.2 100.1,388.8 100.6,388.3 101.1,387.9 101.6,387.4 102.1,386.9 102.6,386.4 103.1,386.0 103.6,385.5 104.1,385.1 104.6,384.6 105.1,384.2 105.6,383.9 106.1,383.6 106.6,383.3 107.1,383.0 107.7,382.9 108.2,382.7 108.7,382.6 109.2,382.6 109.7,382.6 110.2,382.8 110.7,383.0 111.2,383.3 111.7,383.6 112.2,384.1 112.7,384.6 113.2,385.1 113.7,385.7 114.2,386.3 114.7,386.9 115.2,387.5 115.7,388.1 116.3,388.7 116.8,389.2 117.3,389.7 117.8,390.1 118.3,390.5 118.8,390.8 119.3,391.0 119.8,391.2 120.3,391.2 120.8,391.0 121.3,390.5 121.8,389.7 122.3,388.6 122.8,387.3 123.3,385.8 123.8,384.3 124.3,382.8 124.8,381.4 125.3,380.1 125.8,379.0 126.3,378.2 126.9,377.7 127.4,377.6 127.9,377.9 128.4,378.6 128.9,379.7 129.4,381.1 129.9,382.7 130.4,384.5 130.9,386.2 131.4,387.9 131.9,389.2 132.4,390.3 132.9,391.0 133.4,391.2 133.9,391.2 134.4,391.1 134.9,390.9 135.4,390.7 135.9,390.5 136.4,390.4 136.9,390.2 137.4,390.2 137.9,390.2 138.4,390.3 138.9,390.5 139.4,390.7 139.9,390.8 140.4,391.0 140.9,391.1 141.4,391.2 141.9,391.2 142.4,391.1 142.9,391.0 143.4,390.8 143.9,390.6 144.4,390.4 144.9,390.3 145.4,390.2 146.0,390.2 146.5,390.3 147.0,390.4 147.5,390.6 148.0,390.8 148.5,391.0 149.0,391.1 149.5,391.2 150.0,391.2 150.5,391.1 151.0,391.0 151.5,390.8 152.0,390.7 152.5,390.5 153.0,390.3 153.5,390.2 154.0,390.2 154.5,390.2 155.0,390.4 155.5,390.5 156.0,390.7 156.5,390.9 157.0,391.1 157.5,391.2 158.0,391.2 173.3,391.2" fill="none" stroke="#c2704f" stroke-width="0.9" stroke-linejoin="round"/>
<path d="M51.6,397.4 120.0,397.4" fill="none" stroke="#8fe3ea" stroke-width="0.9" stroke-dasharray="3,0.8" stroke-linejoin="round"/>
<path d="M119.5,397.4 119.9,397.4 120.3,397.4 120.8,397.4 121.2,397.3 121.6,397.3 122.0,397.2 122.4,397.2 122.8,397.2 123.2,397.1 123.7,397.0 124.1,397.0 124.5,396.9 124.9,396.9 125.3,396.9 125.8,396.8 126.2,396.8 126.6,396.8 127.0,396.8 127.4,396.8 127.8,396.7 128.2,396.6 128.6,396.5 129.0,396.3 129.4,396.1 129.8,395.9 130.2,395.7 130.6,395.5 131.0,395.3 131.4,395.1 131.8,394.9 132.2,394.8 132.6,394.7 133.0,394.6 133.4,394.6 133.8,394.5 134.2,394.0 134.7,393.3 135.1,392.4 135.5,391.2 135.9,389.9 136.4,388.5 136.8,386.9 137.2,385.4 137.6,383.8 138.1,382.4 138.5,381.1 138.9,379.9 139.3,379.0 139.8,378.3 140.2,377.8 140.6,377.7 141.0,377.8 141.4,378.2 141.8,378.8 142.3,379.7 142.7,380.7 143.1,382.0 143.5,383.4 143.9,384.8 144.3,386.4 144.8,387.9 145.2,389.5 145.6,390.9 146.0,392.3 146.4,393.6 146.8,394.6 147.3,395.5 147.7,396.1 148.1,396.5 148.5,396.6 148.9,396.5 149.3,396.1 149.7,395.5 150.2,394.8 150.6,393.8 151.0,392.8 151.4,391.6 151.8,390.5 152.2,389.3 152.6,388.3 153.0,387.3 153.5,386.6 153.9,386.0 154.3,385.6 154.7,385.5 155.1,385.7 155.5,386.3 155.9,387.2 156.3,388.4 156.7,389.8 157.1,391.3 157.5,392.9 157.9,394.3 158.3,395.5 158.7,396.4 159.1,397.0 159.5,397.2 159.8,397.2 160.0,397.2" fill="none" stroke="#74dce8" stroke-width="0.9" stroke-linejoin="round"/>
<path d="M159.7,397.2 173.3,397.2" fill="none" stroke="#8fe3ea" stroke-width="0.9" stroke-dasharray="3,0.8" stroke-linejoin="round"/>
</g>
<text x="46.30" y="341.60" font-family='"Liberation Serif", serif' font-size="7" font-style="italic" font-weight="bold" fill="#74dce8" text-anchor="middle">f</text>
<text x="47.90" y="361.40" font-family='"Liberation Serif", serif' font-size="7" font-style="italic" font-weight="bold" fill="#3cc43c" text-anchor="middle">i</text>
<text x="47.30" y="368.00" font-family='"Liberation Serif", serif' font-size="6.5" font-style="italic" font-weight="bold" fill="#cc3b2a" text-anchor="middle">u</text>
<text x="47.90" y="393.20" font-family='"Liberation Serif", serif' font-size="7" font-style="italic" font-weight="bold" fill="#3cc43c" text-anchor="middle">i<tspan font-size='4.5' dy='-2.5'>'</tspan></text>
<text x="59.50" y="398.00" font-family='"Liberation Serif", serif' font-size="6.5" font-style="italic" font-weight="bold" fill="#cc3b2a" text-anchor="middle">u<tspan font-size='4.5' dy='-2.5'>'</tspan></text>
<text x="73.20" y="404.80" font-family='"Liberation Serif", serif' font-size="7" font-style="italic" font-weight="bold" fill="#74dce8" text-anchor="middle">f<tspan font-size='4.5' dy='-2.5'>'</tspan></text>
<text x="101.00" y="370.80" font-family='"Liberation Serif", serif' font-size="7" font-style="italic" font-weight="bold" fill="#74dce8" text-anchor="middle">f</text>
<text x="49.4" y="381.3" font-size="6.1" font-weight="bold" textLength="14.6" lengthAdjust="spacingAndGlyphs" fill="#111">55meV</text>
<path d="M66.20,371.10V387.70" stroke="#000" stroke-width="1.1"/><path d="M66.20,368.20L64.20,371.60L68.20,371.60Z M66.20,390.60L64.20,387.20L68.20,387.20Z" fill="#000"/>
</g>
</g>
<g clip-path="url(#cb4)">
<path d="M536.0,257.0 536.4,256.8 536.8,256.3 537.0,255.9 537.2,255.5 537.4,255.0 537.6,254.5 537.8,254.0 538.0,253.5 538.2,253.1 538.4,252.7 538.8,252.2 539.2,252.0 539.6,252.3 539.8,252.7 540.0,253.2 540.2,253.9 540.4,254.7 540.5,255.2 540.7,255.9 540.8,256.5 540.9,257.1 541.1,257.8 541.2,258.5 541.3,259.2 541.5,259.9 541.6,260.5 541.7,261.1 541.9,261.8 542.0,262.3 542.2,263.1 542.4,263.8 542.6,264.3 542.8,264.7 543.2,265.0 543.6,264.7 543.8,264.4 544.0,264.0 544.2,263.5 544.4,262.8 544.6,262.1 544.8,261.4 544.9,260.8 545.1,260.3 545.2,259.8 545.3,259.2 545.5,258.7 545.6,258.1 545.8,257.4 546.0,256.7 546.2,256.0 546.4,255.5 546.6,255.1 546.8,254.8 547.2,254.5 547.6,254.8 547.8,255.1 548.0,255.5 548.2,256.1 548.4,256.7 548.6,257.4 548.8,258.2 548.9,258.8 549.1,259.3 549.2,259.9 549.3,260.5 549.5,261.0 549.6,261.6 549.8,262.4 550.0,263.1 550.2,263.7 550.4,264.3 550.6,264.7 550.8,265.0 551.2,265.3 551.6,265.0 551.8,264.7 552.0,264.3 552.3,263.7 552.5,263.1 552.7,262.4 552.9,261.7 553.1,260.9 553.3,260.1 553.5,259.4 553.7,258.7 553.9,258.1 554.2,257.5 554.4,257.1 554.6,256.8 555.0,256.5 555.4,256.8 555.7,257.3 555.9,257.8 556.1,258.5 556.3,259.3 556.5,259.8 556.6,260.4 556.8,261.0 556.9,261.6 557.0,262.2 557.2,262.7 557.4,263.5 557.6,264.2 557.8,264.7 558.1,265.2 558.5,265.5" fill="none" stroke="#d0d0d0" stroke-width="0.8" stroke-linejoin="round"/>
<path d="M557.3,265.3 652.9,265.5" fill="none" stroke="#d0d0d0" stroke-width="0.8" stroke-dasharray="3,0.8" stroke-linejoin="round"/>
<text x="524.70" y="268.80" font-family='"Liberation Serif", serif' font-size="7.0" font-style="italic" font-weight="bold" fill="#d0d0d0" text-anchor="middle">h<tspan font-size='5' dy='1.6'>3</tspan><tspan font-size='5.5' dy='-4.5'>''</tspan></text>
<path d="M536.0,302.0 536.4,301.8 536.9,301.2 537.1,300.8 537.3,300.3 537.5,299.8 537.8,299.2 538.0,298.7 538.2,298.2 538.4,297.7 538.6,297.3 539.1,296.7 539.5,296.5 539.9,296.7 540.3,297.3 540.5,297.7 540.7,298.2 540.9,298.7 541.1,299.3 541.3,300.0 541.5,300.6 541.7,301.2 541.9,301.9 542.1,302.5 542.3,303.0 542.5,303.5 542.7,303.9 543.1,304.5 543.5,304.7 543.9,304.5 544.3,304.0 544.5,303.6 544.7,303.2 544.9,302.7 545.1,302.2 545.3,301.7 545.5,301.1 545.7,300.5 545.9,300.0 546.1,299.5 546.3,299.0 546.5,298.6 546.7,298.2 547.1,297.7 547.5,297.5 547.9,297.7 548.3,298.2 548.5,298.6 548.7,299.0 548.9,299.5 549.1,300.0 549.3,300.6 549.5,301.2 549.7,301.7 549.9,302.3 550.1,302.8 550.3,303.3 550.5,303.7 550.7,304.1 551.1,304.6 551.5,304.8 551.9,304.6 552.3,304.1 552.5,303.7 552.7,303.2 552.9,302.7 553.1,302.2 553.3,301.7 553.6,301.1 553.8,300.6 554.0,300.1 554.2,299.6 554.4,299.2 554.8,298.7 555.2,298.5 555.6,298.7 556.0,299.4 556.2,299.9 556.4,300.4 556.6,301.0 556.8,301.6 557.1,302.3 557.3,302.9 557.5,303.4 557.7,303.9 558.1,304.6 558.5,304.8" fill="none" stroke="#d0d0d0" stroke-width="0.8" stroke-linejoin="round"/>
<path d="M557.3,304.7 652.9,305.5" fill="none" stroke="#d0d0d0" stroke-width="0.8" stroke-dasharray="3,0.8" stroke-linejoin="round"/>
<text x="524.70" y="306.80" font-family='"Liberation Serif", serif' font-size="7.0" font-style="italic" font-weight="bold" fill="#d0d0d0" text-anchor="middle">h<tspan font-size='5' dy='1.6'>1</tspan><tspan font-size='5.5' dy='-4.5'>''</tspan></text>
<path d="M532.5,293.3 533.0,293.3 533.5,293.1 534.0,292.7 534.5,292.3 535.0,292.1 535.5,292.3 536.0,292.7 536.5,293.1 537.0,293.3 537.6,293.1 538.1,292.7 538.6,292.3 539.1,292.1 539.6,292.3 540.1,292.7 540.6,293.1 541.1,293.3 541.6,293.1 542.1,292.7 542.6,292.3 543.1,292.1 543.6,292.3 544.1,292.7 544.6,293.1 545.1,293.3 545.7,293.1 546.2,292.7 546.7,292.3 547.2,292.1 547.7,292.3 548.2,292.7 548.7,293.1 549.2,293.3 549.7,293.1 550.2,292.7 550.7,292.3 551.2,292.1 551.7,292.3 552.2,292.7 552.7,293.1 553.2,293.3 553.8,293.1 554.3,292.7 554.8,292.3 555.3,292.1 555.8,292.3 556.3,292.7 556.8,293.1 557.3,293.3 557.8,293.3 558.5,293.2 559.3,293.2 560.1,293.1 560.8,293.1 561.3,293.0 561.7,292.6 561.9,292.1 562.2,291.5 562.3,291.0 562.4,290.5 562.6,289.9 562.7,289.3 562.9,288.7 563.0,288.1 563.2,287.5 563.3,287.0 563.4,286.5 563.7,285.9 563.9,285.4 564.3,285.0 564.7,285.4 564.9,285.8 565.2,286.4 565.4,287.1 565.6,287.9 565.7,288.5 565.9,289.0 566.0,289.6 566.2,290.4 566.4,291.1 566.7,291.7 566.9,292.1 567.3,292.5 567.7,292.2 568.0,291.9 568.2,291.4 568.4,290.9 568.6,290.3 568.8,289.6 569.1,289.0 569.3,288.4 569.5,287.9 569.7,287.4 570.0,287.1 570.4,286.8 570.8,287.1 571.0,287.5 571.2,288.0 571.4,288.6 571.6,289.2 571.8,289.9 572.0,290.6 572.2,291.2 572.4,291.8 572.6,292.3 572.8,292.7 573.2,293.0 573.7,293.0 574.4,293.1 575.2,293.1 575.7,293.0 576.0,292.7 576.1,292.1 576.2,291.7 576.4,291.1 576.5,290.4 576.6,289.8 576.7,289.2 576.7,288.5 576.8,287.8 576.9,287.2 577.0,286.5 577.1,285.8 577.2,285.2 577.3,284.5 577.3,283.8 577.4,283.2 577.5,282.6 577.6,281.9 577.8,281.3 577.9,280.9 578.1,280.2 578.3,280.0 578.5,280.3 578.7,281.1 578.8,281.7 578.9,282.4 579.0,283.2 579.1,284.0 579.2,284.7 579.3,285.4 579.4,286.1 579.5,286.8 579.6,287.5 579.7,288.3 579.8,289.1 579.9,289.8 580.0,290.4 580.2,291.2 580.4,291.5 580.6,291.1 580.9,290.2 581.0,289.6 581.1,289.0 581.2,288.2 581.3,287.5 581.4,286.7 581.4,286.0 581.5,285.3 581.6,284.6 581.7,283.8 581.8,283.1 581.8,282.4 581.9,281.6 582.0,280.9 582.1,280.1 582.2,279.5 582.3,278.9 582.6,278.0 582.8,277.6 583.0,278.0 583.3,278.9 583.4,279.5 583.4,280.1 583.5,280.9 583.6,281.6 583.7,282.4 583.8,283.1 583.9,283.8 583.9,284.6 584.0,285.3 584.1,286.0 584.2,286.7 584.3,287.5 584.4,288.2 584.5,289.0 584.5,289.6 584.6,290.2 584.9,291.1 585.1,291.5 585.3,291.2 585.6,290.4 585.7,289.8 585.8,289.0 585.9,288.2 586.1,287.4 586.2,286.6 586.3,285.9 586.3,285.1 586.4,284.4 586.5,283.6 586.7,282.8 586.8,282.0 586.9,281.2 587.0,280.6 587.3,279.8 587.5,279.5 587.7,279.8 588.0,280.7 588.1,281.3 588.2,282.1 588.3,282.9 588.4,283.8 588.5,284.6 588.6,285.3 588.7,286.2 588.8,286.9 588.9,287.7 589.0,288.6 589.1,289.4 589.2,290.2 589.3,290.8 589.6,291.7 589.8,292.0 590.0,291.8 590.3,291.0 590.4,290.5 590.5,289.9 590.6,289.2 590.7,288.5 590.8,287.8 590.9,287.0 591.1,286.2 591.2,285.5 591.3,284.8 591.4,284.1 591.5,283.5 591.6,283.0 591.9,282.3 592.1,282.0 592.3,282.3 592.6,283.0 592.7,283.5 592.8,284.2 592.9,284.9 593.0,285.6 593.1,286.2 593.2,286.9 593.3,287.6 593.4,288.3 593.5,288.9 593.6,289.6 593.7,290.3 593.8,291.0 593.9,291.5 594.2,292.2 594.4,292.5 594.6,292.3 594.9,291.7 595.0,291.2 595.2,290.5 595.3,289.7 595.4,289.1 595.5,288.5 595.7,287.9 595.8,287.3 595.9,286.5 596.1,285.8 596.2,285.3 596.5,284.7 596.7,284.5 596.9,284.7 597.2,285.3 597.3,285.9 597.5,286.6 597.6,287.4 597.7,288.1 597.9,288.8 598.0,289.4 598.1,290.1 598.2,290.9 598.4,291.6 598.5,292.2 598.7,292.7 599.0,293.0 599.4,293.2 600.0,293.3 600.6,293.3 601.3,293.3 602.1,293.3 602.6,293.3 603.1,293.1 603.6,292.5 604.1,292.1 604.6,292.1 605.1,292.5 605.6,293.1 606.1,293.3 606.6,293.1 607.1,292.5 607.6,292.1 608.2,292.1 608.7,292.5 609.2,293.1 609.7,293.3 610.2,293.1 610.7,292.5 611.2,292.1 611.7,292.1 612.2,292.5 612.7,293.1 613.2,293.3 613.6,293.3 614.1,293.3 614.6,293.3 615.1,293.3 615.7,293.3 616.4,293.3 617.0,293.3 617.7,293.3 618.4,293.3 619.2,293.3 620.0,293.3 620.8,293.3 621.6,293.3 622.5,293.3 623.4,293.3 624.3,293.3 625.2,293.3 626.1,293.3 627.1,293.3 628.0,293.3 629.0,293.3 629.9,293.3 630.9,293.3 631.9,293.3 632.9,293.3 633.9,293.3 634.9,293.3 635.8,293.3 636.8,293.3 637.8,293.3 638.8,293.3 639.7,293.3 640.7,293.3 641.6,293.3 642.5,293.3 643.4,293.3 644.3,293.3 645.1,293.3 645.9,293.3 646.8,293.3 647.5,293.3 648.3,293.3 649.0,293.3 649.7,293.3 650.4,293.3 651.0,293.3 651.6,293.3 652.1,293.3 652.6,293.3 653.1,293.3 653.5,293.3" fill="none" stroke="#1a1a1a" stroke-width="0.9" stroke-linejoin="round"/>
<text x="587.00" y="280.00" font-family='"Liberation Serif", serif' font-size="7.0" font-style="italic" font-weight="bold" fill="#1a1a1a" text-anchor="middle">h<tspan font-size='5' dy='1.6'>3</tspan></text>
<path d="M532.5,313.1 533.0,312.8 533.3,312.4 533.5,311.8 533.8,311.2 534.0,310.5 534.3,309.9 534.5,309.2 534.8,308.7 535.0,308.2 535.5,307.8 536.0,308.1 536.3,308.4 536.5,308.9 536.8,309.5 537.1,310.2 537.3,310.9 537.6,311.5 537.8,312.1 538.1,312.6 538.6,313.1 539.1,312.9 539.3,312.6 539.6,312.1 539.8,311.5 540.1,310.9 540.3,310.2 540.6,309.5 540.9,308.9 541.1,308.4 541.6,307.8 542.1,307.9 542.4,308.2 542.6,308.7 542.9,309.2 543.1,309.9 543.4,310.5 543.6,311.2 543.9,311.8 544.1,312.4 544.4,312.8 544.6,313.0 545.2,313.0 545.4,312.8 545.7,312.4 545.9,311.8 546.2,311.2 546.4,310.5 546.7,309.9 546.9,309.2 547.2,308.7 547.4,308.2 547.7,307.9 548.2,307.8 548.7,308.4 548.9,308.9 549.2,309.5 549.5,310.2 549.7,310.9 550.0,311.5 550.2,312.1 550.5,312.6 550.7,312.9 551.2,313.1 551.7,312.6 552.0,312.1 552.2,311.5 552.5,310.9 552.7,310.2 553.0,309.5 553.3,308.9 553.5,308.4 553.8,308.1 554.3,307.8 554.8,308.2 555.0,308.7 555.3,309.2 555.5,309.9 555.8,310.5 556.0,311.2 556.3,311.8 556.5,312.4 556.8,312.8 557.3,313.1 557.8,313.2 558.5,313.4 559.3,313.5 560.1,313.7 560.8,313.8 561.3,313.8 561.8,313.6 561.8,313.2 562.0,312.7 562.1,312.1 562.3,311.5 562.5,310.8 562.7,310.0 562.8,309.3 563.0,308.5 563.2,307.8 563.3,307.1 563.6,306.3 563.8,305.7 564.4,305.3 564.6,305.7 564.9,306.3 565.0,306.8 565.2,307.4 565.4,308.1 565.5,308.9 565.7,309.7 565.9,310.4 566.0,311.1 566.2,311.8 566.4,312.5 566.6,313.2 566.9,313.6 567.4,313.6 567.7,313.2 567.9,312.5 568.1,311.8 568.3,311.1 568.4,310.4 568.6,309.7 568.8,308.9 568.9,308.1 569.1,307.4 569.3,306.8 569.4,306.3 569.7,305.7 569.9,305.3 570.5,305.7 570.7,306.3 571.0,307.1 571.1,307.8 571.3,308.5 571.5,309.3 571.6,310.0 571.8,310.8 572.0,311.5 572.2,312.1 572.3,312.7 572.5,313.2 572.6,313.6 573.0,313.8 573.6,313.7 574.3,313.5 575.1,313.3 575.7,313.1 576.2,313.0 576.7,312.6 577.2,312.2 577.7,311.9 578.2,312.0 578.8,312.3 579.3,312.7 579.8,313.0 580.3,313.1 580.8,312.9 581.3,312.5 581.8,312.1 582.3,311.9 582.8,312.0 583.3,312.3 583.8,312.7 584.4,313.0 584.9,313.1 585.4,312.8 585.9,312.4 586.4,312.0 586.9,311.9 587.4,312.0 587.9,312.4 588.4,312.8 588.9,313.1 589.4,313.0 590.0,312.7 590.5,312.3 591.0,312.0 591.5,311.9 592.0,312.1 592.5,312.5 593.0,312.9 593.5,313.1 594.0,313.0 594.5,312.7 595.0,312.3 595.6,312.0 596.1,311.9 596.6,312.2 597.1,312.6 597.6,313.0 598.1,313.1 596.7,313.2 595.5,313.2 600.0,313.3 600.4,313.3 600.9,313.3 601.4,313.3 601.9,313.3 602.5,313.3 603.1,313.3 603.7,313.3 604.3,313.3 605.0,313.3 605.7,313.3 606.4,313.3 607.2,313.3 607.9,313.3 608.7,313.3 609.5,313.3 610.4,313.3 611.2,313.3 612.1,313.3 613.0,313.3 613.9,313.3 614.8,313.3 615.7,313.3 616.6,313.3 617.6,313.3 618.5,313.3 619.5,313.4 620.4,313.4 621.4,313.4 622.4,313.4 623.4,313.4 624.4,313.4 625.4,313.4 626.4,313.4 627.4,313.4 628.4,313.4 629.4,313.4 630.3,313.4 631.3,313.4 632.3,313.4 633.3,313.4 634.2,313.4 635.2,313.4 636.2,313.4 637.1,313.4 638.0,313.4 638.9,313.4 639.8,313.4 640.7,313.4 641.6,313.4 642.5,313.4 643.3,313.4 644.1,313.4 644.9,313.4 645.7,313.4 646.5,313.4 647.2,313.4 647.9,313.4 648.6,313.4 649.3,313.4 649.9,313.4 650.5,313.4 651.1,313.4 651.6,313.4 652.1,313.4 652.6,313.4 653.1,313.4 653.5,313.4" fill="none" stroke="#1a1a1a" stroke-width="0.9" stroke-linejoin="round"/>
<text x="567.20" y="319.50" font-family='"Liberation Serif", serif' font-size="7.0" font-style="italic" font-weight="bold" fill="#1a1a1a" text-anchor="middle">h<tspan font-size='5' dy='1.6'>2</tspan></text>
<path d="M532.5,321.4 598.4,321.4" fill="none" stroke="#7aa070" stroke-width="0.7" stroke-dasharray="2,1" stroke-linejoin="round"/>
<path d="M602.6,320.8 603.1,320.3 603.4,319.7 603.6,318.9 603.8,318.3 603.9,317.7 604.1,317.1 604.3,316.6 604.5,316.0 604.6,315.6 604.9,315.1 605.1,314.8 605.6,315.1 605.9,315.6 606.1,316.3 606.3,316.8 606.5,317.4 606.6,318.0 606.8,318.6 607.0,319.2 607.1,319.7 607.4,320.3 607.6,320.7 608.2,320.7 608.4,320.3 608.7,319.7 608.8,319.2 609.0,318.6 609.2,318.0 609.3,317.4 609.5,316.8 609.7,316.3 609.9,315.6 610.2,315.1 610.7,314.8 610.9,315.1 611.2,315.6 611.3,316.0 611.5,316.6 611.7,317.1 611.9,317.7 612.0,318.3 612.2,318.9 612.4,319.7 612.7,320.3 613.2,320.8 613.7,320.8 614.5,320.9 615.3,320.9 616.1,320.9 616.6,320.8 617.0,320.5 617.1,319.8 617.2,319.2 617.4,318.6 617.5,317.8 617.6,317.0 617.7,316.4 617.8,315.6 617.9,314.9 618.0,314.1 618.1,313.4 618.2,312.7 618.3,312.0 618.4,311.3 618.5,310.6 618.6,310.1 618.8,309.2 619.0,308.5 619.1,308.0 619.6,307.7 619.8,308.1 620.0,308.7 620.1,309.5 620.2,310.0 620.3,310.6 620.5,311.3 620.6,312.0 620.7,312.7 620.8,313.4 620.9,314.1 621.0,314.9 621.1,315.6 621.2,316.3 621.3,317.1 621.4,317.9 621.5,318.7 621.7,319.3 621.9,320.2 622.2,320.7 622.7,320.2 622.8,319.7 623.0,318.9 623.2,318.0 623.3,317.4 623.4,316.7 623.5,316.0 623.6,315.3 623.7,314.6 623.8,313.9 623.9,313.2 624.0,312.5 624.1,311.9 624.2,311.2 624.3,310.5 624.5,309.9 624.6,309.3 624.7,308.9 625.0,308.3 625.2,308.2 625.5,308.6 625.7,309.4 625.8,310.0 626.0,310.7 626.1,311.4 626.2,312.2 626.3,312.8 626.4,313.5 626.5,314.3 626.6,315.0 626.7,315.6 626.9,316.5 627.0,317.3 627.1,318.1 627.2,318.7 627.4,319.5 627.6,320.1 627.7,320.6 628.3,320.6 628.4,320.1 628.6,319.5 628.8,318.8 628.9,318.1 629.0,317.4 629.1,316.6 629.3,315.7 629.4,315.1 629.5,314.4 629.6,313.7 629.7,313.0 629.8,312.4 629.9,311.7 630.0,311.0 630.2,310.4 630.3,309.8 630.5,309.1 630.8,308.7 631.0,308.9 631.3,309.5 631.5,310.1 631.6,310.9 631.8,311.8 631.9,312.4 632.0,313.0 632.1,313.7 632.2,314.4 632.3,315.0 632.4,315.9 632.6,316.7 632.7,317.5 632.8,318.2 633.0,319.0 633.2,319.7 633.3,320.3 633.8,320.7 634.1,320.3 634.3,319.4 634.5,318.9 634.6,318.2 634.7,317.5 634.8,316.8 634.9,316.2 635.0,315.5 635.1,314.8 635.2,314.2 635.3,313.6 635.5,312.8 635.6,312.1 635.7,311.4 635.9,310.8 636.1,309.9 636.4,309.4 636.9,309.7 637.0,310.1 637.2,310.8 637.4,311.6 637.5,312.2 637.6,313.0 637.8,313.7 637.9,314.5 638.0,315.3 638.1,316.1 638.3,316.9 638.4,317.6 638.6,318.5 638.7,319.3 638.9,319.9 639.0,320.5 639.4,320.8 639.8,320.9 640.2,320.9 640.8,320.8 641.6,320.8 642.8,320.8 653.5,320.8" fill="none" stroke="#5aa25a" stroke-width="0.8" stroke-linejoin="round"/>
<text x="657.50" y="322.80" font-family='"Liberation Serif", serif' font-size="7.0" font-style="italic" font-weight="bold" fill="#5aa25a" text-anchor="middle">h<tspan font-size='5' dy='1.6'>3</tspan><tspan font-size='5.5' dy='-4.5'>'</tspan></text>
<path d="M532.5,333.6 532.9,333.6 533.4,333.6 533.9,333.6 534.4,333.6 535.0,333.6 535.6,333.6 536.3,333.6 537.0,333.6 537.7,333.6 538.5,333.6 539.2,333.6 540.0,333.6 540.9,333.6 541.7,333.6 542.6,333.6 543.5,333.6 544.4,333.6 545.3,333.6 546.3,333.6 547.2,333.6 548.2,333.6 549.1,333.6 550.1,333.6 551.1,333.6 552.1,333.6 553.1,333.6 554.0,333.6 555.0,333.6 556.0,333.6 557.0,333.6 557.9,333.6 558.9,333.6 559.8,333.6 560.7,333.6 561.6,333.6 562.5,333.6 563.4,333.6 564.2,333.6 565.0,333.6 565.9,333.6 566.6,333.6 567.4,333.6 568.1,333.6 568.8,333.6 569.4,333.6 570.0,333.6 570.6,333.6 571.1,333.6 571.6,333.6 572.1,333.6 575.2,333.6 576.3,333.5 576.2,333.5 575.8,333.4 575.7,333.3 576.1,333.0 576.2,332.6 576.4,332.1 576.5,331.4 576.7,330.7 576.8,330.1 577.0,329.4 577.1,328.8 577.2,328.2 577.4,327.3 577.6,326.5 577.7,325.9 578.0,325.0 578.2,324.5 578.8,324.5 579.0,325.0 579.3,325.9 579.4,326.5 579.6,327.3 579.8,328.2 579.9,328.8 580.0,329.4 580.2,330.1 580.3,330.7 580.5,331.4 580.6,332.1 580.8,332.6 581.0,333.1 581.3,333.3 581.6,333.1 581.8,332.6 582.0,332.1 582.1,331.4 582.3,330.7 582.4,330.1 582.6,329.4 582.7,328.8 582.8,328.2 583.0,327.3 583.2,326.5 583.3,325.9 583.6,325.0 583.8,324.5 584.4,324.5 584.6,325.0 584.9,325.9 585.0,326.5 585.2,327.3 585.4,328.2 585.5,328.8 585.6,329.4 585.8,330.1 585.9,330.7 586.1,331.4 586.2,332.1 586.4,332.6 586.6,333.1 586.9,333.3 587.2,333.1 587.4,332.6 587.6,332.1 587.7,331.4 587.9,330.7 588.0,330.1 588.2,329.4 588.3,328.8 588.4,328.2 588.6,327.3 588.8,326.5 588.9,325.9 589.2,325.0 589.4,324.5 590.0,324.5 590.2,325.0 590.5,325.9 590.6,326.5 590.8,327.3 591.0,328.2 591.1,328.8 591.2,329.4 591.4,330.1 591.5,330.7 591.7,331.4 591.8,332.1 592.0,332.6 592.2,333.1 592.5,333.3 592.8,333.1 593.0,332.6 593.2,332.1 593.3,331.4 593.5,330.7 593.6,330.1 593.8,329.4 593.9,328.8 594.0,328.2 594.2,327.3 594.4,326.5 594.5,325.9 594.8,325.0 595.0,324.5 595.6,324.5 595.8,325.0 596.1,325.9 596.2,326.5 596.4,327.3 596.6,328.2 596.7,328.8 596.8,329.4 597.0,330.1 597.1,330.7 597.3,331.4 597.4,332.1 597.6,332.6 597.6,333.1 598.1,333.3 598.7,333.3 599.5,333.3 600.4,333.2 601.2,333.2 602.0,333.1 602.6,333.0 603.1,332.4 603.4,331.8 603.6,330.9 603.8,330.3 603.9,329.7 604.1,329.0 604.3,328.4 604.5,327.9 604.6,327.4 604.9,326.8 605.1,326.5 605.6,326.8 605.9,327.4 606.1,328.1 606.3,328.7 606.5,329.4 606.6,330.0 606.8,330.6 607.0,331.2 607.1,331.8 607.4,332.4 607.6,332.9 608.2,332.9 608.4,332.4 608.7,331.8 608.8,331.2 609.0,330.6 609.2,330.0 609.3,329.4 609.5,328.7 609.7,328.1 609.9,327.4 610.2,326.8 610.7,326.5 610.9,326.8 611.2,327.4 611.3,327.9 611.5,328.4 611.7,329.0 611.9,329.7 612.0,330.3 612.2,330.9 612.4,331.8 612.7,332.4 613.2,333.0 613.7,333.0 614.5,333.0 615.3,333.0 616.1,332.9 616.6,332.9 617.1,332.7 617.6,332.3 618.1,331.8 618.6,331.4 619.1,331.4 619.6,331.8 620.1,332.3 620.7,332.7 621.2,332.9 621.7,332.7 622.2,332.3 622.7,331.8 623.2,331.4 623.7,331.4 624.2,331.8 624.7,332.3 625.2,332.7 625.7,332.9 626.2,332.7 626.7,332.3 627.2,331.8 627.7,331.4 628.3,331.4 628.8,331.8 629.3,332.3 629.8,332.7 630.3,332.9 630.8,332.7 631.3,332.3 631.8,331.8 632.3,331.4 632.8,331.4 633.3,331.8 633.8,332.3 634.3,332.7 634.8,332.9 635.3,332.7 635.9,332.3 636.4,331.8 636.9,331.4 637.4,331.4 637.9,331.8 638.4,332.3 638.9,332.7 639.4,332.9 639.9,332.9 640.4,332.9 641.1,332.9 641.9,332.9 642.7,332.9 643.6,332.9 644.5,332.9 645.5,332.9 646.5,332.9 647.5,332.9 648.4,332.9 649.3,332.9 650.2,332.9 651.1,332.9 651.8,332.9 652.5,332.9 653.0,332.9 653.5,332.9" fill="none" stroke="#1a1a1a" stroke-width="0.9" stroke-linejoin="round"/>
<text x="590.30" y="327.00" font-family='"Liberation Serif", serif' font-size="7.0" font-style="italic" font-weight="bold" fill="#1a1a1a" text-anchor="middle">h<tspan font-size='5' dy='1.6'>1</tspan></text>
<path d="M532.5,341.5 532.9,341.5 533.3,341.4 533.7,341.2 534.1,341.1 534.6,340.8 535.0,340.5 535.4,340.2 535.8,339.9 536.2,339.6 536.6,339.3 537.0,339.0 537.4,338.6 537.8,338.4 538.3,338.1 538.7,338.0 539.1,337.8 539.5,337.7 539.9,337.7 540.3,337.7 540.7,337.8 541.1,338.0 541.5,338.2 542.0,338.4 542.4,338.7 542.8,339.0 543.2,339.4 543.6,339.7 544.0,340.1 544.4,340.4 544.8,340.8 545.2,341.1 545.6,341.4 546.1,341.6 546.5,341.8 546.9,342.0 547.3,342.1 547.7,342.1 548.1,342.0 548.5,341.9 548.9,341.7 549.4,341.3 549.8,341.0 550.2,340.5 550.6,340.1 551.0,339.7 551.4,339.2 551.8,338.9 552.3,338.5 552.7,338.3 553.1,338.2 553.5,338.1 553.9,338.2 554.3,338.4 554.8,338.8 555.2,339.3 555.6,339.8 556.0,340.3 556.5,340.7 556.9,340.9 557.3,341.0 557.7,341.0 558.1,340.9 558.5,340.8 558.9,340.7 559.3,340.6 559.7,340.5 560.1,340.4 560.5,340.3 560.9,340.2 561.3,340.2 561.7,340.2 562.3,340.2 562.9,340.2 563.7,340.2 564.4,340.2 565.3,340.2 566.2,340.2 567.1,340.2 568.0,340.2 569.0,340.2 569.9,340.2 570.8,340.2 571.7,340.2 572.5,340.2 573.3,340.2 574.1,340.2 574.7,340.2 575.3,340.2 575.7,340.2 576.2,339.9 576.5,339.6 576.7,339.2 577.0,338.7 577.2,338.2 577.5,337.7 577.7,337.3 578.2,336.8 578.8,336.8 579.3,337.3 579.5,337.7 579.8,338.2 580.0,338.7 580.3,339.2 580.5,339.6 580.8,339.9 581.3,340.2 581.8,339.9 582.1,339.6 582.3,339.2 582.6,338.7 582.8,338.2 583.1,337.7 583.3,337.3 583.8,336.8 584.4,336.8 584.9,337.3 585.1,337.7 585.4,338.2 585.6,338.7 585.9,339.2 586.1,339.6 586.4,339.9 586.9,340.2 587.4,339.9 587.7,339.6 587.9,339.2 588.2,338.7 588.4,338.2 588.7,337.7 588.9,337.3 589.4,336.8 590.0,336.8 590.5,337.3 590.7,337.7 591.0,338.2 591.2,338.7 591.5,339.2 591.7,339.6 592.0,339.9 592.5,340.2 593.0,339.9 593.3,339.6 593.5,339.2 593.8,338.7 594.0,338.2 594.3,337.7 594.5,337.3 595.0,336.8 595.6,336.8 596.1,337.3 596.3,337.7 596.6,338.2 596.8,338.7 597.1,339.2 597.3,339.6 597.6,339.9 598.1,340.2 598.7,340.2 599.5,340.3 600.4,340.3 601.2,340.3 602.0,340.3 602.6,340.3 603.1,339.8 603.4,339.2 603.6,338.4 603.8,337.8 603.9,337.2 604.1,336.6 604.3,336.1 604.5,335.5 604.6,335.1 604.9,334.6 605.1,334.3 605.6,334.6 605.9,335.1 606.1,335.8 606.3,336.3 606.5,336.9 606.6,337.5 606.8,338.1 607.0,338.7 607.1,339.2 607.4,339.8 607.6,340.2 608.2,340.2 608.4,339.8 608.7,339.2 608.8,338.7 609.0,338.1 609.2,337.5 609.3,336.9 609.5,336.3 609.7,335.8 609.9,335.1 610.2,334.6 610.7,334.3 610.9,334.6 611.2,335.1 611.3,335.5 611.5,336.1 611.7,336.6 611.9,337.2 612.0,337.8 612.2,338.4 612.4,339.2 612.7,339.8 613.2,340.3 613.7,340.3 614.5,340.3 615.3,340.3 616.1,340.3 616.6,340.3 617.1,340.2 617.6,340.0 618.1,339.6 618.6,339.3 619.1,339.1 619.6,339.1 620.1,339.3 620.7,339.6 621.2,339.9 621.7,340.2 622.2,340.3 622.7,340.2 623.2,340.0 623.7,339.7 624.2,339.4 624.7,339.2 625.2,339.1 625.7,339.2 626.2,339.5 626.7,339.8 627.2,340.1 627.7,340.3 628.3,340.3 628.8,340.1 629.3,339.8 629.8,339.5 630.3,339.2 630.8,339.1 631.3,339.2 631.8,339.4 632.3,339.7 632.8,340.0 633.3,340.2 633.8,340.3 634.3,340.2 634.8,339.9 635.3,339.6 635.9,339.3 636.4,339.1 636.9,339.1 637.4,339.3 637.9,339.6 638.4,340.0 638.9,340.2 639.4,340.3 639.9,340.3 640.4,340.3 641.1,340.3 641.9,340.3 642.7,340.3 643.6,340.3 644.5,340.3 645.5,340.3 646.5,340.3 647.5,340.3 648.4,340.3 649.3,340.3 650.2,340.3 651.1,340.3 651.8,340.3 652.5,340.3 653.0,340.3 653.5,340.3" fill="none" stroke="#5aa25a" stroke-width="0.8" stroke-linejoin="round"/>
<text x="657.50" y="345.00" font-family='"Liberation Serif", serif' font-size="7.0" font-style="italic" font-weight="bold" fill="#5aa25a" text-anchor="middle">h<tspan font-size='5' dy='1.6'>2</tspan><tspan font-size='5.5' dy='-4.5'>'</tspan></text>
<path d="M584.90,345.00V356.70" stroke="#000" stroke-width="1.1"/><path d="M584.90,342.10L582.90,345.50L586.90,345.50Z M584.90,359.60L582.90,356.20L586.90,356.20Z" fill="#000"/>
<path d="M591.20,337.40V356.70" stroke="#000" stroke-width="1.1"/><path d="M591.20,334.50L589.20,337.90L593.20,337.90Z M591.20,359.60L589.20,356.20L593.20,356.20Z" fill="#000"/>
<text x="569.80" y="350.60" font-size="6.0" font-weight="bold" textLength="14.4" lengthAdjust="spacingAndGlyphs" fill="#111">51meV</text>
<text x="592.00" y="348.60" font-size="6.0" font-weight="bold" textLength="14.8" lengthAdjust="spacingAndGlyphs" fill="#111">72meV</text>
<path d="M616.6,360.4 616.6,360.4 616.8,360.2 617.1,359.8 617.3,359.3 617.4,358.7 617.6,358.0 617.8,357.3 618.0,356.5 618.1,355.7 618.3,354.9 618.5,354.2 618.6,353.5 618.9,352.7 619.1,352.2 619.6,352.0 619.9,352.4 620.1,353.1 620.3,353.7 620.5,354.4 620.7,355.1 620.8,355.9 621.0,356.7 621.2,357.5 621.3,358.2 621.5,358.8 621.7,359.4 621.9,360.0 622.2,360.4 622.7,360.0 622.9,359.4 623.2,358.5 623.4,357.8 623.5,357.1 623.7,356.3 623.9,355.5 624.0,354.7 624.2,354.0 624.4,353.4 624.5,352.8 624.7,352.4 625.2,351.9 625.5,352.2 625.7,352.7 625.9,353.2 626.1,353.9 626.2,354.6 626.4,355.3 626.6,356.1 626.7,356.9 626.9,357.6 627.1,358.4 627.2,359.0 627.5,359.7 627.7,360.2 628.3,360.2 628.5,359.7 628.8,359.0 628.9,358.4 629.1,357.6 629.3,356.9 629.4,356.1 629.6,355.3 629.8,354.6 629.9,353.9 630.1,353.2 630.3,352.7 630.5,352.2 630.8,351.9 631.3,352.4 631.5,352.8 631.6,353.4 631.8,354.0 632.0,354.7 632.1,355.5 632.3,356.3 632.5,357.1 632.6,357.8 632.8,358.5 633.1,359.4 633.3,360.0 633.8,360.4 634.1,360.0 634.3,359.4 634.5,358.8 634.7,358.2 634.8,357.5 635.0,356.7 635.2,355.9 635.3,355.1 635.5,354.4 635.7,353.7 635.9,353.1 636.1,352.4 636.4,352.0 636.9,352.2 637.1,352.7 637.4,353.5 637.5,354.2 637.7,354.9 637.9,355.7 638.0,356.5 638.2,357.3 638.4,358.0 638.6,358.7 638.7,359.3 638.9,359.8 639.0,360.2 639.4,360.4 639.9,360.5 640.7,360.5 641.5,360.5 642.3,360.4 642.8,360.4 643.3,359.8 643.5,359.3 643.6,358.8 643.8,358.2 644.0,357.5 644.2,356.8 644.3,356.1 644.5,355.5 644.7,354.9 644.8,354.3 645.1,353.8 645.3,353.4 645.9,353.7 646.1,354.3 646.4,355.1 646.5,355.8 646.7,356.5 646.9,357.2 647.0,357.8 647.2,358.5 647.4,359.1 647.6,359.8 647.9,360.2 648.4,360.2 648.7,359.8 648.9,359.1 649.1,358.5 649.3,357.8 649.4,357.2 649.6,356.5 649.8,355.8 649.9,355.2 650.2,354.3 650.4,353.7 651.0,353.4 651.2,353.8 651.5,354.3 651.6,354.9 651.8,355.5 652.0,356.1 652.1,356.8 652.3,357.5 652.5,358.2 652.7,358.8 652.8,359.3 653.0,359.8 653.5,360.4" fill="none" stroke="#5aa25a" stroke-width="0.8" stroke-linejoin="round"/>
<text x="657.50" y="357.20" font-family='"Liberation Serif", serif' font-size="7.0" font-style="italic" font-weight="bold" fill="#5aa25a" text-anchor="middle">h<tspan font-size='5' dy='1.6'>1</tspan><tspan font-size='5.5' dy='-4.5'>'</tspan></text>
<path d="M532.5,369.0 616.0,369.0" fill="none" stroke="#3a3ab8" stroke-width="0.8" stroke-dasharray="2,1" stroke-linejoin="round"/>
<path d="M616.6,362.8 617.1,363.3 617.4,363.8 617.6,364.5 617.8,365.0 618.0,365.6 618.1,366.1 618.3,366.7 618.5,367.2 618.6,367.6 618.9,368.2 619.1,368.6 619.6,368.7 619.9,368.4 620.1,368.0 620.4,367.3 620.7,366.5 620.8,366.0 621.0,365.4 621.2,364.9 621.4,364.1 621.7,363.5 621.9,363.1 622.2,362.8 622.7,363.1 622.9,363.5 623.2,364.1 623.4,364.6 623.5,365.1 623.7,365.7 623.9,366.2 624.0,366.8 624.2,367.3 624.5,368.0 624.7,368.4 625.2,368.8 625.7,368.2 626.0,367.6 626.2,366.9 626.4,366.4 626.6,365.8 626.7,365.3 627.0,364.5 627.2,363.8 627.5,363.3 627.7,362.9 628.3,362.9 628.5,363.3 628.8,363.8 629.0,364.5 629.3,365.3 629.4,365.8 629.6,366.4 629.8,366.9 630.0,367.6 630.3,368.2 630.8,368.8 631.3,368.4 631.5,368.0 631.8,367.3 632.0,366.8 632.1,366.2 632.3,365.7 632.5,365.1 632.6,364.6 632.8,364.1 633.1,363.5 633.3,363.1 633.8,362.8 634.1,363.1 634.3,363.5 634.6,364.1 634.8,364.9 635.0,365.4 635.2,366.0 635.3,366.5 635.6,367.3 635.9,368.0 636.1,368.4 636.4,368.7 636.9,368.6 637.1,368.2 637.4,367.6 637.5,367.2 637.7,366.7 637.9,366.1 638.0,365.6 638.2,365.0 638.4,364.5 638.6,363.8 638.9,363.3 639.4,362.8 639.9,362.8 640.7,362.7 641.5,362.7 642.3,362.8 642.8,362.8 643.3,363.3 643.6,363.9 643.8,364.7 644.0,365.3 644.2,365.9 644.3,366.5 644.5,367.0 644.7,367.6 644.8,368.0 645.1,368.5 645.3,368.8 645.9,368.5 646.1,368.0 646.4,367.3 646.5,366.8 646.7,366.2 646.9,365.6 647.0,365.0 647.2,364.4 647.4,363.9 647.6,363.3 647.9,362.9 648.4,362.9 648.7,363.3 648.9,363.9 649.1,364.4 649.3,365.0 649.4,365.6 649.6,366.2 649.8,366.8 649.9,367.3 650.2,368.0 650.4,368.5 651.0,368.8 651.2,368.5 651.5,368.0 651.6,367.6 651.8,367.0 652.0,366.5 652.1,365.9 652.3,365.3 652.5,364.7 652.7,363.9 653.0,363.3 653.5,362.8" fill="none" stroke="#3a3ab8" stroke-width="0.8" stroke-linejoin="round"/>
<text x="657.50" y="365.40" font-family='"Liberation Serif", serif' font-size="7.0" font-style="italic" font-weight="bold" fill="#3a3ab8" text-anchor="middle">h<tspan font-size='5' dy='1.6'>2</tspan><tspan font-size='5.5' dy='-4.5'>''</tspan></text>
</g>
<rect x="37.0" y="9.4" width="147.40" height="172.90" fill="none" stroke="#3a3a3a" stroke-width="1"/>
<text x="37.00" y="195.00" font-size="9.5" text-anchor="middle" fill="#111" class="tk">-40</text>
<text x="63.80" y="195.00" font-size="9.5" text-anchor="middle" fill="#111" class="tk">-20</text>
<text x="90.60" y="195.00" font-size="9.5" text-anchor="middle" fill="#111" class="tk">0</text>
<text x="117.40" y="195.00" font-size="9.5" text-anchor="middle" fill="#111" class="tk">20</text>
<text x="144.20" y="195.00" font-size="9.5" text-anchor="middle" fill="#111" class="tk">40</text>
<text x="171.00" y="195.00" font-size="9.5" text-anchor="middle" fill="#111" class="tk">60</text>
<text x="31.60" y="163.15" font-size="9.5" text-anchor="end" fill="#111" class="tk">0.0</text>
<text x="31.60" y="125.56" font-size="9.5" text-anchor="end" fill="#111" class="tk">0.1</text>
<text x="31.60" y="87.97" font-size="9.5" text-anchor="end" fill="#111" class="tk">0.2</text>
<text x="31.60" y="50.39" font-size="9.5" text-anchor="end" fill="#111" class="tk">0.3</text>
<text x="31.60" y="12.80" font-size="9.5" text-anchor="end" fill="#111" class="tk">0.4</text>
<path d="M37.00,182.3v2.8 M37.00,9.4v2.8 M50.40,182.3v2.0 M50.40,9.4v2.0 M63.80,182.3v2.8 M63.80,9.4v2.8 M77.20,182.3v2.0 M77.20,9.4v2.0 M90.60,182.3v2.8 M90.60,9.4v2.8 M104.00,182.3v2.0 M104.00,9.4v2.0 M117.40,182.3v2.8 M117.40,9.4v2.8 M130.80,182.3v2.0 M130.80,9.4v2.0 M144.20,182.3v2.8 M144.20,9.4v2.8 M157.60,182.3v2.0 M157.60,9.4v2.0 M171.00,182.3v2.8 M171.00,9.4v2.8 M184.40,182.3v2.0 M184.40,9.4v2.0 M37.0,178.54h-2.0 M184.4,178.54h-2.0 M37.0,159.75h-2.8 M184.4,159.75h-2.8 M37.0,140.95h-2.0 M184.4,140.95h-2.0 M37.0,122.16h-2.8 M184.4,122.16h-2.8 M37.0,103.37h-2.0 M184.4,103.37h-2.0 M37.0,84.57h-2.8 M184.4,84.57h-2.8 M37.0,65.78h-2.0 M184.4,65.78h-2.0 M37.0,46.99h-2.8 M184.4,46.99h-2.8 M37.0,28.19h-2.0 M184.4,28.19h-2.0 M37.0,9.40h-2.8 M184.4,9.40h-2.8" stroke="#3a3a3a" stroke-width="0.9" fill="none"/>
<text x="65.80" y="207.90" font-size="10" textLength="90.6" lengthAdjust="spacingAndGlyphs" fill="#111" class="tk">Growth direction [nm]</text>
<rect x="195.4" y="10.45" width="147.30" height="173.05" fill="none" stroke="#3a3a3a" stroke-width="1"/>
<text x="195.40" y="196.20" font-size="9.5" text-anchor="middle" fill="#111" class="tk">-40</text>
<text x="222.18" y="196.20" font-size="9.5" text-anchor="middle" fill="#111" class="tk">-20</text>
<text x="248.96" y="196.20" font-size="9.5" text-anchor="middle" fill="#111" class="tk">0</text>
<text x="275.75" y="196.20" font-size="9.5" text-anchor="middle" fill="#111" class="tk">20</text>
<text x="302.53" y="196.20" font-size="9.5" text-anchor="middle" fill="#111" class="tk">40</text>
<text x="329.31" y="196.20" font-size="9.5" text-anchor="middle" fill="#111" class="tk">60</text>
<path d="M195.40,183.5v2.8 M195.40,10.45v2.8 M208.79,183.5v2.0 M208.79,10.45v2.0 M222.18,183.5v2.8 M222.18,10.45v2.8 M235.57,183.5v2.0 M235.57,10.45v2.0 M248.96,183.5v2.8 M248.96,10.45v2.8 M262.35,183.5v2.0 M262.35,10.45v2.0 M275.75,183.5v2.8 M275.75,10.45v2.8 M289.14,183.5v2.0 M289.14,10.45v2.0 M302.53,183.5v2.8 M302.53,10.45v2.8 M315.92,183.5v2.0 M315.92,10.45v2.0 M329.31,183.5v2.8 M329.31,10.45v2.8 M342.70,183.5v2.0 M342.70,10.45v2.0 M195.4,179.74h-2.0 M342.7,179.74h-2.0 M195.4,160.93h-2.8 M342.7,160.93h-2.8 M195.4,142.12h-2.0 M342.7,142.12h-2.0 M195.4,123.31h-2.8 M342.7,123.31h-2.8 M195.4,104.50h-2.0 M342.7,104.50h-2.0 M195.4,85.69h-2.8 M342.7,85.69h-2.8 M195.4,66.88h-2.0 M342.7,66.88h-2.0 M195.4,48.07h-2.8 M342.7,48.07h-2.8 M195.4,29.26h-2.0 M342.7,29.26h-2.0 M195.4,10.45h-2.8 M342.7,10.45h-2.8" stroke="#3a3a3a" stroke-width="0.9" fill="none"/>
<text x="224.15" y="209.10" font-size="10" textLength="90.6" lengthAdjust="spacingAndGlyphs" fill="#111" class="tk">Growth direction [nm]</text>
<rect x="353.5" y="10.5" width="147.30" height="173.50" fill="none" stroke="#3a3a3a" stroke-width="1"/>
<text x="353.50" y="196.70" font-size="9.5" text-anchor="middle" fill="#111" class="tk">-40</text>
<text x="380.28" y="196.70" font-size="9.5" text-anchor="middle" fill="#111" class="tk">-20</text>
<text x="407.06" y="196.70" font-size="9.5" text-anchor="middle" fill="#111" class="tk">0</text>
<text x="433.85" y="196.70" font-size="9.5" text-anchor="middle" fill="#111" class="tk">20</text>
<text x="460.63" y="196.70" font-size="9.5" text-anchor="middle" fill="#111" class="tk">40</text>
<text x="487.41" y="196.70" font-size="9.5" text-anchor="middle" fill="#111" class="tk">60</text>
<path d="M353.50,184.0v2.8 M353.50,10.5v2.8 M366.89,184.0v2.0 M366.89,10.5v2.0 M380.28,184.0v2.8 M380.28,10.5v2.8 M393.67,184.0v2.0 M393.67,10.5v2.0 M407.06,184.0v2.8 M407.06,10.5v2.8 M420.45,184.0v2.0 M420.45,10.5v2.0 M433.85,184.0v2.8 M433.85,10.5v2.8 M447.24,184.0v2.0 M447.24,10.5v2.0 M460.63,184.0v2.8 M460.63,10.5v2.8 M474.02,184.0v2.0 M474.02,10.5v2.0 M487.41,184.0v2.8 M487.41,10.5v2.8 M500.80,184.0v2.0 M500.80,10.5v2.0 M353.5,180.23h-2.0 M500.8,180.23h-2.0 M353.5,161.37h-2.8 M500.8,161.37h-2.8 M353.5,142.51h-2.0 M500.8,142.51h-2.0 M353.5,123.65h-2.8 M500.8,123.65h-2.8 M353.5,104.79h-2.0 M500.8,104.79h-2.0 M353.5,85.93h-2.8 M500.8,85.93h-2.8 M353.5,67.08h-2.0 M500.8,67.08h-2.0 M353.5,48.22h-2.8 M500.8,48.22h-2.8 M353.5,29.36h-2.0 M500.8,29.36h-2.0 M353.5,10.50h-2.8 M500.8,10.50h-2.8" stroke="#3a3a3a" stroke-width="0.9" fill="none"/>
<text x="382.25" y="209.60" font-size="10" textLength="90.6" lengthAdjust="spacingAndGlyphs" fill="#111" class="tk">Growth direction [nm]</text>
<rect x="515.4" y="10.6" width="147.20" height="174.00" fill="none" stroke="#3a3a3a" stroke-width="1"/>
<text x="515.40" y="197.30" font-size="9.5" text-anchor="middle" fill="#111" class="tk">-40</text>
<text x="542.16" y="197.30" font-size="9.5" text-anchor="middle" fill="#111" class="tk">-20</text>
<text x="568.93" y="197.30" font-size="9.5" text-anchor="middle" fill="#111" class="tk">0</text>
<text x="595.69" y="197.30" font-size="9.5" text-anchor="middle" fill="#111" class="tk">20</text>
<text x="622.45" y="197.30" font-size="9.5" text-anchor="middle" fill="#111" class="tk">40</text>
<text x="649.22" y="197.30" font-size="9.5" text-anchor="middle" fill="#111" class="tk">60</text>
<path d="M515.40,184.6v2.8 M515.40,10.6v2.8 M528.78,184.6v2.0 M528.78,10.6v2.0 M542.16,184.6v2.8 M542.16,10.6v2.8 M555.55,184.6v2.0 M555.55,10.6v2.0 M568.93,184.6v2.8 M568.93,10.6v2.8 M582.31,184.6v2.0 M582.31,10.6v2.0 M595.69,184.6v2.8 M595.69,10.6v2.8 M609.07,184.6v2.0 M609.07,10.6v2.0 M622.45,184.6v2.8 M622.45,10.6v2.8 M635.84,184.6v2.0 M635.84,10.6v2.0 M649.22,184.6v2.8 M649.22,10.6v2.8 M662.60,184.6v2.0 M662.60,10.6v2.0 M515.4,180.82h-2.0 M662.6,180.82h-2.0 M515.4,161.90h-2.8 M662.6,161.90h-2.8 M515.4,142.99h-2.0 M662.6,142.99h-2.0 M515.4,124.08h-2.8 M662.6,124.08h-2.8 M515.4,105.17h-2.0 M662.6,105.17h-2.0 M515.4,86.25h-2.8 M662.6,86.25h-2.8 M515.4,67.34h-2.0 M662.6,67.34h-2.0 M515.4,48.43h-2.8 M662.6,48.43h-2.8 M515.4,29.51h-2.0 M662.6,29.51h-2.0 M515.4,10.60h-2.8 M662.6,10.60h-2.8" stroke="#3a3a3a" stroke-width="0.9" fill="none"/>
<text x="544.10" y="210.20" font-size="10" textLength="90.6" lengthAdjust="spacingAndGlyphs" fill="#111" class="tk">Growth direction [nm]</text>
<rect x="37.4" y="236.5" width="147.40" height="172.50" fill="none" stroke="#3a3a3a" stroke-width="1"/>
<text x="60.67" y="419.50" font-size="9.5" text-anchor="middle" fill="#111" class="tk">-20</text>
<text x="91.71" y="419.50" font-size="9.5" text-anchor="middle" fill="#111" class="tk">0</text>
<text x="122.74" y="419.50" font-size="9.5" text-anchor="middle" fill="#111" class="tk">20</text>
<text x="153.77" y="419.50" font-size="9.5" text-anchor="middle" fill="#111" class="tk">40</text>
<text x="32.00" y="389.90" font-size="9.5" text-anchor="end" fill="#111" class="tk">0.0</text>
<text x="32.00" y="352.40" font-size="9.5" text-anchor="end" fill="#111" class="tk">0.1</text>
<text x="32.00" y="314.90" font-size="9.5" text-anchor="end" fill="#111" class="tk">0.2</text>
<text x="32.00" y="277.40" font-size="9.5" text-anchor="end" fill="#111" class="tk">0.3</text>
<text x="32.00" y="239.90" font-size="9.5" text-anchor="end" fill="#111" class="tk">0.4</text>
<path d="M45.16,409.0v2.0 M45.16,236.5v2.0 M60.67,409.0v2.8 M60.67,236.5v2.8 M76.19,409.0v2.0 M76.19,236.5v2.0 M91.71,409.0v2.8 M91.71,236.5v2.8 M107.22,409.0v2.0 M107.22,236.5v2.0 M122.74,409.0v2.8 M122.74,236.5v2.8 M138.25,409.0v2.0 M138.25,236.5v2.0 M153.77,409.0v2.8 M153.77,236.5v2.8 M169.28,409.0v2.0 M169.28,236.5v2.0 M184.80,409.0v2.8 M184.80,236.5v2.8 M37.4,405.25h-2.0 M184.8,405.25h-2.0 M37.4,386.50h-2.8 M184.8,386.50h-2.8 M37.4,367.75h-2.0 M184.8,367.75h-2.0 M37.4,349.00h-2.8 M184.8,349.00h-2.8 M37.4,330.25h-2.0 M184.8,330.25h-2.0 M37.4,311.50h-2.8 M184.8,311.50h-2.8 M37.4,292.75h-2.0 M184.8,292.75h-2.0 M37.4,274.00h-2.8 M184.8,274.00h-2.8 M37.4,255.25h-2.0 M184.8,255.25h-2.0 M37.4,236.50h-2.8 M184.8,236.50h-2.8" stroke="#3a3a3a" stroke-width="0.9" fill="none"/>
<text x="59.40" y="434.90" font-size="10" textLength="90.6" lengthAdjust="spacingAndGlyphs" fill="#111" class="tk">Growth direction [nm]</text>
<rect x="196.3" y="236.4" width="147.30" height="172.40" fill="none" stroke="#3a3a3a" stroke-width="1"/>
<text x="219.56" y="419.30" font-size="9.5" text-anchor="middle" fill="#111" class="tk">-20</text>
<text x="250.57" y="419.30" font-size="9.5" text-anchor="middle" fill="#111" class="tk">0</text>
<text x="281.58" y="419.30" font-size="9.5" text-anchor="middle" fill="#111" class="tk">20</text>
<text x="312.59" y="419.30" font-size="9.5" text-anchor="middle" fill="#111" class="tk">40</text>
<path d="M204.05,408.8v2.0 M204.05,236.4v2.0 M219.56,408.8v2.8 M219.56,236.4v2.8 M235.06,408.8v2.0 M235.06,236.4v2.0 M250.57,408.8v2.8 M250.57,236.4v2.8 M266.07,408.8v2.0 M266.07,236.4v2.0 M281.58,408.8v2.8 M281.58,236.4v2.8 M297.08,408.8v2.0 M297.08,236.4v2.0 M312.59,408.8v2.8 M312.59,236.4v2.8 M328.09,408.8v2.0 M328.09,236.4v2.0 M343.60,408.8v2.8 M343.60,236.4v2.8 M196.3,405.05h-2.0 M343.6,405.05h-2.0 M196.3,386.31h-2.8 M343.6,386.31h-2.8 M196.3,367.57h-2.0 M343.6,367.57h-2.0 M196.3,348.83h-2.8 M343.6,348.83h-2.8 M196.3,330.10h-2.0 M343.6,330.10h-2.0 M196.3,311.36h-2.8 M343.6,311.36h-2.8 M196.3,292.62h-2.0 M343.6,292.62h-2.0 M196.3,273.88h-2.8 M343.6,273.88h-2.8 M196.3,255.14h-2.0 M343.6,255.14h-2.0 M196.3,236.40h-2.8 M343.6,236.40h-2.8" stroke="#3a3a3a" stroke-width="0.9" fill="none"/>
<text x="218.25" y="434.70" font-size="10" textLength="90.6" lengthAdjust="spacingAndGlyphs" fill="#111" class="tk">Growth direction [nm]</text>
<rect x="356.2" y="236.4" width="147.30" height="172.00" fill="none" stroke="#3a3a3a" stroke-width="1"/>
<text x="379.46" y="418.90" font-size="9.5" text-anchor="middle" fill="#111" class="tk">-20</text>
<text x="410.47" y="418.90" font-size="9.5" text-anchor="middle" fill="#111" class="tk">0</text>
<text x="441.48" y="418.90" font-size="9.5" text-anchor="middle" fill="#111" class="tk">20</text>
<text x="472.49" y="418.90" font-size="9.5" text-anchor="middle" fill="#111" class="tk">40</text>
<path d="M363.95,408.4v2.0 M363.95,236.4v2.0 M379.46,408.4v2.8 M379.46,236.4v2.8 M394.96,408.4v2.0 M394.96,236.4v2.0 M410.47,408.4v2.8 M410.47,236.4v2.8 M425.97,408.4v2.0 M425.97,236.4v2.0 M441.48,408.4v2.8 M441.48,236.4v2.8 M456.98,408.4v2.0 M456.98,236.4v2.0 M472.49,408.4v2.8 M472.49,236.4v2.8 M487.99,408.4v2.0 M487.99,236.4v2.0 M503.50,408.4v2.8 M503.50,236.4v2.8 M356.2,404.66h-2.0 M503.5,404.66h-2.0 M356.2,385.97h-2.8 M503.5,385.97h-2.8 M356.2,367.27h-2.0 M503.5,367.27h-2.0 M356.2,348.57h-2.8 M503.5,348.57h-2.8 M356.2,329.88h-2.0 M503.5,329.88h-2.0 M356.2,311.18h-2.8 M503.5,311.18h-2.8 M356.2,292.49h-2.0 M503.5,292.49h-2.0 M356.2,273.79h-2.8 M503.5,273.79h-2.8 M356.2,255.10h-2.0 M503.5,255.10h-2.0 M356.2,236.40h-2.8 M503.5,236.40h-2.8" stroke="#3a3a3a" stroke-width="0.9" fill="none"/>
<text x="378.15" y="434.30" font-size="10" textLength="90.6" lengthAdjust="spacingAndGlyphs" fill="#111" class="tk">Growth direction [nm]</text>
<rect x="517.4" y="236.2" width="147.60" height="172.60" fill="none" stroke="#3a3a3a" stroke-width="1"/>
<text x="540.71" y="419.30" font-size="9.5" text-anchor="middle" fill="#111" class="tk">-20</text>
<text x="571.78" y="419.30" font-size="9.5" text-anchor="middle" fill="#111" class="tk">0</text>
<text x="602.85" y="419.30" font-size="9.5" text-anchor="middle" fill="#111" class="tk">20</text>
<text x="633.93" y="419.30" font-size="9.5" text-anchor="middle" fill="#111" class="tk">40</text>
<path d="M525.17,408.8v2.0 M525.17,236.2v2.0 M540.71,408.8v2.8 M540.71,236.2v2.8 M556.24,408.8v2.0 M556.24,236.2v2.0 M571.78,408.8v2.8 M571.78,236.2v2.8 M587.32,408.8v2.0 M587.32,236.2v2.0 M602.85,408.8v2.8 M602.85,236.2v2.8 M618.39,408.8v2.0 M618.39,236.2v2.0 M633.93,408.8v2.8 M633.93,236.2v2.8 M649.46,408.8v2.0 M649.46,236.2v2.0 M665.00,408.8v2.8 M665.00,236.2v2.8 M517.4,405.05h-2.0 M665.0,405.05h-2.0 M517.4,386.29h-2.8 M665.0,386.29h-2.8 M517.4,367.53h-2.0 M665.0,367.53h-2.0 M517.4,348.77h-2.8 M665.0,348.77h-2.8 M517.4,330.00h-2.0 M665.0,330.00h-2.0 M517.4,311.24h-2.8 M665.0,311.24h-2.8 M517.4,292.48h-2.0 M665.0,292.48h-2.0 M517.4,273.72h-2.8 M665.0,273.72h-2.8 M517.4,254.96h-2.0 M665.0,254.96h-2.0 M517.4,236.20h-2.8 M665.0,236.20h-2.8" stroke="#3a3a3a" stroke-width="0.9" fill="none"/>
<text x="539.50" y="434.70" font-size="10" textLength="90.6" lengthAdjust="spacingAndGlyphs" fill="#111" class="tk">Growth direction [nm]</text>
<text x="184.2" y="23.2" font-size="14" text-anchor="end" fill="#111" class="tk">(a1)</text>
<text x="341.8" y="24.5" font-size="14" text-anchor="end" fill="#111" class="tk">(a2)</text>
<text x="499.2" y="25.8" font-size="14" text-anchor="end" fill="#111" class="tk">(a3)</text>
<text x="656.2" y="27.1" font-size="14" text-anchor="end" fill="#111" class="tk">(a4)</text>
<text x="182.8" y="252.8" font-size="14" text-anchor="end" fill="#111" class="tk">(b1)</text>
<text x="340.6" y="254.2" font-size="14" text-anchor="end" fill="#111" class="tk">(b2)</text>
<text x="499.4" y="252.8" font-size="14" text-anchor="end" fill="#111" class="tk">(b3)</text>
<text x="656.5" y="253.9" font-size="14" text-anchor="end" fill="#111" class="tk">(b4)</text>
<text transform="translate(15.3,98.0) rotate(-90)" font-size="9.6" text-anchor="middle" fill="#111" class="tk">Energy [eV]</text>
<text transform="translate(15.3,326.2) rotate(-90)" font-size="9.6" text-anchor="middle" fill="#111" class="tk">Energy [eV]</text>
</svg></body></html>
